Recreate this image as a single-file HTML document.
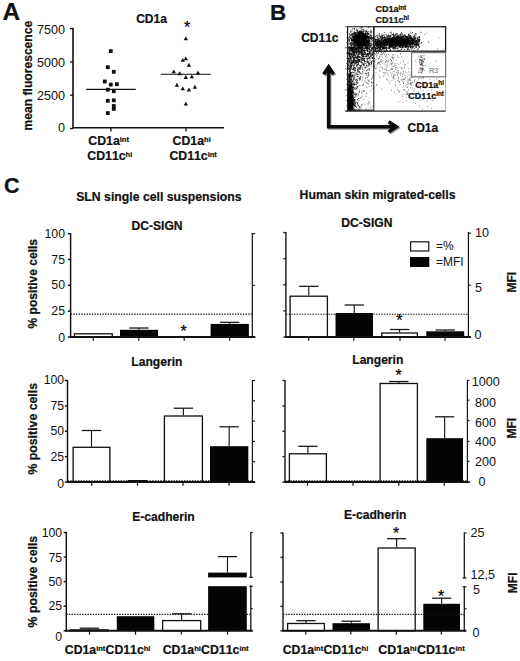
<!DOCTYPE html>
<html lang="en">
<head>
<meta charset="utf-8">
<title>Figure: CD1a / CD11c dendritic cell subsets</title>
<style>
html,body{margin:0;padding:0;background:#fff;}
body{width:520px;height:661px;overflow:hidden;font-family:"Liberation Sans",sans-serif;}
svg{display:block;}
svg text{font-family:"Liberation Sans",sans-serif;font-kerning:none;}
</style>
</head>
<body>
<svg width="520" height="661" viewBox="0 0 520 661" shape-rendering="auto">
<rect x="0" y="0" width="520" height="661" fill="#fff"/>
<text x="2.5" y="19.8" font-size="24.4" font-weight="bold" stroke="#111" stroke-width="0.22" text-anchor="start" fill="#111" >A</text>
<line x1="73.0" y1="27.8" x2="73.0" y2="128.5" stroke="#111" stroke-width="1.6" />
<line x1="72.2" y1="127.8" x2="224" y2="127.8" stroke="#111" stroke-width="1.6" />
<line x1="70.0" y1="128.5" x2="73.0" y2="128.5" stroke="#111" stroke-width="1.3" />
<text transform="translate(65.0 132.2) scale(1.05 1)" font-size="12" text-anchor="end" fill="#111" >0</text>
<line x1="70.0" y1="95.2" x2="73.0" y2="95.2" stroke="#111" stroke-width="1.3" />
<text transform="translate(65.0 100.2) scale(1.05 1)" font-size="12" text-anchor="end" fill="#111" >2500</text>
<line x1="70.0" y1="61.9" x2="73.0" y2="61.9" stroke="#111" stroke-width="1.3" />
<text transform="translate(65.0 66.7) scale(1.05 1)" font-size="12" text-anchor="end" fill="#111" >5000</text>
<line x1="70.0" y1="28.6" x2="73.0" y2="28.6" stroke="#111" stroke-width="1.3" />
<text transform="translate(65.0 33.7) scale(1.05 1)" font-size="12" text-anchor="end" fill="#111" >7500</text>
<line x1="110.9" y1="127.8" x2="110.9" y2="131.4" stroke="#111" stroke-width="1.3" />
<line x1="186.0" y1="127.8" x2="186.0" y2="131.4" stroke="#111" stroke-width="1.3" />
<text transform="translate(32.0 75.6) rotate(-90)" font-size="12.1" font-weight="bold" stroke="#111" stroke-width="0.22" text-anchor="middle" fill="#111">mean fluorescence</text>
<text x="136.2" y="22.5" font-size="12" font-weight="bold" stroke="#111" stroke-width="0.22" text-anchor="start" fill="#111" >CD1a</text>
<text x="187.0" y="32.96" font-size="16" text-anchor="middle" fill="#000" stroke="#000" stroke-width="0.25">*</text>
<rect x="108.9" y="49.2" width="3.8" height="3.8" fill="#111"/>
<rect x="105.9" y="65.3" width="3.8" height="3.8" fill="#111"/>
<rect x="111.9" y="69.9" width="3.8" height="3.8" fill="#111"/>
<rect x="102.9" y="79.6" width="3.8" height="3.8" fill="#111"/>
<rect x="108.9" y="82.7" width="3.8" height="3.8" fill="#111"/>
<rect x="115.0" y="82.3" width="3.8" height="3.8" fill="#111"/>
<rect x="105.9" y="87.8" width="3.8" height="3.8" fill="#111"/>
<rect x="111.9" y="89.3" width="3.8" height="3.8" fill="#111"/>
<rect x="105.9" y="98.9" width="3.8" height="3.8" fill="#111"/>
<rect x="111.9" y="98.4" width="3.8" height="3.8" fill="#111"/>
<rect x="111.9" y="104.1" width="3.8" height="3.8" fill="#111"/>
<rect x="111.9" y="107.0" width="3.8" height="3.8" fill="#111"/>
<rect x="105.9" y="111.2" width="3.8" height="3.8" fill="#111"/>
<line x1="86.2" y1="89.4" x2="135.8" y2="89.4" stroke="#111" stroke-width="1.1" />
<path d="M183.6 40.3L188.0 40.3L185.8 36.4Z" fill="#111"/>
<path d="M183.6 60.3L188.0 60.3L185.8 56.4Z" fill="#111"/>
<path d="M180.6 61.8L185.0 61.8L182.8 57.9Z" fill="#111"/>
<path d="M186.7 66.7L191.1 66.7L188.9 62.8Z" fill="#111"/>
<path d="M171.6 73.3L176.0 73.3L173.8 69.4Z" fill="#111"/>
<path d="M177.5 75.2L181.9 75.2L179.7 71.3Z" fill="#111"/>
<path d="M195.8 74.4L200.2 74.4L198.0 70.5Z" fill="#111"/>
<path d="M183.6 79.0L188.0 79.0L185.8 75.1Z" fill="#111"/>
<path d="M189.6 78.3L194.0 78.3L191.8 74.4Z" fill="#111"/>
<path d="M174.7 86.7L179.1 86.7L176.9 82.8Z" fill="#111"/>
<path d="M180.6 90.3L185.0 90.3L182.8 86.4Z" fill="#111"/>
<path d="M186.7 91.5L191.1 91.5L188.9 87.6Z" fill="#111"/>
<path d="M192.7 88.7L197.1 88.7L194.9 84.8Z" fill="#111"/>
<path d="M183.6 105.6L188.0 105.6L185.8 101.7Z" fill="#111"/>
<line x1="160.8" y1="74.3" x2="210.8" y2="74.3" stroke="#111" stroke-width="1.1" />
<text x="88.3" y="144.9" font-size="12.3" font-weight="bold" stroke="#111" stroke-width="0.22" text-anchor="start" fill="#111" >CD1a<tspan font-size="7.5" dy="-3.2">int</tspan><tspan dy="3.2" font-size="1"> </tspan></text>
<text x="87.3" y="160.1" font-size="12.3" font-weight="bold" stroke="#111" stroke-width="0.22" text-anchor="start" fill="#111" >CD11c<tspan font-size="7.5" dy="-3.2">hi</tspan><tspan dy="3.2" font-size="1"> </tspan></text>
<text x="172.6" y="144.9" font-size="12.3" font-weight="bold" stroke="#111" stroke-width="0.22" text-anchor="start" fill="#111" >CD1a<tspan font-size="7.5" dy="-3.2">hi</tspan><tspan dy="3.2" font-size="1"> </tspan></text>
<text x="169.4" y="160.1" font-size="12.3" font-weight="bold" stroke="#111" stroke-width="0.22" text-anchor="start" fill="#111" >CD11c<tspan font-size="7.5" dy="-3.2">int</tspan><tspan dy="3.2" font-size="1"> </tspan></text>
<text x="269.9" y="20.2" font-size="22.4" font-weight="bold" stroke="#111" stroke-width="0.22" text-anchor="start" fill="#111" >B</text>
<text x="301.2" y="42.3" font-size="12" font-weight="bold" stroke="#111" stroke-width="0.22" text-anchor="start" fill="#111" >CD11c</text>
<text x="407.5" y="131.7" font-size="12" font-weight="bold" stroke="#111" stroke-width="0.22" text-anchor="start" fill="#111" >CD1a</text>
<text x="375.4" y="12.3" font-size="9" font-weight="bold" stroke="#111" stroke-width="0.22" text-anchor="start" fill="#111" >CD1a<tspan font-size="6.3" dy="-2.4">int</tspan><tspan dy="2.4" font-size="1"> </tspan></text>
<text x="375.4" y="22.8" font-size="9" font-weight="bold" stroke="#111" stroke-width="0.22" text-anchor="start" fill="#111" >CD11c<tspan font-size="6.3" dy="-2.4">hi</tspan><tspan dy="2.4" font-size="1"> </tspan></text>
<path d="M328.6 127 L328.6 67.5 M323.7 74.2 L328.6 66.9 L333.5 74.2 M326.85 126.8 L395.5 126.8 M388.6 121.7 L396.4 126.8 L388.6 131.9" transform="translate(1.1 1.2)" fill="none" stroke="#999" stroke-width="3.5" stroke-linejoin="miter"/>
<path d="M328.6 127 L328.6 67.5 M323.7 74.2 L328.6 66.9 L333.5 74.2 M326.85 126.8 L395.5 126.8 M388.6 121.7 L396.4 126.8 L388.6 131.9" fill="none" stroke="#0a0a0a" stroke-width="3.5" stroke-linejoin="miter"/>
<path d="M368.6 40.8h0.95M358.0 39.4h0.95M360.5 38.9h0.95M362.3 40.6h0.95M356.4 45.2h0.95M360.3 32.0h0.95M360.3 34.4h0.95M351.7 33.8h0.95M365.3 37.1h0.95M363.2 33.0h0.95M357.2 42.0h0.95M359.5 40.2h0.95M362.8 38.8h0.95M359.0 37.1h0.95M359.1 40.4h0.95M353.2 40.5h0.95M363.0 41.1h0.95M360.9 37.0h0.95M361.6 42.3h0.95M352.8 34.1h0.95M368.4 44.7h0.95M361.1 27.8h0.95M358.4 37.5h0.95M370.2 35.1h0.95M360.1 42.9h0.95M353.2 34.0h0.95M358.3 46.9h0.95M349.1 33.8h0.95M365.4 47.7h0.95M358.3 41.5h0.95M356.7 39.9h0.95M365.6 41.5h0.95M352.2 48.4h0.95M362.9 43.3h0.95M350.2 31.1h0.95M357.1 44.5h0.95M354.4 40.7h0.95M367.5 33.5h0.95M369.0 42.8h0.95M358.7 35.1h0.95M364.4 40.5h0.95M359.4 40.7h0.95M363.1 37.3h0.95M356.6 42.3h0.95M351.9 35.8h0.95M351.5 40.5h0.95M362.2 37.7h0.95M371.3 39.1h0.95M361.6 47.3h0.95M357.7 40.2h0.95M369.7 35.6h0.95M361.5 39.3h0.95M360.8 36.8h0.95M361.5 39.9h0.95M359.7 40.4h0.95M358.8 40.1h0.95M353.3 40.1h0.95M362.8 37.7h0.95M359.8 41.6h0.95M366.1 43.9h0.95M358.5 37.4h0.95M351.0 39.6h0.95M359.8 40.0h0.95M368.6 44.7h0.95M358.4 44.0h0.95M355.9 37.0h0.95M354.5 40.1h0.95M355.2 34.0h0.95M358.8 36.0h0.95M354.5 39.9h0.95M367.6 42.3h0.95M358.9 43.5h0.95M360.8 38.6h0.95M367.3 34.5h0.95M367.7 41.3h0.95M359.3 39.1h0.95M361.9 41.5h0.95M363.9 40.4h0.95M359.4 42.6h0.95M351.6 42.4h0.95M363.5 43.1h0.95M364.7 38.0h0.95M362.3 43.7h0.95M355.8 37.8h0.95M359.3 40.1h0.95M357.4 47.1h0.95M358.8 41.2h0.95M366.7 35.3h0.95M367.8 45.6h0.95M363.6 43.7h0.95M363.0 44.2h0.95M363.6 40.6h0.95M360.2 41.1h0.95M359.9 38.9h0.95M357.0 37.1h0.95M360.0 45.8h0.95M371.4 38.4h0.95M364.6 37.9h0.95M358.6 38.1h0.95M358.0 47.1h0.95M356.1 43.2h0.95M362.1 38.4h0.95M362.2 39.6h0.95M353.2 41.8h0.95M362.7 43.2h0.95M357.5 33.5h0.95M367.3 43.3h0.95M361.1 38.9h0.95M368.7 37.1h0.95M358.1 38.3h0.95M358.9 42.9h0.95M361.8 46.7h0.95M365.5 40.4h0.95M363.1 42.0h0.95M354.3 36.6h0.95M361.2 41.7h0.95M360.4 43.0h0.95M358.2 34.0h0.95M357.1 37.8h0.95M368.9 42.9h0.95M358.4 32.9h0.95M356.2 38.3h0.95M363.4 42.1h0.95M360.9 33.2h0.95M359.9 38.3h0.95M364.1 40.0h0.95M362.7 43.3h0.95M362.1 34.8h0.95M365.0 44.1h0.95M361.7 41.0h0.95M357.3 44.5h0.95M358.5 44.3h0.95M357.7 41.1h0.95M361.3 41.7h0.95M355.0 33.0h0.95M351.3 34.5h0.95M360.7 35.9h0.95M353.8 38.4h0.95M350.7 43.4h0.95M362.1 32.8h0.95M356.8 38.6h0.95M362.7 34.6h0.95M357.7 33.7h0.95M354.8 45.6h0.95M354.2 40.2h0.95M357.8 46.2h0.95M359.0 44.4h0.95M356.3 36.2h0.95M358.9 32.6h0.95M352.8 47.9h0.95M360.4 38.2h0.95M351.5 35.3h0.95M359.4 42.5h0.95M363.7 40.3h0.95M365.7 37.2h0.95M368.7 38.5h0.95M352.7 40.4h0.95M364.0 40.1h0.95M366.2 42.7h0.95M365.1 38.4h0.95M355.7 38.5h0.95M362.3 42.1h0.95M369.4 41.0h0.95M353.0 44.1h0.95M362.6 38.8h0.95M365.8 39.4h0.95M356.9 35.3h0.95M363.2 45.6h0.95M355.1 34.4h0.95M356.3 40.6h0.95M356.3 36.3h0.95M361.2 41.1h0.95M359.9 42.7h0.95M365.0 33.4h0.95M355.7 39.0h0.95M359.7 32.9h0.95M365.0 45.3h0.95M363.0 38.1h0.95M353.8 33.7h0.95M363.6 37.1h0.95M358.0 44.9h0.95M362.2 45.6h0.95M361.8 44.8h0.95M366.3 36.7h0.95M360.9 39.2h0.95M351.2 46.2h0.95M353.6 36.9h0.95M363.9 38.5h0.95M359.0 36.1h0.95M365.9 35.3h0.95M361.6 44.5h0.95M356.6 42.3h0.95M365.6 41.6h0.95M356.3 42.1h0.95M350.2 43.8h0.95M370.4 45.7h0.95M350.9 39.8h0.95M363.4 38.5h0.95M364.9 35.8h0.95M361.0 44.0h0.95M352.1 37.8h0.95M365.3 34.0h0.95M353.2 38.8h0.95M353.7 39.9h0.95M358.5 43.0h0.95M364.2 43.7h0.95M361.8 36.9h0.95M364.3 36.7h0.95M358.1 38.5h0.95M359.5 35.1h0.95M354.7 39.4h0.95M358.7 41.6h0.95M363.2 40.0h0.95M358.8 33.5h0.95M362.6 35.2h0.95M357.5 44.8h0.95M357.4 35.8h0.95M360.5 42.7h0.95M359.3 42.3h0.95M363.2 38.5h0.95M361.2 35.9h0.95M368.8 40.6h0.95M359.2 36.3h0.95M359.2 39.1h0.95M355.2 40.2h0.95M360.4 37.0h0.95M363.6 38.9h0.95M356.7 38.6h0.95M360.1 35.0h0.95M363.8 39.1h0.95M359.7 37.3h0.95M357.8 32.7h0.95M365.1 38.5h0.95M360.8 38.7h0.95M362.2 37.4h0.95M366.0 31.8h0.95M365.9 42.8h0.95M358.6 42.5h0.95M357.7 42.3h0.95M361.7 41.1h0.95M359.6 34.9h0.95M351.0 40.3h0.95M366.5 36.2h0.95M360.4 48.3h0.95M363.9 37.8h0.95M354.6 42.4h0.95M366.6 33.7h0.95M357.4 35.2h0.95M359.8 37.7h0.95M353.4 42.5h0.95M359.5 41.9h0.95M359.2 40.9h0.95M359.4 32.6h0.95M362.4 44.2h0.95M360.6 36.2h0.95M365.1 46.1h0.95M358.0 47.1h0.95M355.4 43.0h0.95M360.2 43.7h0.95M363.4 34.9h0.95M366.4 49.9h0.95M364.3 40.6h0.95M351.6 43.7h0.95M362.1 36.5h0.95M367.5 39.5h0.95M360.6 35.2h0.95M357.8 38.9h0.95M361.8 39.9h0.95M357.8 40.8h0.95M363.4 45.2h0.95M360.2 41.7h0.95M367.1 40.8h0.95M362.7 40.0h0.95M356.8 47.6h0.95M363.3 37.5h0.95M364.9 44.4h0.95M357.5 32.2h0.95M358.2 36.4h0.95M349.0 41.4h0.95M364.7 39.2h0.95M357.4 51.5h0.95M349.9 49.9h0.95M351.6 33.9h0.95M359.2 35.6h0.95M364.0 39.2h0.95M359.9 46.6h0.95M362.6 44.2h0.95M354.9 41.1h0.95M353.7 34.3h0.95M364.6 36.5h0.95M362.7 29.3h0.95M360.2 33.8h0.95M366.6 41.5h0.95M355.6 42.9h0.95M358.2 34.7h0.95M365.3 40.2h0.95M369.3 46.2h0.95M360.3 40.5h0.95M368.5 38.6h0.95M357.3 42.2h0.95M361.9 41.9h0.95M359.4 40.1h0.95M352.5 37.7h0.95M361.6 38.2h0.95M364.9 40.2h0.95M359.6 37.7h0.95M360.0 45.0h0.95M367.1 43.3h0.95M354.2 44.1h0.95M353.0 47.7h0.95M357.1 46.0h0.95M354.4 45.4h0.95M366.9 41.3h0.95M361.8 39.1h0.95M356.1 48.8h0.95M357.3 37.2h0.95M374.3 37.4h0.95M357.3 36.4h0.95M356.6 40.7h0.95M361.8 41.4h0.95M363.4 43.8h0.95M361.4 38.9h0.95M355.8 33.1h0.95M354.6 41.1h0.95M363.2 43.6h0.95M360.0 39.9h0.95M352.3 39.3h0.95M366.0 42.0h0.95M364.1 45.4h0.95M359.1 39.6h0.95M359.0 34.3h0.95M361.4 37.6h0.95M356.9 39.2h0.95M353.7 32.8h0.95M361.9 42.8h0.95M353.2 36.8h0.95M362.2 41.8h0.95M353.2 40.6h0.95M359.8 38.6h0.95M359.6 46.2h0.95M369.0 37.6h0.95M355.1 37.2h0.95M353.4 40.9h0.95M357.1 43.1h0.95M354.8 39.8h0.95M357.4 36.0h0.95M362.4 42.5h0.95M364.1 42.2h0.95M368.4 47.9h0.95M356.7 38.9h0.95M373.2 40.6h0.95M370.0 37.6h0.95M359.3 34.0h0.95M349.1 40.1h0.95M359.9 43.1h0.95M360.7 35.9h0.95M349.0 37.2h0.95M360.7 35.2h0.95M359.3 45.0h0.95M356.5 37.3h0.95M363.4 42.1h0.95M365.2 36.4h0.95M357.9 40.1h0.95M361.4 37.4h0.95M357.1 30.6h0.95M356.4 40.1h0.95M360.7 41.9h0.95M362.9 31.7h0.95M357.5 39.1h0.95M349.5 38.1h0.95M363.2 35.6h0.95M352.5 38.8h0.95M360.9 32.2h0.95M369.0 40.8h0.95M360.2 44.4h0.95M354.5 34.9h0.95M353.1 39.5h0.95M366.0 45.4h0.95M360.2 40.3h0.95M362.9 37.8h0.95M364.8 36.2h0.95M360.1 40.5h0.95M358.8 39.3h0.95M355.7 42.3h0.95M352.9 44.0h0.95M360.0 38.2h0.95M359.4 42.3h0.95M362.3 37.0h0.95M359.7 34.7h0.95M361.1 37.6h0.95M364.2 36.1h0.95M356.0 38.3h0.95M358.9 42.3h0.95M352.4 44.0h0.95M365.1 40.6h0.95M360.5 37.7h0.95M362.7 38.0h0.95M367.9 42.1h0.95M365.6 44.2h0.95M360.0 38.5h0.95M364.2 39.3h0.95M353.3 36.9h0.95M362.4 40.6h0.95M361.0 43.5h0.95M352.4 28.5h0.95M366.9 40.8h0.95M356.9 37.7h0.95M363.6 30.7h0.95M358.2 41.0h0.95M365.2 39.5h0.95M366.7 41.2h0.95M356.2 34.5h0.95M352.8 48.1h0.95M359.7 40.2h0.95M364.5 38.5h0.95M358.5 45.7h0.95M357.3 42.3h0.95M362.7 43.0h0.95M357.0 31.7h0.95M353.5 46.3h0.95M361.7 38.4h0.95M356.7 40.9h0.95M354.8 43.4h0.95M358.6 37.0h0.95M353.1 41.0h0.95M360.2 42.8h0.95M357.0 39.6h0.95M358.5 41.7h0.95M356.8 33.5h0.95M364.8 35.2h0.95M359.8 35.3h0.95M362.9 41.2h0.95M362.7 54.4h0.95M356.3 40.8h0.95M363.1 39.2h0.95M362.0 39.5h0.95M361.8 43.6h0.95M358.3 42.6h0.95M358.2 35.3h0.95M364.1 43.8h0.95M371.0 39.7h0.95M356.2 43.0h0.95M362.9 32.0h0.95M358.5 33.7h0.95M364.1 42.1h0.95M362.4 32.8h0.95M365.5 41.3h0.95M357.4 40.4h0.95M355.5 41.2h0.95M359.8 40.8h0.95M356.8 41.5h0.95M357.2 38.2h0.95M363.6 39.7h0.95M369.6 51.2h0.95M358.8 42.2h0.95M361.8 41.3h0.95M360.3 37.0h0.95M358.6 40.7h0.95M353.7 38.8h0.95M355.7 43.5h0.95M363.9 36.2h0.95M365.6 30.6h0.95M360.8 37.6h0.95M356.2 42.5h0.95M360.8 49.4h0.95M359.1 43.8h0.95M363.0 36.0h0.95M360.9 38.9h0.95M357.3 36.1h0.95M361.2 39.1h0.95M354.5 36.3h0.95M364.3 33.4h0.95M366.1 41.5h0.95M354.5 40.6h0.95M362.4 39.1h0.95M355.4 41.2h0.95M365.6 47.7h0.95M364.7 40.3h0.95M359.2 38.3h0.95M365.2 43.2h0.95M358.2 33.4h0.95M357.1 42.7h0.95M357.5 36.8h0.95M359.6 36.6h0.95M358.7 40.2h0.95M361.1 46.3h0.95M357.3 36.9h0.95M364.0 43.5h0.95M365.3 41.3h0.95M357.9 34.4h0.95M353.3 43.4h0.95M363.8 36.6h0.95M365.9 34.1h0.95M359.5 36.7h0.95M354.0 37.0h0.95M361.6 42.1h0.95M367.8 36.9h0.95M351.1 45.6h0.95M362.6 40.7h0.95M358.8 37.0h0.95M356.1 36.5h0.95M362.7 40.7h0.95M353.9 31.9h0.95M361.8 31.3h0.95M366.7 36.3h0.95M361.2 42.3h0.95M356.0 40.5h0.95M351.6 39.9h0.95M354.0 39.0h0.95M351.3 31.3h0.95M368.1 38.5h0.95M359.1 32.9h0.95M355.2 43.1h0.95M353.9 39.8h0.95M355.1 39.4h0.95M358.7 41.4h0.95M354.0 41.1h0.95M368.5 40.7h0.95M356.6 41.2h0.95M356.5 37.5h0.95M361.8 34.6h0.95M367.4 41.1h0.95M366.8 45.4h0.95M357.9 43.7h0.95M361.6 39.0h0.95M361.0 42.2h0.95M362.9 38.1h0.95M361.6 41.3h0.95M355.7 37.4h0.95M354.1 40.3h0.95M361.2 47.6h0.95M354.5 42.8h0.95M367.0 45.6h0.95M360.5 36.8h0.95M355.3 37.1h0.95M358.7 39.6h0.95M357.8 42.0h0.95M359.7 39.0h0.95M364.9 43.8h0.95M353.2 37.7h0.95M351.1 45.1h0.95M362.0 43.6h0.95M359.4 35.4h0.95M361.1 42.1h0.95M362.5 38.9h0.95M359.4 43.8h0.95M364.2 37.7h0.95M355.9 41.0h0.95M360.6 41.9h0.95M356.2 29.1h0.95M354.8 32.5h0.95M363.3 40.3h0.95M363.1 39.3h0.95M350.8 43.8h0.95M354.8 40.7h0.95M361.7 34.8h0.95M365.5 41.1h0.95M357.0 36.9h0.95M359.4 38.9h0.95M353.4 37.8h0.95M372.6 41.2h0.95M362.6 34.3h0.95M364.7 35.4h0.95M363.5 31.1h0.95M364.9 48.2h0.95M363.3 35.9h0.95M358.7 36.4h0.95M363.9 35.3h0.95M360.7 37.3h0.95M366.7 38.1h0.95M356.7 42.2h0.95M357.6 40.5h0.95M363.5 41.1h0.95M366.6 37.5h0.95M361.0 39.5h0.95M356.8 44.5h0.95M359.7 39.7h0.95M357.9 41.0h0.95M369.6 31.9h0.95M364.7 41.8h0.95M366.5 40.8h0.95M361.8 44.8h0.95M357.6 29.1h0.95M366.0 39.9h0.95M368.4 39.3h0.95M363.2 40.1h0.95M360.2 37.3h0.95M365.6 40.6h0.95M358.5 42.5h0.95M364.0 39.9h0.95M356.8 38.6h0.95M355.5 38.9h0.95M363.1 38.2h0.95M362.0 39.9h0.95M369.6 36.9h0.95M358.9 32.0h0.95M360.4 45.0h0.95M354.7 32.9h0.95M351.1 39.3h0.95M351.6 34.6h0.95M362.6 38.6h0.95M354.5 35.9h0.95M365.8 39.5h0.95M367.3 36.4h0.95M358.9 34.6h0.95M368.4 40.9h0.95M361.4 44.9h0.95M365.8 41.0h0.95M359.2 40.1h0.95M365.0 35.6h0.95M355.7 39.3h0.95M363.4 41.4h0.95M358.0 37.1h0.95M359.7 43.2h0.95M363.4 39.5h0.95M361.1 41.0h0.95M359.9 37.7h0.95M363.9 37.7h0.95M364.2 40.5h0.95M353.5 41.1h0.95M363.0 41.0h0.95M363.6 35.7h0.95M356.6 36.8h0.95M362.2 39.5h0.95M353.8 32.4h0.95M367.4 43.7h0.95M359.1 40.9h0.95M359.9 39.8h0.95M366.2 36.8h0.95M359.6 42.8h0.95M363.2 38.5h0.95M355.2 47.0h0.95M357.5 41.1h0.95M353.5 33.8h0.95M359.3 42.4h0.95M365.4 37.5h0.95M361.4 37.6h0.95M364.6 38.7h0.95M355.3 39.1h0.95M356.0 40.6h0.95M358.0 42.6h0.95M363.1 41.4h0.95M362.0 36.8h0.95M360.2 34.3h0.95M363.4 36.4h0.95M359.6 41.0h0.95M360.2 43.0h0.95M366.7 46.6h0.95M357.4 34.3h0.95M361.2 39.9h0.95M368.2 38.7h0.95M360.8 38.0h0.95M363.8 40.1h0.95M357.3 38.6h0.95M369.9 38.5h0.95M349.3 37.0h0.95M354.7 41.1h0.95M355.1 43.7h0.95M368.2 45.9h0.95M362.0 37.5h0.95M359.0 35.5h0.95M354.0 38.5h0.95M362.1 36.3h0.95M360.9 43.6h0.95M356.9 36.4h0.95M353.0 39.9h0.95M354.9 34.3h0.95M361.3 38.2h0.95M361.8 40.3h0.95M360.7 45.5h0.95M359.6 36.9h0.95M351.6 41.0h0.95M360.5 31.5h0.95M355.2 34.9h0.95M360.5 36.4h0.95M362.6 37.6h0.95M357.0 41.2h0.95M355.3 42.0h0.95M365.2 33.3h0.95M362.0 41.6h0.95M357.2 35.2h0.95M360.1 40.8h0.95M363.4 40.2h0.95M365.8 38.9h0.95M357.0 39.4h0.95M357.1 39.6h0.95M358.1 36.9h0.95M364.4 42.5h0.95M354.5 40.6h0.95M359.7 42.5h0.95M355.8 39.3h0.95M361.6 42.2h0.95M352.7 36.6h0.95M362.1 53.5h0.95M357.9 36.8h0.95M359.2 37.8h0.95M362.9 43.3h0.95M365.9 44.4h0.95M352.0 36.4h0.95M365.2 33.1h0.95M363.0 34.1h0.95M358.9 35.7h0.95M367.2 36.5h0.95M361.2 38.9h0.95M366.6 43.6h0.95M357.4 43.8h0.95M356.1 37.2h0.95M366.3 41.7h0.95M370.9 43.0h0.95M363.4 45.0h0.95M364.7 38.9h0.95M358.0 36.6h0.95M353.8 42.5h0.95M359.2 45.4h0.95M367.7 37.5h0.95M351.2 47.1h0.95M357.9 46.2h0.95M350.9 38.5h0.95M360.8 33.4h0.95M364.6 37.2h0.95M354.2 38.2h0.95M358.3 41.6h0.95M366.8 33.0h0.95M359.9 49.0h0.95M354.2 48.7h0.95M353.9 36.7h0.95M350.4 32.3h0.95M364.1 38.9h0.95M356.6 41.2h0.95M365.4 44.8h0.95M364.5 42.3h0.95M357.1 38.7h0.95M357.7 31.9h0.95M364.1 41.5h0.95M361.0 42.8h0.95M361.6 38.3h0.95M352.2 40.6h0.95M364.7 40.3h0.95M356.0 38.6h0.95M349.2 35.0h0.95M357.3 40.9h0.95M362.4 34.0h0.95M370.6 45.0h0.95M358.5 36.0h0.95M353.8 41.4h0.95M370.7 36.7h0.95M361.1 41.0h0.95M359.0 38.7h0.95M355.0 41.6h0.95M355.4 36.4h0.95M367.5 33.2h0.95M359.0 38.4h0.95M357.7 38.1h0.95M357.8 33.6h0.95M368.0 36.8h0.95M357.4 33.0h0.95M363.4 40.0h0.95M361.6 38.1h0.95M361.5 39.6h0.95M356.0 49.7h0.95M363.5 40.1h0.95M368.2 41.0h0.95M360.0 42.0h0.95M355.8 39.0h0.95M354.0 37.2h0.95M361.2 42.9h0.95M359.0 43.5h0.95M359.8 28.1h0.95M360.4 38.9h0.95M353.1 38.2h0.95M364.1 37.3h0.95M361.4 44.3h0.95M359.9 37.4h0.95M361.4 42.9h0.95M364.8 37.4h0.95M360.6 37.9h0.95M356.1 42.3h0.95M366.0 36.6h0.95M358.2 38.9h0.95M356.7 35.2h0.95M352.6 36.0h0.95M360.3 42.3h0.95M355.2 41.8h0.95M357.8 35.0h0.95M362.5 34.9h0.95M360.5 49.4h0.95M365.3 37.0h0.95M361.8 36.1h0.95M358.3 41.5h0.95M358.7 36.5h0.95M357.8 38.1h0.95M363.5 43.0h0.95M360.4 43.4h0.95M358.3 38.7h0.95M364.4 44.7h0.95M360.8 38.9h0.95M358.0 38.6h0.95M352.9 39.5h0.95M362.4 38.3h0.95M361.5 41.5h0.95M360.6 40.6h0.95M358.2 36.5h0.95M356.2 40.2h0.95M359.2 37.4h0.95M361.4 37.2h0.95M359.7 38.9h0.95M359.6 43.5h0.95M358.0 40.6h0.95M362.0 44.4h0.95M361.4 45.6h0.95M356.6 39.4h0.95M364.0 37.1h0.95M364.2 36.4h0.95M364.3 40.6h0.95M359.7 42.9h0.95M359.3 45.7h0.95M354.6 34.4h0.95M364.0 43.1h0.95M349.8 43.7h0.95M358.4 49.0h0.95M358.6 40.2h0.95M364.5 39.4h0.95M360.3 33.6h0.95M355.6 36.5h0.95M353.3 35.2h0.95M356.7 35.6h0.95M360.8 36.0h0.95M360.6 33.5h0.95M359.3 39.2h0.95M356.9 41.0h0.95M359.3 42.5h0.95M365.2 39.1h0.95M354.9 43.6h0.95M360.5 43.7h0.95M368.2 33.6h0.95M363.0 38.5h0.95M358.1 34.7h0.95M363.5 35.7h0.95M356.6 40.3h0.95M360.3 39.0h0.95M367.9 45.2h0.95M369.6 47.5h0.95M351.9 41.2h0.95M363.7 38.8h0.95M369.8 39.0h0.95M357.6 39.5h0.95M361.6 41.8h0.95M367.7 36.7h0.95M357.9 41.8h0.95M362.5 38.6h0.95M360.0 43.7h0.95M350.9 44.9h0.95M362.0 46.3h0.95M359.4 39.0h0.95M364.8 34.3h0.95M370.6 33.0h0.95M363.7 38.4h0.95M358.5 34.1h0.95M362.5 33.2h0.95M361.3 38.2h0.95M365.3 35.7h0.95M353.2 42.3h0.95M354.6 47.1h0.95M350.3 38.7h0.95M363.3 40.8h0.95M360.2 33.4h0.95M357.2 40.3h0.95M356.7 36.9h0.95M357.5 35.3h0.95M355.8 32.3h0.95M358.7 45.8h0.95M357.9 33.3h0.95M367.1 34.9h0.95M361.9 39.6h0.95M356.3 40.7h0.95M357.4 40.8h0.95M366.2 40.0h0.95M362.5 36.1h0.95M361.7 42.6h0.95M363.8 40.4h0.95M368.1 34.0h0.95M354.3 45.9h0.95M356.6 38.3h0.95M351.8 43.3h0.95M362.7 34.0h0.95M358.4 35.0h0.95M357.0 37.4h0.95M356.6 36.9h0.95M363.7 43.6h0.95M359.6 33.3h0.95M357.7 40.3h0.95M366.5 35.7h0.95M355.2 41.7h0.95M354.1 40.5h0.95M373.0 37.5h0.95M358.5 48.3h0.95M357.6 39.5h0.95M356.7 43.9h0.95M359.6 34.5h0.95M364.1 39.2h0.95M364.0 40.0h0.95M363.0 40.2h0.95M358.9 38.3h0.95M353.0 36.4h0.95M361.7 27.6h0.95M367.7 37.5h0.95M365.5 36.1h0.95M359.5 38.7h0.95M364.2 43.0h0.95M358.4 48.3h0.95M360.0 41.8h0.95M354.3 43.7h0.95M358.8 42.1h0.95M361.0 42.5h0.95M359.5 42.0h0.95M364.1 38.7h0.95M369.5 38.4h0.95M366.8 41.0h0.95M358.8 46.7h0.95M356.7 42.8h0.95M357.1 46.0h0.95M355.5 34.7h0.95M360.5 40.8h0.95M362.4 41.3h0.95M361.2 41.8h0.95M361.2 34.4h0.95M361.1 32.6h0.95M359.7 31.5h0.95M356.7 38.2h0.95M368.8 48.9h0.95M365.4 40.6h0.95M355.8 35.0h0.95M355.9 41.1h0.95M357.4 38.6h0.95M360.5 40.4h0.95M366.5 38.0h0.95M365.3 34.7h0.95M365.5 37.7h0.95M365.6 42.6h0.95M365.7 41.0h0.95M363.9 44.6h0.95M362.5 35.6h0.95M359.7 43.9h0.95M351.8 40.0h0.95M359.7 40.6h0.95M369.1 44.7h0.95M357.7 39.3h0.95M357.2 40.8h0.95M365.3 42.3h0.95M360.7 42.4h0.95M357.9 43.0h0.95M367.9 44.9h0.95M363.4 41.9h0.95M364.0 38.2h0.95M357.5 49.4h0.95M362.7 39.8h0.95M362.1 41.4h0.95M364.1 37.0h0.95M365.9 31.4h0.95M365.8 36.9h0.95M361.1 40.2h0.95M363.7 42.0h0.95M354.7 40.0h0.95M363.5 43.0h0.95M363.7 43.8h0.95M358.4 43.8h0.95M356.5 40.0h0.95M360.0 40.3h0.95M354.4 39.1h0.95M362.0 36.5h0.95M361.7 45.5h0.95M355.7 35.1h0.95M360.5 39.7h0.95M365.5 40.8h0.95M365.5 31.6h0.95M365.3 42.9h0.95M359.6 38.6h0.95M358.6 40.8h0.95M358.4 38.7h0.95M363.2 34.0h0.95M371.8 40.7h0.95M367.2 40.4h0.95M368.1 43.9h0.95M366.9 41.8h0.95M352.4 33.4h0.95M359.3 44.3h0.95M358.2 43.1h0.95M366.4 43.0h0.95M368.6 41.9h0.95M357.0 37.2h0.95M360.5 42.0h0.95M363.0 38.5h0.95M357.9 51.2h0.95M357.2 39.0h0.95M357.0 35.6h0.95M364.6 38.6h0.95M355.8 45.6h0.95M365.9 37.7h0.95M360.7 30.4h0.95M364.0 45.7h0.95M367.9 41.2h0.95M357.0 38.0h0.95M356.3 42.8h0.95M362.4 36.4h0.95M355.2 35.4h0.95M356.7 43.7h0.95M359.7 38.0h0.95M361.1 42.0h0.95M354.2 40.0h0.95M358.4 43.2h0.95M363.2 40.4h0.95M366.9 32.0h0.95M350.7 42.6h0.95M366.7 38.1h0.95M364.6 43.4h0.95M355.0 40.4h0.95M353.1 45.5h0.95M362.3 38.7h0.95M358.2 31.9h0.95M361.0 38.7h0.95M364.5 42.0h0.95M358.5 38.6h0.95M361.1 38.1h0.95M362.6 45.7h0.95M364.6 39.4h0.95M368.9 44.1h0.95M368.6 40.5h0.95M361.5 34.3h0.95M359.1 36.3h0.95M371.9 38.7h0.95M363.4 41.2h0.95M362.4 36.8h0.95M354.9 34.4h0.95M364.1 36.0h0.95M356.5 37.9h0.95M358.1 36.5h0.95M353.8 37.7h0.95M357.8 47.2h0.95M360.6 41.0h0.95M353.0 36.8h0.95M355.9 39.9h0.95M359.9 46.1h0.95M354.1 42.5h0.95M354.2 39.6h0.95M356.2 34.7h0.95M353.4 33.3h0.95M363.3 38.6h0.95M355.5 39.5h0.95M364.1 33.6h0.95M364.8 34.7h0.95M354.5 39.8h0.95M360.5 31.3h0.95M358.0 33.2h0.95M354.8 39.7h0.95M358.7 42.1h0.95M359.1 41.2h0.95M363.8 43.8h0.95M365.3 46.1h0.95M354.9 43.4h0.95M358.3 38.9h0.95M362.9 48.3h0.95M366.1 46.5h0.95M348.4 43.6h0.95M366.5 36.8h0.95M359.5 41.5h0.95M367.8 31.8h0.95M358.2 38.7h0.95M356.2 30.3h0.95M360.5 38.3h0.95M366.0 44.0h0.95M360.4 40.0h0.95M348.8 46.3h0.95M363.6 40.0h0.95M352.4 40.4h0.95M355.5 38.8h0.95M354.6 42.1h0.95M351.3 39.9h0.95M354.2 44.7h0.95M355.5 46.3h0.95M357.3 41.5h0.95M360.0 35.6h0.95M358.7 42.2h0.95M353.0 45.3h0.95M359.4 42.6h0.95M365.1 41.2h0.95M364.9 43.7h0.95M361.0 45.2h0.95M363.3 29.8h0.95M364.7 46.0h0.95M367.0 43.0h0.95M368.6 41.9h0.95M358.7 37.9h0.95M359.0 40.9h0.95M367.5 42.4h0.95M367.9 34.2h0.95M367.8 42.9h0.95M348.8 40.3h0.95M359.2 45.8h0.95M363.9 39.3h0.95M360.6 40.2h0.95M360.6 42.5h0.95M359.6 40.6h0.95M366.7 42.2h0.95M358.9 37.3h0.95M365.4 35.2h0.95M363.0 37.8h0.95M362.0 34.5h0.95M362.6 37.0h0.95M360.8 41.4h0.95M354.9 33.7h0.95M363.8 35.2h0.95M363.8 42.9h0.95M359.6 38.0h0.95M363.9 40.0h0.95M364.7 35.2h0.95M354.0 36.0h0.95M359.6 38.9h0.95M358.1 46.4h0.95M355.9 41.8h0.95M361.9 33.5h0.95M356.2 41.8h0.95M358.2 43.6h0.95M361.5 42.7h0.95M362.0 35.3h0.95M361.9 39.8h0.95M371.2 48.3h0.95M357.8 36.4h0.95M361.5 41.3h0.95M354.4 37.1h0.95M362.7 35.1h0.95M366.0 38.4h0.95M366.2 44.1h0.95M357.2 44.6h0.95M358.9 36.6h0.95M366.5 38.2h0.95M359.8 36.6h0.95M365.0 31.9h0.95M355.5 42.4h0.95M367.1 46.1h0.95M365.3 45.9h0.95M362.6 38.2h0.95M356.4 45.2h0.95M359.5 44.3h0.95M361.0 38.7h0.95M359.4 30.4h0.95M356.9 42.8h0.95M361.1 43.6h0.95M372.2 44.1h0.95M353.0 55.2h0.95M351.1 39.2h0.95M365.6 42.9h0.95M359.9 32.9h0.95M352.4 39.6h0.95M353.7 42.2h0.95M355.2 41.8h0.95M361.8 46.8h0.95M366.5 47.4h0.95M358.4 49.0h0.95M360.6 42.0h0.95M354.3 45.9h0.95M366.7 38.7h0.95M368.9 45.2h0.95M357.7 45.9h0.95M354.3 40.0h0.95M366.0 39.1h0.95M353.3 58.4h0.95M357.5 39.2h0.95M367.9 43.6h0.95M355.7 49.7h0.95M357.8 45.0h0.95M356.1 41.8h0.95M364.1 35.3h0.95M369.3 41.2h0.95M350.8 35.8h0.95M357.5 45.1h0.95M358.2 52.0h0.95M355.2 49.3h0.95M351.2 39.4h0.95M365.3 37.1h0.95M360.7 34.6h0.95M364.6 45.6h0.95M370.2 46.4h0.95M357.0 47.7h0.95M363.4 45.0h0.95M356.8 35.7h0.95M359.0 31.5h0.95M361.9 49.6h0.95M358.5 37.9h0.95M349.0 54.3h0.95M370.2 30.3h0.95M360.7 36.3h0.95M351.6 37.3h0.95M359.4 46.9h0.95M364.2 39.6h0.95M366.7 46.5h0.95M367.4 35.1h0.95M356.9 39.9h0.95M364.1 35.6h0.95M348.8 39.6h0.95M360.7 39.0h0.95M366.0 44.7h0.95M355.3 63.5h0.95M358.5 34.7h0.95M360.4 41.7h0.95M360.6 47.0h0.95M370.1 43.3h0.95M352.1 51.4h0.95M369.0 36.7h0.95M350.9 47.5h0.95M354.9 38.2h0.95M354.2 47.8h0.95M359.0 43.9h0.95M356.2 44.4h0.95M363.0 39.4h0.95M359.7 31.8h0.95M375.1 36.3h0.95M362.3 47.1h0.95M357.9 41.3h0.95M362.2 47.3h0.95M363.8 34.9h0.95M358.3 46.7h0.95M351.8 48.9h0.95M354.0 29.6h0.95M360.9 44.8h0.95M365.5 54.5h0.95M363.0 38.4h0.95M359.0 48.9h0.95M363.6 43.1h0.95M356.2 48.0h0.95M361.4 40.6h0.95M369.6 38.3h0.95M367.5 40.3h0.95M369.1 40.7h0.95M357.0 39.4h0.95M361.1 37.6h0.95M352.6 49.5h0.95M366.1 39.4h0.95M356.6 35.7h0.95M350.4 37.3h0.95M356.1 45.8h0.95M361.4 29.6h0.95M349.7 47.2h0.95M366.5 50.6h0.95M360.3 40.3h0.95M359.3 38.0h0.95M348.3 44.0h0.95M370.7 43.8h0.95M366.8 50.8h0.95M364.5 43.3h0.95M351.8 40.4h0.95M363.6 35.0h0.95M367.6 41.7h0.95M357.3 43.4h0.95M357.8 50.0h0.95M356.3 43.6h0.95M363.8 51.0h0.95M357.9 50.4h0.95M357.4 38.4h0.95M349.4 36.1h0.95M347.9 39.2h0.95M366.1 41.6h0.95M370.6 38.1h0.95M365.6 47.2h0.95M369.5 47.0h0.95M355.8 50.2h0.95M359.2 44.7h0.95M362.2 40.4h0.95M358.4 45.4h0.95M371.3 37.5h0.95M350.3 43.9h0.95M355.5 38.4h0.95M357.1 49.9h0.95M365.5 48.1h0.95M367.5 42.7h0.95M365.9 45.0h0.95M361.8 44.2h0.95M369.3 50.8h0.95M376.0 52.9h0.95M360.9 43.1h0.95M364.7 52.8h0.95M362.3 39.1h0.95M363.2 45.5h0.95M356.1 45.6h0.95M354.6 35.4h0.95M363.9 45.0h0.95M356.0 39.0h0.95M366.2 47.8h0.95M365.2 37.7h0.95M356.5 32.4h0.95M362.2 35.2h0.95M360.2 43.1h0.95M358.7 44.9h0.95M367.6 45.0h0.95M360.0 38.4h0.95M361.3 47.7h0.95M363.9 41.7h0.95M349.6 48.9h0.95M357.0 42.0h0.95M371.0 31.7h0.95M372.2 47.3h0.95M357.0 43.0h0.95M350.9 40.7h0.95M362.5 50.7h0.95M356.9 39.2h0.95M362.1 46.9h0.95M350.3 43.8h0.95M367.5 58.6h0.95M370.6 32.2h0.95M349.6 44.2h0.95M354.3 45.1h0.95M354.9 49.6h0.95M364.9 40.5h0.95M361.2 51.3h0.95M358.1 40.4h0.95M354.2 44.7h0.95M364.7 42.7h0.95M350.2 34.9h0.95M354.3 39.7h0.95M364.7 42.7h0.95M357.3 43.6h0.95M353.9 49.6h0.95M363.1 46.0h0.95M356.4 46.4h0.95M355.3 42.6h0.95M357.6 50.5h0.95M362.1 39.3h0.95M378.6 42.4h0.95M352.2 34.1h0.95M361.7 36.7h0.95M358.7 48.1h0.95M358.0 42.7h0.95M370.4 31.9h0.95M365.2 42.7h0.95M364.5 41.6h0.95M356.7 36.2h0.95M353.9 45.0h0.95M361.9 41.3h0.95M357.9 43.0h0.95M355.9 48.6h0.95M364.6 39.3h0.95M351.5 49.4h0.95M354.8 41.3h0.95M365.4 41.4h0.95M359.3 50.7h0.95M364.6 45.2h0.95M353.9 40.5h0.95M364.8 42.2h0.95M355.0 44.2h0.95M369.4 34.2h0.95M365.5 46.9h0.95M363.2 42.9h0.95M370.7 35.2h0.95M362.4 37.3h0.95M355.6 48.1h0.95M370.8 35.4h0.95M362.4 55.8h0.95M368.5 36.5h0.95M361.1 44.2h0.95M368.1 27.6h0.95M354.0 42.5h0.95M351.2 39.8h0.95M350.2 45.8h0.95M365.3 44.1h0.95M350.1 47.5h0.95M361.7 38.5h0.95M363.1 45.0h0.95M365.6 39.3h0.95M362.3 50.3h0.95M368.5 39.5h0.95M366.7 43.7h0.95M355.3 35.9h0.95M361.5 47.5h0.95M358.9 43.5h0.95M363.3 42.8h0.95M361.5 48.4h0.95M360.3 52.6h0.95M365.1 47.5h0.95M360.6 32.4h0.95M365.3 45.1h0.95M360.4 44.3h0.95M359.0 35.9h0.95M366.6 33.0h0.95M366.8 40.3h0.95M368.8 40.9h0.95M364.5 42.3h0.95M358.7 38.3h0.95M361.5 43.6h0.95M361.2 44.4h0.95M347.9 40.9h0.95M352.3 45.0h0.95M370.8 39.1h0.95M359.7 33.2h0.95M359.3 47.9h0.95M361.3 58.8h0.95M351.6 29.9h0.95M376.0 39.6h0.95M368.0 37.4h0.95M365.8 44.2h0.95M358.8 37.4h0.95M363.5 43.4h0.95M366.0 48.6h0.95M363.5 38.1h0.95M355.5 42.2h0.95M361.4 52.3h0.95M361.0 48.0h0.95M362.2 32.9h0.95M352.8 55.1h0.95M361.9 38.6h0.95M360.1 44.5h0.95M361.7 40.2h0.95M361.5 40.0h0.95M350.0 38.5h0.95M366.0 46.4h0.95M365.3 38.0h0.95M350.7 35.1h0.95M359.4 39.3h0.95M354.1 42.7h0.95M356.8 30.7h0.95M367.0 47.5h0.95M363.7 38.4h0.95M373.8 47.0h0.95M360.6 51.0h0.95M352.1 44.6h0.95M360.7 45.9h0.95M372.3 38.7h0.95M361.7 31.4h0.95M363.0 41.6h0.95M360.9 39.4h0.95M353.9 28.5h0.95M359.0 44.4h0.95M354.3 51.8h0.95M356.2 45.1h0.95M362.0 49.7h0.95M351.3 41.1h0.95M371.1 36.6h0.95M352.2 43.1h0.95M365.4 40.7h0.95M355.1 35.9h0.95M350.9 48.9h0.95M362.2 43.8h0.95M360.7 38.8h0.95M357.9 43.9h0.95M359.0 41.9h0.95M355.1 46.5h0.95M362.4 52.3h0.95M356.0 39.0h0.95M359.5 35.6h0.95M367.1 51.0h0.95M350.1 57.1h0.95M355.3 39.1h0.95M354.5 37.3h0.95M353.7 35.6h0.95M349.8 42.7h0.95M357.3 43.4h0.95M360.2 41.2h0.95M358.4 47.8h0.95M348.0 37.9h0.95M363.9 39.2h0.95M364.0 35.3h0.95M359.6 51.1h0.95M352.1 49.2h0.95M353.1 50.6h0.95M372.6 37.8h0.95M371.1 50.8h0.95M362.4 44.6h0.95M352.7 47.1h0.95M367.8 46.3h0.95M360.3 40.9h0.95M370.7 41.8h0.95M355.1 33.6h0.95M362.3 39.6h0.95M357.6 41.5h0.95M364.3 35.9h0.95M354.6 43.4h0.95M365.4 50.5h0.95M356.3 39.9h0.95M352.8 37.1h0.95M363.0 37.8h0.95M360.7 44.0h0.95M412.6 39.7h0.95M399.2 37.8h0.95M398.3 37.9h0.95M387.3 42.5h0.95M400.6 40.1h0.95M403.1 36.8h0.95M394.4 47.3h0.95M397.6 36.4h0.95M392.2 42.0h0.95M404.1 38.5h0.95M409.2 43.4h0.95M401.0 41.6h0.95M402.1 44.3h0.95M398.3 41.2h0.95M392.4 39.2h0.95M391.3 45.6h0.95M394.4 41.2h0.95M398.8 40.8h0.95M397.8 40.9h0.95M406.4 39.3h0.95M404.1 42.4h0.95M410.4 46.3h0.95M404.4 45.7h0.95M395.8 42.3h0.95M398.7 43.3h0.95M384.1 43.6h0.95M412.0 39.5h0.95M392.9 45.7h0.95M394.4 42.1h0.95M413.3 36.1h0.95M388.8 43.2h0.95M392.6 38.7h0.95M397.3 42.3h0.95M393.0 43.3h0.95M398.6 40.5h0.95M400.0 42.2h0.95M403.3 45.3h0.95M397.0 37.4h0.95M403.8 35.9h0.95M395.1 41.0h0.95M403.1 40.7h0.95M407.9 47.4h0.95M383.3 44.3h0.95M396.0 42.9h0.95M399.4 41.1h0.95M381.9 35.8h0.95M372.1 37.5h0.95M400.6 40.4h0.95M392.4 41.9h0.95M404.5 40.1h0.95M397.8 41.7h0.95M397.8 43.4h0.95M395.0 39.3h0.95M398.8 40.1h0.95M390.2 38.5h0.95M393.6 44.8h0.95M404.6 35.5h0.95M395.8 43.1h0.95M402.2 43.6h0.95M397.8 35.4h0.95M395.1 39.9h0.95M389.7 44.5h0.95M405.0 38.7h0.95M390.9 39.6h0.95M401.1 41.2h0.95M384.8 45.1h0.95M400.2 43.1h0.95M401.2 39.3h0.95M392.5 37.3h0.95M384.2 36.9h0.95M396.6 42.3h0.95M398.8 35.0h0.95M393.5 39.6h0.95M392.2 43.0h0.95M405.6 37.8h0.95M397.0 40.3h0.95M394.4 40.9h0.95M405.0 43.5h0.95M397.7 37.4h0.95M392.0 41.5h0.95M405.3 41.1h0.95M394.9 41.6h0.95M405.7 36.7h0.95M392.2 42.7h0.95M400.6 38.8h0.95M408.3 40.9h0.95M401.8 38.8h0.95M402.1 46.9h0.95M401.7 41.4h0.95M405.1 47.5h0.95M398.6 39.5h0.95M401.7 40.5h0.95M396.0 45.6h0.95M414.2 40.2h0.95M390.5 42.6h0.95M404.9 44.6h0.95M389.7 40.2h0.95M402.5 39.3h0.95M409.0 40.6h0.95M388.7 44.2h0.95M412.7 42.5h0.95M389.8 45.0h0.95M391.0 40.5h0.95M400.6 39.9h0.95M388.7 38.0h0.95M406.2 40.4h0.95M402.0 39.6h0.95M375.1 40.9h0.95M385.9 38.6h0.95M391.8 39.2h0.95M401.4 40.4h0.95M388.9 44.1h0.95M391.8 40.3h0.95M403.1 39.6h0.95M389.5 44.3h0.95M400.4 45.2h0.95M386.4 40.4h0.95M406.3 40.6h0.95M409.8 36.0h0.95M388.2 36.8h0.95M378.0 41.2h0.95M383.7 45.3h0.95M405.9 46.6h0.95M393.0 43.7h0.95M406.6 39.9h0.95M386.6 42.8h0.95M389.9 37.1h0.95M396.8 41.1h0.95M406.8 37.9h0.95M396.0 41.3h0.95M389.1 45.5h0.95M400.3 47.6h0.95M398.5 41.9h0.95M402.0 42.5h0.95M396.3 36.5h0.95M392.5 39.4h0.95M397.9 45.7h0.95M377.0 44.7h0.95M400.0 43.7h0.95M408.1 42.6h0.95M402.4 46.1h0.95M389.8 40.6h0.95M384.9 40.8h0.95M408.8 49.5h0.95M393.5 38.8h0.95M396.0 42.6h0.95M399.6 40.2h0.95M392.8 45.7h0.95M398.1 40.6h0.95M410.3 40.3h0.95M393.6 40.4h0.95M413.9 43.7h0.95M401.0 38.4h0.95M400.4 37.0h0.95M405.7 41.0h0.95M405.5 40.3h0.95M406.6 42.9h0.95M402.5 40.3h0.95M392.9 39.6h0.95M411.5 42.2h0.95M396.5 42.6h0.95M390.8 44.3h0.95M405.3 41.5h0.95M403.2 36.1h0.95M397.5 41.2h0.95M398.4 41.3h0.95M402.7 41.0h0.95M414.0 42.9h0.95M397.2 40.5h0.95M387.2 44.6h0.95M393.0 40.5h0.95M402.1 45.4h0.95M396.1 38.1h0.95M392.2 34.5h0.95M403.9 38.5h0.95M404.0 49.6h0.95M396.1 40.6h0.95M400.2 41.0h0.95M392.4 42.1h0.95M392.7 40.1h0.95M394.9 42.1h0.95M386.4 41.7h0.95M400.6 47.3h0.95M397.1 44.8h0.95M393.5 42.2h0.95M398.6 43.4h0.95M398.8 43.1h0.95M391.4 38.2h0.95M392.7 44.6h0.95M391.0 39.5h0.95M409.0 43.7h0.95M383.5 41.8h0.95M396.9 44.0h0.95M404.6 45.5h0.95M388.5 43.1h0.95M389.5 40.0h0.95M389.3 40.5h0.95M382.3 43.0h0.95M407.3 40.2h0.95M395.2 40.3h0.95M387.9 41.1h0.95M391.7 40.4h0.95M398.5 42.9h0.95M394.2 40.1h0.95M389.4 41.7h0.95M401.1 39.3h0.95M389.4 36.4h0.95M393.5 43.7h0.95M398.2 44.2h0.95M390.7 40.0h0.95M397.4 43.7h0.95M391.3 42.3h0.95M419.1 38.0h0.95M393.3 44.9h0.95M402.4 35.6h0.95M389.5 41.3h0.95M387.2 43.5h0.95M395.6 38.2h0.95M393.7 46.1h0.95M393.7 39.7h0.95M396.3 45.1h0.95M404.0 40.9h0.95M412.6 43.4h0.95M413.5 41.3h0.95M397.0 48.3h0.95M411.9 42.7h0.95M410.8 44.5h0.95M391.2 43.6h0.95M392.3 42.0h0.95M395.5 40.8h0.95M412.8 42.7h0.95M395.1 44.4h0.95M394.3 44.2h0.95M407.9 43.1h0.95M394.7 41.1h0.95M394.9 43.6h0.95M401.2 38.7h0.95M397.7 41.5h0.95M375.9 35.6h0.95M385.7 39.6h0.95M402.1 41.1h0.95M384.1 37.5h0.95M406.4 38.2h0.95M395.5 44.3h0.95M398.2 43.1h0.95M398.4 44.8h0.95M381.0 45.0h0.95M390.1 43.5h0.95M387.2 43.9h0.95M398.1 42.5h0.95M408.9 45.4h0.95M394.2 37.2h0.95M396.7 41.1h0.95M379.7 44.7h0.95M392.9 44.1h0.95M394.0 41.8h0.95M394.5 40.7h0.95M401.1 44.1h0.95M407.9 41.2h0.95M396.0 38.4h0.95M399.4 45.0h0.95M383.0 40.6h0.95M401.2 42.2h0.95M396.4 37.0h0.95M381.4 34.2h0.95M399.0 43.0h0.95M390.6 46.5h0.95M404.6 35.0h0.95M400.0 40.2h0.95M396.8 43.3h0.95M410.6 42.2h0.95M394.8 41.8h0.95M393.6 41.6h0.95M396.5 38.9h0.95M397.2 44.8h0.95M389.1 44.4h0.95M401.0 42.7h0.95M399.8 35.0h0.95M391.8 46.5h0.95M383.2 41.5h0.95M406.5 43.2h0.95M407.5 47.2h0.95M404.0 45.5h0.95M404.8 41.4h0.95M411.7 44.8h0.95M399.5 43.4h0.95M410.5 40.0h0.95M395.6 42.0h0.95M389.6 36.5h0.95M397.1 37.1h0.95M394.4 42.2h0.95M401.2 45.8h0.95M412.4 38.8h0.95M400.7 45.2h0.95M406.0 42.1h0.95M415.2 46.9h0.95M412.4 40.6h0.95M398.1 50.3h0.95M391.7 43.0h0.95M415.3 41.0h0.95M388.3 42.4h0.95M382.0 36.4h0.95M380.5 42.7h0.95M407.3 40.8h0.95M385.0 43.1h0.95M395.2 40.7h0.95M396.3 33.8h0.95M408.4 34.1h0.95M385.8 39.8h0.95M397.9 38.0h0.95M400.0 44.2h0.95M409.4 38.5h0.95M395.4 42.9h0.95M399.7 41.2h0.95M395.1 46.1h0.95M406.7 41.9h0.95M405.4 42.2h0.95M394.2 38.7h0.95M402.1 42.7h0.95M385.0 43.6h0.95M398.1 41.3h0.95M390.0 43.7h0.95M394.0 38.6h0.95M406.1 41.0h0.95M415.8 42.8h0.95M399.3 40.7h0.95M396.4 45.2h0.95M394.8 43.5h0.95M404.0 39.8h0.95M396.1 38.9h0.95M405.9 41.6h0.95M410.7 39.5h0.95M402.9 40.5h0.95M394.4 38.3h0.95M404.1 43.9h0.95M391.8 42.1h0.95M382.7 42.5h0.95M407.3 44.0h0.95M413.9 34.9h0.95M408.9 41.7h0.95M394.6 40.9h0.95M369.0 43.6h0.95M391.4 43.1h0.95M402.9 43.1h0.95M394.3 45.4h0.95M409.4 36.2h0.95M390.7 38.5h0.95M401.8 45.2h0.95M399.5 45.8h0.95M399.8 39.3h0.95M385.6 44.9h0.95M396.7 44.2h0.95M399.8 37.6h0.95M394.1 39.9h0.95M386.4 42.6h0.95M393.4 41.4h0.95M389.4 46.9h0.95M400.4 43.4h0.95M405.7 44.2h0.95M400.3 39.7h0.95M400.6 38.1h0.95M395.9 39.8h0.95M399.1 45.7h0.95M380.9 47.0h0.95M398.1 39.3h0.95M405.0 41.2h0.95M392.9 34.4h0.95M403.3 45.4h0.95M384.6 38.0h0.95M397.8 44.2h0.95M395.8 45.4h0.95M401.4 37.7h0.95M398.6 39.1h0.95M416.3 43.7h0.95M370.3 45.6h0.95M385.0 40.1h0.95M391.6 38.6h0.95M398.2 42.6h0.95M391.9 45.3h0.95M391.6 38.4h0.95M383.9 39.3h0.95M385.8 45.0h0.95M389.9 42.2h0.95M410.3 39.2h0.95M390.4 41.6h0.95M420.9 43.0h0.95M406.4 44.6h0.95M394.9 42.5h0.95M404.3 41.6h0.95M406.1 36.7h0.95M387.1 43.2h0.95M383.5 43.1h0.95M409.9 42.2h0.95M389.2 41.7h0.95M404.8 42.0h0.95M403.2 44.4h0.95M383.1 40.5h0.95M402.9 38.1h0.95M402.2 44.2h0.95M408.3 40.5h0.95M397.1 40.8h0.95M401.3 42.8h0.95M400.6 40.9h0.95M395.4 41.4h0.95M411.4 38.3h0.95M405.7 45.4h0.95M410.5 37.7h0.95M400.4 45.4h0.95M407.3 37.9h0.95M389.3 39.5h0.95M392.1 40.4h0.95M405.9 44.1h0.95M395.4 42.2h0.95M394.0 40.2h0.95M398.7 38.0h0.95M383.9 44.5h0.95M398.8 41.7h0.95M401.6 42.8h0.95M394.6 41.0h0.95M387.8 40.1h0.95M412.3 43.5h0.95M401.0 42.4h0.95M388.6 44.9h0.95M392.3 42.1h0.95M383.6 37.5h0.95M382.5 43.8h0.95M381.0 41.7h0.95M390.2 40.9h0.95M401.0 32.6h0.95M403.7 39.1h0.95M396.4 42.1h0.95M406.1 39.8h0.95M402.2 42.3h0.95M387.6 43.3h0.95M390.2 41.5h0.95M399.8 38.9h0.95M403.2 42.8h0.95M406.6 42.6h0.95M385.6 40.9h0.95M380.8 36.1h0.95M414.6 38.0h0.95M395.0 43.9h0.95M406.0 40.8h0.95M397.7 36.4h0.95M385.6 41.0h0.95M409.4 41.7h0.95M401.5 43.4h0.95M410.1 42.8h0.95M402.7 42.7h0.95M389.1 39.3h0.95M397.2 36.7h0.95M406.1 39.8h0.95M391.7 45.5h0.95M399.2 37.1h0.95M407.5 44.1h0.95M387.0 37.2h0.95M394.4 37.8h0.95M399.1 41.8h0.95M405.8 39.2h0.95M396.8 40.8h0.95M391.5 38.2h0.95M402.4 41.9h0.95M392.4 44.0h0.95M401.2 37.3h0.95M400.7 43.1h0.95M396.0 42.6h0.95M405.0 43.8h0.95M407.8 34.9h0.95M386.5 44.1h0.95M402.1 38.1h0.95M396.3 40.8h0.95M395.1 40.2h0.95M398.4 38.5h0.95M407.8 39.0h0.95M396.5 39.4h0.95M395.0 42.0h0.95M387.1 43.6h0.95M396.4 40.6h0.95M397.8 43.8h0.95M389.7 41.9h0.95M395.2 44.8h0.95M401.9 37.6h0.95M409.7 41.9h0.95M395.4 41.3h0.95M414.9 41.9h0.95M406.4 42.5h0.95M405.3 43.8h0.95M403.0 41.9h0.95M398.8 43.0h0.95M392.7 40.6h0.95M397.5 41.0h0.95M398.6 39.6h0.95M399.5 44.6h0.95M411.2 43.7h0.95M415.2 45.2h0.95M402.8 40.1h0.95M406.7 41.0h0.95M392.4 48.6h0.95M381.4 44.6h0.95M397.4 37.3h0.95M400.4 43.6h0.95M410.2 42.5h0.95M418.9 40.5h0.95M400.6 40.7h0.95M409.4 39.0h0.95M407.8 39.9h0.95M400.2 39.2h0.95M405.4 38.1h0.95M401.7 40.4h0.95M411.6 38.9h0.95M389.5 43.5h0.95M378.7 44.5h0.95M399.6 41.0h0.95M406.3 40.5h0.95M407.4 43.3h0.95M393.7 41.1h0.95M403.1 47.3h0.95M392.9 33.8h0.95M404.3 34.7h0.95M392.2 38.3h0.95M389.4 42.8h0.95M406.5 43.7h0.95M387.9 40.1h0.95M386.0 41.5h0.95M405.3 40.6h0.95M399.4 42.9h0.95M378.9 47.3h0.95M408.6 34.9h0.95M388.1 47.9h0.95M394.7 44.5h0.95M397.6 40.6h0.95M415.7 42.9h0.95M398.3 41.4h0.95M406.2 42.9h0.95M397.4 42.9h0.95M402.9 43.8h0.95M386.6 38.6h0.95M398.6 43.3h0.95M393.3 39.6h0.95M389.9 40.6h0.95M401.1 43.8h0.95M407.4 40.2h0.95M402.6 42.4h0.95M395.9 42.5h0.95M404.8 41.8h0.95M389.1 38.0h0.95M401.3 42.9h0.95M403.0 42.1h0.95M397.8 48.0h0.95M396.4 38.5h0.95M399.6 44.6h0.95M393.7 40.3h0.95M396.7 40.7h0.95M404.8 46.5h0.95M382.2 41.2h0.95M409.1 43.9h0.95M402.4 41.9h0.95M400.4 38.9h0.95M390.0 40.9h0.95M395.0 40.3h0.95M393.5 40.9h0.95M404.3 47.0h0.95M403.9 42.9h0.95M408.3 36.5h0.95M399.0 47.0h0.95M381.3 42.7h0.95M390.3 44.2h0.95M395.3 46.1h0.95M401.2 39.2h0.95M385.7 42.6h0.95M396.7 41.2h0.95M398.9 40.6h0.95M393.3 40.7h0.95M396.7 41.9h0.95M417.6 45.0h0.95M398.1 43.9h0.95M415.0 42.4h0.95M400.3 45.1h0.95M392.3 34.9h0.95M402.9 41.7h0.95M394.8 42.6h0.95M397.7 42.5h0.95M379.2 45.7h0.95M401.2 42.1h0.95M393.3 45.6h0.95M407.8 41.1h0.95M399.1 43.6h0.95M394.9 41.9h0.95M389.3 40.9h0.95M398.3 43.1h0.95M395.0 43.3h0.95M391.5 39.0h0.95M413.9 44.4h0.95M396.9 40.9h0.95M405.6 41.9h0.95M410.5 33.8h0.95M401.5 41.6h0.95M403.4 36.1h0.95M402.3 44.1h0.95M406.2 39.4h0.95M402.9 40.4h0.95M402.3 41.1h0.95M399.2 37.8h0.95M394.0 41.7h0.95M394.4 38.1h0.95M392.7 41.0h0.95M399.7 44.1h0.95M409.1 45.4h0.95M390.1 45.8h0.95M392.9 41.0h0.95M389.7 38.9h0.95M397.5 43.0h0.95M406.6 46.2h0.95M395.2 39.1h0.95M400.6 45.6h0.95M378.5 41.2h0.95M396.8 34.0h0.95M402.1 41.8h0.95M392.8 47.1h0.95M384.3 43.7h0.95M401.9 44.7h0.95M397.1 42.8h0.95M413.2 36.7h0.95M393.1 34.8h0.95M396.7 38.5h0.95M394.8 40.5h0.95M398.8 38.7h0.95M382.7 39.3h0.95M409.4 43.9h0.95M403.3 45.9h0.95M396.1 36.7h0.95M395.0 38.5h0.95M402.4 41.3h0.95M401.0 41.0h0.95M394.5 34.8h0.95M396.6 50.2h0.95M400.9 43.7h0.95M394.4 42.7h0.95M395.2 36.0h0.95M394.4 42.5h0.95M395.0 38.2h0.95M387.1 43.1h0.95M390.1 42.5h0.95M401.1 41.7h0.95M404.6 42.9h0.95M397.6 39.9h0.95M368.0 42.1h0.95M385.6 34.6h0.95M401.4 43.7h0.95M412.2 41.1h0.95M408.1 49.0h0.95M396.3 41.9h0.95M395.1 34.8h0.95M394.4 46.1h0.95M412.6 39.5h0.95M400.0 38.3h0.95M390.3 41.5h0.95M406.0 45.4h0.95M405.0 47.3h0.95M381.1 40.5h0.95M392.8 42.2h0.95M406.5 42.3h0.95M405.7 39.7h0.95M387.6 40.1h0.95M398.1 41.2h0.95M405.4 41.4h0.95M401.0 44.7h0.95M389.3 36.0h0.95M396.5 43.0h0.95M403.7 42.7h0.95M402.2 45.6h0.95M390.0 40.5h0.95M417.8 40.5h0.95M400.0 41.9h0.95M385.6 39.9h0.95M395.4 39.9h0.95M375.2 39.6h0.95M392.4 39.7h0.95M397.8 38.6h0.95M418.3 39.8h0.95M399.8 39.3h0.95M401.3 39.4h0.95M404.6 37.7h0.95M400.0 44.3h0.95M393.2 42.5h0.95M409.6 41.4h0.95M402.6 38.4h0.95M411.2 43.4h0.95M406.9 40.9h0.95M390.4 41.3h0.95M394.4 41.8h0.95M394.9 41.2h0.95M395.1 44.4h0.95M402.0 39.3h0.95M396.8 39.6h0.95M391.7 42.0h0.95M410.6 41.0h0.95M409.7 43.2h0.95M398.6 44.2h0.95M389.5 45.6h0.95M393.2 44.3h0.95M392.1 40.8h0.95M390.9 41.1h0.95M390.2 40.5h0.95M400.4 44.9h0.95M400.8 40.9h0.95M402.0 39.1h0.95M390.6 38.6h0.95M400.9 43.8h0.95M415.0 39.0h0.95M400.3 33.9h0.95M395.1 43.6h0.95M421.1 42.6h0.95M401.0 43.8h0.95M393.2 44.5h0.95M405.7 43.1h0.95M392.5 42.7h0.95M395.4 41.8h0.95M406.8 39.3h0.95M393.3 35.5h0.95M386.1 35.9h0.95M404.3 42.7h0.95M405.4 43.9h0.95M386.9 41.7h0.95M395.5 39.4h0.95M407.5 43.5h0.95M400.5 41.5h0.95M405.4 41.6h0.95M397.5 40.6h0.95M393.2 38.2h0.95M393.8 38.7h0.95M395.9 42.7h0.95M400.0 46.3h0.95M376.1 46.7h0.95M382.6 41.1h0.95M398.6 42.9h0.95M404.1 41.4h0.95M393.1 42.1h0.95M398.6 42.8h0.95M389.6 44.3h0.95M387.1 38.3h0.95M399.9 46.8h0.95M398.0 41.3h0.95M394.4 38.8h0.95M387.8 48.3h0.95M399.2 39.1h0.95M398.1 41.5h0.95M396.5 39.5h0.95M397.6 45.1h0.95M395.5 33.9h0.95M402.9 42.6h0.95M401.8 37.0h0.95M413.3 46.2h0.95M410.2 47.7h0.95M398.1 44.1h0.95M388.3 39.4h0.95M403.7 45.0h0.95M393.5 48.0h0.95M411.0 42.4h0.95M386.1 40.6h0.95M394.8 45.9h0.95M411.1 37.8h0.95M398.4 40.8h0.95M404.4 41.5h0.95M403.8 42.0h0.95M394.3 44.8h0.95M405.3 41.2h0.95M391.1 38.4h0.95M395.7 37.6h0.95M415.9 41.2h0.95M396.8 43.0h0.95M401.4 44.4h0.95M389.5 43.4h0.95M409.4 37.6h0.95M390.7 43.3h0.95M392.2 39.7h0.95M393.3 45.4h0.95M390.5 40.8h0.95M386.5 40.8h0.95M395.8 40.0h0.95M394.2 44.5h0.95M397.4 41.3h0.95M390.1 49.6h0.95M390.7 45.0h0.95M395.5 38.2h0.95M398.2 41.5h0.95M390.5 44.7h0.95M397.9 44.0h0.95M396.2 43.4h0.95M406.9 42.4h0.95M403.4 37.2h0.95M402.3 37.3h0.95M406.5 44.0h0.95M392.9 39.8h0.95M409.3 41.7h0.95M399.6 43.5h0.95M394.1 36.2h0.95M401.5 36.2h0.95M389.3 43.2h0.95M412.8 40.0h0.95M400.2 40.6h0.95M385.8 45.0h0.95M388.8 40.9h0.95M393.9 41.5h0.95M393.5 42.5h0.95M401.8 36.6h0.95M405.4 46.7h0.95M406.5 42.8h0.95M402.6 40.1h0.95M390.4 44.9h0.95M407.3 38.9h0.95M408.2 39.6h0.95M382.1 38.1h0.95M393.4 41.0h0.95M395.2 39.5h0.95M391.7 42.4h0.95M406.6 39.7h0.95M401.9 42.4h0.95M398.6 42.9h0.95M388.0 42.8h0.95M381.1 42.7h0.95M390.4 41.9h0.95M391.2 39.2h0.95M390.6 35.8h0.95M380.5 42.6h0.95M385.4 37.5h0.95M394.4 42.6h0.95M400.7 41.5h0.95M393.6 41.5h0.95M396.0 41.6h0.95M397.3 43.3h0.95M397.4 38.8h0.95M407.8 42.5h0.95M391.3 44.7h0.95M399.6 43.9h0.95M387.0 44.8h0.95M407.6 40.8h0.95M403.9 41.4h0.95M406.1 47.0h0.95M398.8 43.1h0.95M396.9 42.4h0.95M387.4 44.5h0.95M400.5 39.1h0.95M409.2 41.2h0.95M375.1 42.9h0.95M412.4 41.4h0.95M391.2 46.0h0.95M401.9 42.9h0.95M391.2 44.2h0.95M396.7 39.2h0.95M404.7 41.6h0.95M396.4 41.5h0.95M412.9 43.1h0.95M398.3 43.0h0.95M403.3 41.6h0.95M392.9 43.3h0.95M393.8 47.7h0.95M394.7 41.7h0.95M402.1 39.7h0.95M411.8 45.1h0.95M398.3 45.9h0.95M387.3 42.2h0.95M392.9 44.4h0.95M386.6 35.7h0.95M402.0 43.0h0.95M398.2 41.1h0.95M389.1 48.0h0.95M395.0 42.3h0.95M405.8 46.9h0.95M401.8 41.1h0.95M393.3 40.8h0.95M404.2 40.1h0.95M401.2 38.3h0.95M393.4 40.0h0.95M399.5 44.8h0.95M413.5 37.2h0.95M388.9 41.9h0.95M406.4 44.9h0.95M396.8 42.4h0.95M403.2 43.2h0.95M401.3 42.6h0.95M400.3 43.2h0.95M396.7 36.1h0.95M398.0 46.0h0.95M403.6 42.7h0.95M401.8 40.1h0.95M385.9 40.8h0.95M401.8 41.3h0.95M408.9 43.6h0.95M405.4 38.3h0.95M399.7 38.0h0.95M382.9 37.9h0.95M402.9 44.3h0.95M403.5 39.0h0.95M410.1 42.0h0.95M390.1 38.4h0.95M396.1 41.5h0.95M393.6 40.3h0.95M395.8 39.6h0.95M383.7 44.9h0.95M394.1 42.0h0.95M394.4 38.9h0.95M394.8 48.6h0.95M411.2 39.0h0.95M392.7 38.3h0.95M394.2 36.9h0.95M407.2 46.4h0.95M393.3 42.3h0.95M407.9 42.7h0.95M401.7 44.9h0.95M392.7 42.1h0.95M392.0 43.8h0.95M399.1 46.6h0.95M396.3 42.5h0.95M398.7 44.1h0.95M393.1 42.3h0.95M402.8 42.2h0.95M392.3 45.9h0.95M394.0 43.4h0.95M396.4 42.5h0.95M387.4 36.3h0.95M395.2 39.2h0.95M396.1 39.8h0.95M385.9 41.7h0.95M383.0 42.8h0.95M408.2 42.2h0.95M395.6 41.3h0.95M396.7 42.7h0.95M392.6 42.8h0.95M411.0 44.3h0.95M396.1 36.6h0.95M383.0 44.7h0.95M401.9 47.4h0.95M389.7 45.0h0.95M401.4 40.5h0.95M396.7 39.2h0.95M408.4 41.6h0.95M401.8 45.6h0.95M394.7 42.5h0.95M409.7 35.9h0.95M420.6 32.2h0.95M393.5 42.3h0.95M407.0 48.6h0.95M401.1 37.1h0.95M401.7 39.9h0.95M387.6 41.8h0.95M389.8 42.6h0.95M409.8 44.2h0.95M399.2 37.1h0.95M393.5 42.0h0.95M413.0 39.7h0.95M408.2 44.0h0.95M404.1 42.7h0.95M389.8 44.8h0.95M397.9 38.1h0.95M410.3 38.4h0.95M381.0 39.5h0.95M384.7 40.2h0.95M391.3 39.5h0.95M406.2 38.0h0.95M399.9 39.9h0.95M402.0 36.9h0.95M399.7 44.4h0.95M398.9 40.2h0.95M408.1 37.9h0.95M428.2 42.1h0.95M402.0 36.9h0.95M409.0 42.6h0.95M394.4 40.5h0.95M411.5 46.5h0.95M398.9 43.1h0.95M399.6 39.3h0.95M394.2 44.1h0.95M391.7 41.9h0.95M393.5 43.5h0.95M389.9 32.6h0.95M387.2 40.2h0.95M413.6 40.2h0.95M401.9 45.3h0.95M406.4 38.4h0.95M402.4 42.5h0.95M386.1 41.0h0.95M398.4 37.5h0.95M390.6 39.9h0.95M391.3 43.1h0.95M397.2 40.9h0.95M399.5 41.0h0.95M398.9 41.3h0.95M399.2 41.8h0.95M395.7 42.4h0.95M398.4 41.3h0.95M408.7 37.2h0.95M416.6 40.9h0.95M407.6 41.8h0.95M396.2 46.2h0.95M401.4 38.6h0.95M406.2 46.0h0.95M406.6 39.9h0.95M408.4 46.1h0.95M408.6 35.5h0.95M401.5 40.7h0.95M395.7 34.7h0.95M385.1 37.3h0.95M407.2 40.2h0.95M403.3 42.8h0.95M390.9 39.2h0.95M398.2 42.2h0.95M394.7 39.1h0.95M394.4 46.1h0.95M412.8 39.8h0.95M395.0 47.1h0.95M418.6 46.7h0.95M396.9 38.8h0.95M392.0 43.0h0.95M399.2 40.1h0.95M418.5 45.7h0.95M396.7 42.4h0.95M402.4 46.7h0.95M378.9 40.9h0.95M403.0 40.6h0.95M386.4 39.2h0.95M397.0 41.8h0.95M409.5 42.7h0.95M395.9 41.6h0.95M404.1 42.3h0.95M396.1 43.6h0.95M395.2 41.2h0.95M400.4 39.6h0.95M407.2 38.5h0.95M398.8 39.8h0.95M397.8 40.5h0.95M389.9 44.4h0.95M383.7 44.1h0.95M399.1 39.4h0.95M396.4 43.2h0.95M400.3 38.9h0.95M406.8 43.9h0.95M404.9 36.8h0.95M390.5 44.3h0.95M400.1 41.0h0.95M400.3 42.2h0.95M395.9 41.2h0.95M378.9 38.4h0.95M391.1 41.9h0.95M397.1 41.5h0.95M404.3 43.7h0.95M395.3 43.3h0.95M386.1 45.1h0.95M409.5 43.1h0.95M397.6 38.2h0.95M394.0 43.8h0.95M402.4 38.0h0.95M403.7 39.4h0.95M397.2 41.7h0.95M392.9 39.1h0.95M393.0 40.4h0.95M404.6 44.4h0.95M396.7 39.8h0.95M402.0 38.9h0.95M381.6 37.8h0.95M393.6 49.7h0.95M394.6 40.2h0.95M393.8 41.6h0.95M381.3 41.7h0.95M394.0 44.8h0.95M411.1 39.9h0.95M400.4 38.9h0.95M393.3 40.4h0.95M391.7 39.3h0.95M386.3 37.4h0.95M399.7 36.1h0.95M391.1 41.7h0.95M394.4 40.3h0.95M405.3 45.6h0.95M405.7 40.0h0.95M403.0 40.5h0.95M383.6 45.1h0.95M392.9 36.7h0.95M407.7 43.8h0.95M387.6 39.2h0.95M408.4 38.3h0.95M397.5 42.6h0.95M405.7 41.9h0.95M394.2 38.3h0.95M387.8 42.3h0.95M389.1 46.0h0.95M410.0 43.9h0.95M394.9 41.9h0.95M387.3 39.9h0.95M404.6 41.3h0.95M384.5 42.9h0.95M396.3 40.9h0.95M400.5 42.9h0.95M400.1 44.4h0.95M401.2 37.3h0.95M396.9 42.0h0.95M376.7 43.0h0.95M399.7 40.8h0.95M397.3 39.7h0.95M395.9 45.9h0.95M401.8 41.3h0.95M404.2 41.3h0.95M399.4 40.0h0.95M410.4 40.7h0.95M416.3 40.7h0.95M400.1 41.3h0.95M394.7 37.2h0.95M386.6 36.9h0.95M402.5 39.7h0.95M382.5 40.6h0.95M412.0 39.9h0.95M405.9 43.6h0.95M393.2 41.4h0.95M403.4 43.6h0.95M390.2 42.2h0.95M388.3 35.1h0.95M404.1 42.9h0.95M389.0 45.7h0.95M399.7 42.0h0.95M396.5 41.4h0.95M410.9 38.2h0.95M400.3 42.2h0.95M411.0 38.5h0.95M405.0 36.5h0.95M391.1 42.2h0.95M387.7 43.9h0.95M379.7 40.7h0.95M397.9 41.0h0.95M373.9 39.6h0.95M390.6 46.1h0.95M377.1 42.6h0.95M392.3 40.5h0.95M403.6 40.7h0.95M390.1 41.9h0.95M392.9 44.7h0.95M393.7 40.0h0.95M399.8 39.0h0.95M385.0 42.4h0.95M398.5 41.2h0.95M396.7 37.3h0.95M388.7 41.1h0.95M389.2 40.6h0.95M407.8 40.3h0.95M403.7 41.9h0.95M401.1 42.2h0.95M390.4 46.3h0.95M394.6 43.3h0.95M386.4 43.9h0.95M382.5 40.2h0.95M393.5 41.5h0.95M384.0 40.5h0.95M384.5 43.1h0.95M402.6 41.4h0.95M399.0 50.8h0.95M383.4 41.7h0.95M376.6 45.9h0.95M406.4 45.5h0.95M413.9 43.6h0.95M412.2 42.1h0.95M406.9 36.6h0.95M382.2 44.2h0.95M379.4 50.0h0.95M407.4 44.1h0.95M400.8 49.5h0.95M385.5 44.8h0.95M397.1 45.5h0.95M416.6 40.5h0.95M379.2 41.7h0.95M401.1 43.9h0.95M415.9 46.3h0.95M389.4 38.5h0.95M419.1 37.0h0.95M385.1 41.8h0.95M385.7 41.8h0.95M376.0 43.9h0.95M385.7 48.4h0.95M396.4 40.2h0.95M395.2 48.9h0.95M415.5 44.2h0.95M386.9 42.3h0.95M379.2 36.1h0.95M395.3 47.6h0.95M397.4 48.6h0.95M375.1 43.9h0.95M405.5 44.0h0.95M415.6 40.6h0.95M389.8 35.2h0.95M399.7 39.3h0.95M415.2 36.9h0.95M409.1 37.2h0.95M399.9 39.1h0.95M379.1 40.0h0.95M383.5 44.0h0.95M390.9 46.8h0.95M401.8 41.3h0.95M383.8 45.0h0.95M377.6 40.8h0.95M418.2 41.0h0.95M410.9 43.3h0.95M404.1 39.8h0.95M406.9 42.9h0.95M412.7 40.3h0.95M414.2 38.9h0.95M380.7 39.6h0.95M385.1 47.5h0.95M418.3 42.9h0.95M393.5 40.4h0.95M380.3 42.6h0.95M405.0 39.3h0.95M395.5 40.3h0.95M386.5 40.7h0.95M389.8 36.0h0.95M406.4 41.4h0.95M386.9 43.5h0.95M414.9 42.9h0.95M381.5 41.4h0.95M410.2 45.8h0.95M384.7 39.0h0.95M417.8 45.9h0.95M374.9 45.4h0.95M382.6 42.7h0.95M375.4 47.4h0.95M411.4 39.1h0.95M389.3 42.9h0.95M393.4 41.4h0.95M385.3 39.2h0.95M388.9 40.8h0.95M415.8 43.4h0.95M406.3 43.4h0.95M390.7 44.2h0.95M375.3 39.6h0.95M378.6 41.6h0.95M390.7 41.6h0.95M386.8 39.6h0.95M403.6 41.9h0.95M401.3 34.4h0.95M381.4 37.8h0.95M396.6 40.2h0.95M409.6 40.6h0.95M376.3 44.2h0.95M389.7 40.0h0.95M386.4 47.9h0.95M411.4 36.8h0.95M395.6 48.4h0.95M407.6 38.6h0.95M407.0 37.9h0.95M412.2 39.3h0.95M386.2 39.7h0.95M408.7 40.9h0.95M408.0 40.3h0.95M375.0 43.5h0.95M395.6 44.7h0.95M404.3 38.2h0.95M402.1 46.3h0.95M415.1 42.8h0.95M385.1 41.9h0.95M404.5 44.9h0.95M402.3 41.6h0.95M397.0 47.0h0.95M407.4 37.7h0.95M389.4 46.2h0.95M404.6 40.3h0.95M395.5 44.5h0.95M390.2 40.4h0.95M384.4 47.8h0.95M399.7 43.3h0.95M414.4 44.6h0.95M382.8 38.2h0.95M414.0 36.7h0.95M377.8 42.8h0.95M419.0 47.3h0.95M395.3 42.5h0.95M393.1 36.8h0.95M412.8 47.9h0.95M379.3 40.2h0.95M377.0 44.6h0.95M412.1 39.1h0.95M383.9 39.5h0.95M390.6 43.0h0.95M412.0 32.7h0.95M402.8 38.4h0.95M407.8 40.4h0.95M419.0 40.5h0.95M383.9 36.2h0.95M395.0 45.8h0.95M374.8 41.1h0.95M414.5 41.3h0.95M414.7 35.2h0.95M408.2 41.5h0.95M383.6 44.1h0.95M405.4 44.8h0.95M397.2 43.9h0.95M395.4 41.5h0.95M393.9 40.9h0.95M374.7 42.4h0.95M381.4 44.1h0.95M376.2 40.9h0.95M407.2 41.0h0.95M415.4 43.1h0.95M380.6 40.8h0.95M411.1 42.6h0.95M382.9 42.2h0.95M379.4 38.5h0.95M388.0 46.9h0.95M410.5 44.0h0.95M377.7 38.5h0.95M382.0 38.4h0.95M411.5 40.0h0.95M377.7 39.6h0.95M412.9 38.3h0.95M414.5 42.4h0.95M401.6 40.5h0.95M388.3 38.4h0.95M402.1 47.0h0.95M406.6 40.4h0.95M380.5 42.7h0.95M377.7 37.0h0.95M392.4 37.8h0.95M399.8 38.1h0.95M417.3 44.8h0.95M412.6 44.1h0.95M404.8 40.8h0.95M412.8 40.6h0.95M391.0 42.7h0.95M415.0 38.6h0.95M409.3 40.7h0.95M388.8 44.9h0.95M401.9 38.5h0.95M391.8 43.8h0.95M389.6 41.2h0.95M417.1 42.2h0.95M408.2 41.1h0.95M399.6 44.5h0.95M415.4 44.6h0.95M415.9 43.5h0.95M378.8 35.9h0.95M378.6 42.0h0.95M417.8 45.7h0.95M382.3 38.1h0.95M389.1 36.3h0.95M398.7 40.8h0.95M385.7 44.4h0.95M418.7 37.2h0.95M395.8 42.7h0.95M402.3 40.6h0.95M414.1 41.4h0.95M392.8 43.0h0.95M410.2 41.0h0.95M418.8 39.6h0.95M409.1 42.1h0.95M400.2 46.9h0.95M408.8 43.7h0.95M375.6 44.0h0.95M416.9 38.4h0.95M403.7 39.8h0.95M376.8 37.0h0.95M394.2 44.8h0.95M401.1 45.1h0.95M385.3 43.1h0.95M380.3 44.3h0.95M404.8 40.2h0.95M417.8 40.4h0.95M395.7 45.8h0.95M406.5 40.3h0.95M385.1 45.2h0.95M412.1 47.4h0.95M419.1 37.7h0.95M403.9 38.6h0.95M394.5 47.5h0.95M380.1 45.1h0.95M415.6 47.1h0.95M389.8 47.5h0.95M413.1 40.7h0.95M375.4 48.7h0.95M392.1 46.5h0.95M410.3 45.3h0.95M380.7 42.9h0.95M376.9 40.5h0.95M387.6 39.1h0.95M406.5 36.8h0.95M392.5 38.8h0.95M401.8 39.1h0.95M405.7 42.4h0.95M377.7 39.3h0.95M381.4 35.6h0.95M391.6 42.3h0.95M383.6 34.7h0.95M405.7 40.6h0.95M387.5 44.1h0.95M402.7 36.4h0.95M406.2 37.5h0.95M408.6 41.5h0.95M411.7 46.4h0.95M404.1 41.3h0.95M389.8 40.2h0.95M375.4 42.6h0.95M388.0 35.7h0.95M406.2 36.5h0.95M418.3 44.1h0.95M375.6 44.5h0.95M382.7 43.8h0.95M379.8 42.2h0.95M379.9 43.3h0.95M382.7 35.6h0.95M396.7 37.9h0.95M391.4 40.3h0.95M418.1 45.1h0.95M374.9 42.4h0.95M412.3 41.8h0.95M399.9 37.8h0.95M385.2 42.2h0.95M410.7 43.1h0.95M417.2 43.8h0.95M374.3 41.3h0.95M418.0 48.9h0.95M376.7 37.7h0.95M379.8 44.9h0.95M391.4 37.3h0.95M379.9 37.4h0.95M386.3 44.3h0.95M402.0 40.4h0.95M412.9 39.2h0.95M384.7 42.0h0.95M413.1 50.7h0.95M416.5 39.7h0.95M388.6 40.7h0.95M405.9 46.2h0.95M380.9 39.9h0.95M386.3 50.3h0.95M410.9 37.4h0.95M376.5 41.1h0.95M408.9 45.3h0.95M418.6 41.1h0.95M408.0 40.2h0.95M410.6 37.0h0.95M375.8 41.4h0.95M377.9 44.9h0.95M395.9 41.0h0.95M399.7 38.4h0.95M408.1 46.5h0.95M386.3 44.9h0.95M375.2 43.9h0.95M392.9 41.1h0.95M413.5 38.9h0.95M394.4 45.9h0.95M378.2 42.1h0.95M402.8 40.6h0.95M401.9 41.2h0.95M396.0 43.2h0.95M416.5 44.8h0.95M416.4 41.8h0.95M375.1 40.5h0.95M412.4 37.9h0.95M402.5 40.9h0.95M406.3 41.1h0.95M385.6 43.0h0.95M411.4 41.8h0.95M418.8 40.0h0.95M402.6 41.4h0.95M378.6 44.0h0.95M403.9 41.5h0.95M415.0 41.2h0.95M411.9 41.0h0.95M398.0 40.7h0.95M382.8 43.0h0.95M380.6 44.0h0.95M400.7 40.8h0.95M378.7 41.2h0.95M394.3 43.2h0.95M416.4 44.5h0.95M398.9 46.6h0.95M387.7 37.2h0.95M382.9 44.8h0.95M407.4 40.2h0.95M377.5 44.0h0.95M380.0 45.0h0.95M401.3 48.2h0.95M374.7 40.1h0.95M379.8 45.4h0.95M415.3 33.5h0.95M403.5 42.1h0.95M378.5 34.2h0.95M410.7 39.4h0.95M415.3 38.0h0.95M380.1 36.8h0.95M398.2 41.8h0.95M395.7 38.0h0.95M393.7 37.8h0.95M403.3 39.1h0.95M404.4 40.0h0.95M380.4 43.6h0.95M392.0 40.3h0.95M402.1 38.6h0.95M407.8 35.9h0.95M402.5 43.8h0.95M400.6 42.8h0.95M401.1 43.9h0.95M418.0 39.5h0.95M400.6 46.0h0.95M377.3 43.7h0.95M406.9 49.7h0.95M387.4 40.6h0.95M414.5 44.7h0.95M377.0 47.4h0.95M409.1 41.0h0.95M395.1 41.7h0.95M413.6 40.1h0.95M384.0 40.9h0.95M409.1 44.6h0.95M385.9 42.5h0.95M407.7 38.2h0.95M389.9 50.4h0.95M387.6 39.4h0.95M399.5 45.9h0.95M399.3 42.0h0.95M382.7 44.2h0.95M405.6 43.9h0.95M396.5 44.7h0.95M392.5 44.7h0.95M378.5 47.9h0.95M419.3 39.6h0.95M409.8 37.4h0.95M380.7 36.2h0.95M415.6 34.8h0.95M419.2 43.6h0.95M397.0 35.8h0.95M396.2 36.3h0.95M407.9 42.7h0.95M401.6 40.9h0.95M391.9 42.2h0.95M384.3 32.6h0.95M400.4 37.4h0.95M419.0 36.5h0.95M415.3 41.7h0.95M388.4 41.7h0.95M378.5 43.2h0.95M415.8 46.0h0.95M399.9 53.8h0.95M377.5 40.0h0.95M388.1 44.2h0.95M411.9 45.0h0.95M377.4 41.4h0.95M393.8 38.4h0.95M378.9 44.8h0.95M414.9 44.9h0.95M378.1 43.8h0.95M418.0 39.3h0.95M400.4 34.1h0.95M394.4 38.2h0.95M390.9 46.0h0.95M407.2 46.0h0.95M399.7 38.3h0.95M391.7 42.7h0.95M398.8 46.4h0.95M399.2 46.5h0.95M388.5 38.6h0.95M415.3 41.2h0.95M409.9 41.6h0.95M393.5 38.0h0.95M402.8 47.9h0.95M398.3 35.7h0.95M412.6 43.3h0.95M389.6 45.4h0.95M394.7 43.5h0.95M404.2 44.5h0.95M391.0 34.1h0.95M416.0 42.1h0.95M399.0 42.9h0.95M391.5 42.9h0.95M416.9 37.3h0.95M403.4 41.1h0.95M414.2 39.0h0.95M377.6 46.8h0.95M385.8 39.6h0.95M404.1 41.5h0.95M378.5 41.3h0.95M413.3 41.2h0.95M394.0 47.8h0.95M418.9 47.0h0.95M405.1 43.3h0.95M379.4 40.8h0.95M390.9 40.4h0.95M400.0 35.5h0.95M388.8 42.2h0.95M381.4 43.0h0.95M414.5 41.4h0.95M396.7 38.7h0.95M401.8 46.1h0.95M399.0 44.7h0.95M391.5 42.5h0.95M410.0 47.5h0.95M384.2 42.9h0.95M414.1 48.3h0.95M405.6 41.4h0.95M376.6 42.5h0.95M406.3 39.9h0.95M392.4 45.2h0.95M413.1 40.3h0.95M390.0 43.4h0.95M410.1 42.5h0.95M377.3 39.4h0.95M400.8 49.7h0.95M379.4 45.8h0.95M414.3 41.2h0.95M387.1 45.0h0.95M410.2 43.2h0.95M408.6 40.5h0.95M386.6 48.4h0.95M391.5 44.9h0.95M418.2 44.2h0.95M395.9 43.9h0.95M378.8 44.4h0.95M413.7 44.7h0.95M406.9 42.9h0.95M407.7 42.8h0.95M381.2 42.5h0.95M397.0 36.9h0.95M387.2 41.5h0.95M406.9 46.4h0.95M383.7 47.5h0.95M417.2 42.8h0.95M384.4 39.3h0.95M402.8 45.6h0.95M395.6 39.3h0.95M416.7 38.5h0.95M406.2 37.2h0.95M394.6 35.0h0.95M393.2 48.6h0.95M387.7 42.2h0.95M409.9 32.2h0.95M388.5 39.2h0.95M409.3 36.1h0.95M382.3 45.0h0.95M407.2 39.8h0.95M413.4 39.4h0.95M407.3 44.2h0.95M386.0 47.6h0.95M409.3 39.3h0.95M402.1 41.8h0.95M383.8 38.6h0.95M416.1 45.2h0.95M402.9 42.8h0.95M403.9 42.4h0.95M384.7 39.1h0.95M380.0 47.1h0.95M393.9 40.9h0.95M412.5 46.0h0.95M388.6 46.2h0.95M409.8 37.9h0.95M375.4 41.2h0.95M411.6 42.8h0.95M413.7 38.2h0.95M375.2 41.6h0.95M400.7 43.0h0.95M397.0 36.2h0.95M412.7 40.9h0.95M390.9 43.0h0.95M390.9 40.3h0.95M385.2 39.9h0.95M380.0 37.0h0.95M393.0 42.0h0.95M397.8 42.6h0.95M408.7 41.6h0.95M404.5 46.7h0.95M410.5 42.0h0.95M391.4 40.5h0.95M412.1 48.0h0.95M378.5 44.4h0.95M414.0 45.8h0.95M381.2 46.4h0.95M391.3 40.2h0.95M374.3 38.6h0.95M391.9 47.7h0.95M377.2 35.3h0.95M407.8 40.1h0.95M393.3 47.5h0.95M405.3 39.7h0.95M405.7 44.6h0.95M398.2 39.2h0.95M380.2 50.3h0.95M386.3 41.7h0.95M417.4 44.8h0.95M399.0 37.4h0.95M380.4 44.6h0.95M409.1 44.4h0.95M401.8 40.4h0.95M415.9 44.4h0.95M385.2 41.3h0.95M379.7 43.4h0.95M394.6 40.3h0.95M384.8 40.4h0.95M417.9 37.7h0.95M402.5 43.6h0.95M418.8 41.3h0.95M399.3 39.6h0.95M407.6 47.8h0.95M416.7 42.1h0.95M415.0 41.5h0.95M418.4 39.5h0.95M380.2 45.3h0.95M375.9 42.6h0.95M379.9 39.1h0.95M402.5 41.2h0.95M406.6 44.1h0.95M390.6 42.4h0.95M384.2 46.1h0.95M409.9 45.6h0.95M407.3 49.7h0.95M397.0 39.8h0.95M417.0 41.9h0.95M385.6 41.2h0.95M406.7 41.2h0.95M380.9 42.3h0.95M393.4 40.8h0.95M376.9 45.2h0.95M381.5 37.8h0.95M402.9 42.2h0.95M412.8 44.2h0.95M390.0 45.5h0.95M415.3 42.0h0.95M395.6 43.1h0.95M393.0 42.3h0.95M404.4 43.8h0.95M418.0 41.5h0.95M407.2 44.6h0.95M405.3 46.8h0.95M411.5 49.3h0.95M386.3 40.9h0.95M400.2 45.0h0.95M387.7 43.0h0.95M398.4 43.6h0.95M389.9 40.6h0.95M398.0 42.5h0.95M391.0 44.1h0.95M395.5 42.2h0.95M408.7 40.7h0.95M409.2 46.4h0.95M404.6 42.6h0.95M395.9 41.3h0.95M395.6 42.2h0.95M379.9 41.4h0.95M397.0 39.5h0.95M400.1 43.9h0.95M396.3 41.3h0.95M399.6 37.8h0.95M404.8 45.6h0.95M408.8 40.9h0.95M382.3 37.1h0.95M388.7 41.8h0.95M417.1 39.6h0.95M374.5 42.7h0.95M408.6 37.9h0.95M393.4 40.6h0.95M399.7 36.3h0.95M394.0 37.2h0.95M407.8 42.3h0.95M395.6 40.0h0.95M411.1 47.2h0.95M382.3 39.4h0.95M384.5 42.5h0.95M414.0 37.6h0.95M409.6 47.1h0.95M397.3 42.1h0.95M397.7 36.7h0.95M380.9 42.8h0.95M396.6 40.3h0.95M416.9 49.4h0.95M400.9 45.7h0.95M397.0 39.3h0.95M385.6 44.4h0.95M392.5 43.6h0.95M409.9 40.8h0.95M401.4 40.8h0.95M387.6 41.1h0.95M395.6 38.6h0.95M407.9 43.0h0.95M376.9 40.3h0.95M376.4 41.7h0.95M412.0 40.8h0.95M399.3 39.5h0.95M382.8 48.7h0.95M409.2 43.0h0.95M394.0 44.3h0.95M374.7 51.3h0.95M412.2 41.9h0.95M397.4 39.6h0.95M403.7 36.1h0.95M381.4 37.1h0.95M389.0 44.2h0.95M396.3 37.2h0.95M401.3 34.9h0.95M415.4 42.1h0.95M391.1 41.7h0.95M392.7 47.8h0.95M403.8 37.0h0.95M400.8 45.5h0.95M379.0 34.0h0.95M410.5 46.4h0.95M413.2 43.0h0.95M380.8 38.7h0.95M385.8 46.3h0.95M410.6 42.6h0.95M411.7 44.1h0.95M389.6 42.1h0.95M405.2 46.0h0.95M389.0 44.3h0.95M410.0 38.7h0.95M400.1 39.0h0.95M400.3 39.1h0.95M391.9 44.7h0.95M416.8 44.1h0.95M395.3 43.0h0.95M378.5 41.2h0.95M377.4 40.0h0.95M384.8 43.2h0.95M387.4 44.9h0.95M402.6 44.7h0.95M410.1 47.7h0.95M410.7 48.0h0.95M408.2 40.8h0.95M375.4 50.8h0.95M374.8 47.3h0.95M386.7 43.1h0.95M401.1 43.3h0.95M380.4 44.0h0.95M382.3 40.3h0.95M399.3 39.7h0.95M400.5 42.2h0.95M387.2 40.8h0.95M391.2 32.2h0.95M407.8 44.2h0.95M410.3 35.5h0.95M390.9 43.2h0.95M404.4 40.8h0.95M398.2 39.9h0.95M406.9 44.7h0.95M400.1 39.2h0.95M410.0 38.7h0.95M379.6 43.1h0.95M388.4 42.8h0.95M414.3 39.6h0.95M375.5 39.4h0.95M395.9 39.5h0.95M397.1 43.2h0.95M404.3 43.5h0.95M408.3 44.9h0.95M419.0 41.7h0.95M389.1 38.9h0.95M410.3 44.5h0.95M386.4 51.1h0.95M381.6 47.6h0.95M395.9 38.5h0.95M374.9 44.7h0.95M405.8 41.6h0.95M415.7 41.7h0.95M389.9 41.1h0.95M377.1 39.2h0.95M399.4 36.8h0.95M409.0 43.6h0.95M408.2 38.5h0.95M399.7 40.2h0.95M411.1 40.7h0.95M392.4 42.4h0.95M406.6 40.5h0.95M384.2 41.5h0.95M393.1 40.6h0.95M417.5 42.9h0.95M387.6 43.3h0.95M381.8 47.1h0.95M396.7 44.0h0.95M389.8 40.1h0.95M401.0 44.0h0.95M395.0 45.2h0.95M396.2 40.1h0.95M405.4 40.2h0.95M408.1 34.3h0.95M415.9 47.2h0.95M386.1 42.6h0.95M389.4 46.8h0.95M388.4 36.8h0.95M402.1 33.9h0.95M380.4 43.1h0.95M405.7 39.2h0.95M377.0 42.7h0.95M388.6 39.4h0.95M390.3 44.9h0.95M408.7 41.0h0.95M414.3 41.5h0.95M380.8 43.8h0.95M407.9 40.6h0.95M415.4 40.8h0.95M413.1 46.4h0.95M385.2 41.8h0.95M398.8 42.9h0.95M401.4 43.8h0.95M381.3 42.5h0.95M387.2 43.9h0.95M389.4 48.7h0.95M404.2 45.9h0.95M392.5 37.3h0.95M369.3 47.0h0.95M375.9 46.5h0.95M368.5 43.8h0.95M366.8 49.6h0.95M375.0 49.4h0.95M375.4 43.4h0.95M381.0 46.0h0.95M382.4 49.5h0.95M390.9 47.4h0.95M376.6 47.8h0.95M377.1 45.2h0.95M381.2 50.5h0.95M385.5 43.3h0.95M378.9 49.1h0.95M375.7 51.5h0.95M366.8 44.3h0.95M384.3 50.3h0.95M379.0 48.8h0.95M387.8 44.6h0.95M389.1 46.9h0.95M389.5 50.5h0.95M382.4 45.2h0.95M384.5 45.2h0.95M373.5 38.3h0.95M382.2 41.7h0.95M378.3 45.4h0.95M385.2 46.1h0.95M377.4 48.2h0.95M379.0 49.0h0.95M376.0 52.1h0.95M389.1 48.5h0.95M380.7 54.8h0.95M375.1 48.7h0.95M378.1 50.4h0.95M373.7 44.2h0.95M386.0 47.8h0.95M386.2 49.3h0.95M380.8 49.3h0.95M381.5 45.2h0.95M372.9 46.4h0.95M387.8 42.9h0.95M379.8 47.5h0.95M390.2 43.5h0.95M377.2 49.3h0.95M382.4 47.3h0.95M384.4 48.6h0.95M384.0 48.2h0.95M379.5 47.8h0.95M385.4 48.9h0.95M382.0 46.7h0.95M380.2 41.9h0.95M374.9 50.2h0.95M386.4 44.4h0.95M380.2 49.2h0.95M382.4 48.1h0.95M379.7 47.6h0.95M381.8 47.0h0.95M378.2 47.3h0.95M392.8 47.1h0.95M389.1 46.6h0.95M383.4 46.2h0.95M381.5 47.4h0.95M383.4 48.3h0.95M375.8 45.3h0.95M383.0 47.2h0.95M379.6 42.7h0.95M378.0 44.2h0.95M376.7 41.6h0.95M376.7 45.8h0.95M382.4 47.6h0.95M380.2 48.5h0.95M376.1 42.7h0.95M382.1 48.8h0.95M380.7 43.6h0.95M379.6 45.3h0.95M387.2 45.1h0.95M378.8 51.0h0.95M373.5 47.0h0.95M380.8 52.5h0.95M375.1 49.3h0.95M384.1 45.8h0.95M382.9 47.7h0.95M378.5 50.4h0.95M382.5 44.1h0.95M378.1 45.1h0.95M377.8 46.4h0.95M371.3 45.6h0.95M369.8 45.8h0.95M378.0 51.4h0.95M388.7 47.0h0.95M374.1 45.6h0.95M379.6 45.4h0.95M376.8 42.7h0.95M382.5 48.8h0.95M376.0 44.7h0.95M379.5 56.7h0.95M382.0 47.8h0.95M377.5 44.9h0.95M379.3 43.1h0.95M379.0 45.2h0.95M382.6 47.7h0.95M383.1 44.9h0.95M383.7 48.3h0.95M382.1 48.5h0.95M375.1 48.1h0.95M378.0 48.0h0.95M382.5 46.6h0.95M380.2 44.7h0.95M384.2 43.0h0.95M373.8 41.9h0.95M375.7 45.2h0.95M375.9 48.4h0.95M381.4 46.5h0.95M376.9 43.6h0.95M375.6 49.1h0.95M381.6 43.7h0.95M378.0 43.2h0.95M374.7 43.7h0.95M382.0 44.6h0.95M379.4 46.3h0.95M382.3 43.0h0.95M382.7 41.9h0.95M377.1 47.7h0.95M378.5 47.2h0.95M379.3 47.8h0.95M383.2 48.6h0.95M379.8 46.6h0.95M385.0 51.5h0.95M377.3 45.9h0.95M379.9 46.3h0.95M386.2 50.2h0.95M373.2 47.6h0.95M373.9 46.0h0.95M383.3 46.4h0.95M383.6 43.2h0.95M384.6 48.4h0.95M384.0 45.9h0.95M384.9 47.7h0.95M377.5 50.2h0.95M380.0 48.7h0.95M382.6 47.2h0.95M374.1 47.6h0.95M373.8 46.9h0.95M377.1 51.3h0.95M384.7 41.1h0.95M383.6 45.2h0.95M373.7 44.2h0.95M377.2 47.7h0.95M377.3 46.0h0.95M380.3 46.8h0.95M351.9 93.8h0.95M348.5 108.9h0.95M348.7 93.6h0.95M349.3 96.4h0.95M350.0 85.6h0.95M350.9 94.7h0.95M350.2 105.5h0.95M348.9 101.7h0.95M352.7 92.4h0.95M348.7 94.0h0.95M348.0 102.1h0.95M348.4 106.9h0.95M350.3 101.7h0.95M348.7 97.1h0.95M350.0 72.3h0.95M349.7 106.7h0.95M348.9 83.0h0.95M351.4 86.3h0.95M348.6 93.8h0.95M349.5 105.0h0.95M352.7 103.4h0.95M349.7 102.9h0.95M348.0 103.9h0.95M349.8 108.7h0.95M352.5 95.8h0.95M350.6 103.5h0.95M349.2 101.1h0.95M348.5 110.4h0.95M348.9 88.8h0.95M349.1 98.3h0.95M350.9 95.8h0.95M349.2 93.4h0.95M349.5 99.5h0.95M350.0 102.1h0.95M350.1 107.4h0.95M349.7 97.0h0.95M350.2 106.4h0.95M348.3 78.5h0.95M348.9 96.3h0.95M351.4 101.2h0.95M348.5 90.5h0.95M350.8 95.5h0.95M349.8 79.2h0.95M349.9 101.1h0.95M349.3 109.4h0.95M348.9 104.8h0.95M351.8 97.1h0.95M351.0 99.1h0.95M351.0 107.3h0.95M348.3 101.2h0.95M348.0 76.1h0.95M349.7 103.5h0.95M351.3 92.1h0.95M349.1 99.3h0.95M348.4 101.8h0.95M351.5 100.4h0.95M348.4 108.4h0.95M348.9 102.8h0.95M351.6 102.8h0.95M349.2 110.4h0.95M349.4 84.8h0.95M350.7 90.1h0.95M350.1 95.4h0.95M348.1 101.7h0.95M351.2 101.8h0.95M350.7 106.7h0.95M350.3 105.3h0.95M351.5 92.9h0.95M351.6 107.6h0.95M348.9 87.4h0.95M351.7 105.6h0.95M349.5 100.6h0.95M349.6 99.0h0.95M349.2 108.7h0.95M348.8 100.9h0.95M350.7 95.9h0.95M348.3 91.0h0.95M352.1 98.7h0.95M351.1 108.3h0.95M349.1 105.9h0.95M349.7 98.2h0.95M348.4 94.9h0.95M351.8 99.8h0.95M350.0 96.9h0.95M348.7 73.3h0.95M351.2 109.9h0.95M349.3 90.4h0.95M351.0 101.5h0.95M350.4 87.2h0.95M349.8 91.9h0.95M349.1 103.3h0.95M348.5 93.3h0.95M352.1 89.0h0.95M349.2 107.6h0.95M352.5 104.2h0.95M350.0 107.4h0.95M349.6 74.0h0.95M349.6 94.3h0.95M349.2 89.6h0.95M348.5 77.8h0.95M348.1 97.2h0.95M348.8 110.0h0.95M348.7 110.0h0.95M348.0 95.0h0.95M350.3 93.2h0.95M350.2 103.0h0.95M349.2 100.6h0.95M348.9 101.6h0.95M351.6 106.6h0.95M350.5 107.2h0.95M350.5 102.6h0.95M350.3 101.8h0.95M351.3 82.2h0.95M350.3 107.7h0.95M351.5 99.2h0.95M349.2 101.8h0.95M348.6 106.1h0.95M348.6 74.5h0.95M348.5 85.5h0.95M348.8 105.7h0.95M348.2 104.2h0.95M348.7 105.9h0.95M348.0 101.5h0.95M349.6 102.0h0.95M352.6 92.6h0.95M349.0 103.6h0.95M352.2 95.2h0.95M349.7 105.0h0.95M349.7 93.2h0.95M348.4 91.0h0.95M347.9 110.0h0.95M349.8 94.6h0.95M348.0 97.4h0.95M348.5 79.9h0.95M348.2 96.2h0.95M352.8 93.4h0.95M348.0 107.8h0.95M349.8 94.4h0.95M350.7 80.3h0.95M347.9 98.6h0.95M348.9 105.5h0.95M348.3 105.6h0.95M348.8 94.4h0.95M350.4 98.5h0.95M348.1 106.6h0.95M349.4 91.6h0.95M349.4 95.5h0.95M349.9 94.7h0.95M348.4 97.6h0.95M349.4 104.0h0.95M349.4 102.7h0.95M348.7 96.8h0.95M350.7 103.0h0.95M350.7 99.9h0.95M349.2 109.0h0.95M348.7 108.3h0.95M348.5 104.8h0.95M349.9 108.4h0.95M348.1 105.6h0.95M351.1 97.1h0.95M348.0 93.9h0.95M348.1 86.0h0.95M348.7 109.4h0.95M349.5 97.9h0.95M349.6 104.0h0.95M348.2 82.1h0.95M349.1 104.4h0.95M349.0 109.8h0.95M348.0 109.2h0.95M351.4 107.0h0.95M349.6 101.8h0.95M349.3 90.1h0.95M349.4 91.8h0.95M348.1 81.9h0.95M349.0 101.6h0.95M352.2 103.0h0.95M348.7 90.5h0.95M349.5 93.7h0.95M349.7 97.8h0.95M350.2 96.6h0.95M349.1 103.2h0.95M348.3 92.1h0.95M353.2 102.6h0.95M348.0 94.4h0.95M348.7 100.8h0.95M354.5 109.8h0.95M347.9 99.2h0.95M350.4 101.2h0.95M349.9 108.0h0.95M348.2 102.4h0.95M349.6 97.8h0.95M349.8 107.0h0.95M349.1 103.6h0.95M348.4 110.4h0.95M349.0 106.3h0.95M349.8 105.7h0.95M350.3 106.0h0.95M348.3 108.1h0.95M350.7 89.7h0.95M350.0 104.8h0.95M348.9 105.6h0.95M351.0 93.4h0.95M349.0 77.4h0.95M350.3 100.3h0.95M349.7 103.1h0.95M350.0 89.0h0.95M350.0 90.5h0.95M348.2 100.5h0.95M348.7 103.4h0.95M351.6 81.4h0.95M349.5 96.6h0.95M349.2 109.2h0.95M348.4 105.7h0.95M350.2 95.2h0.95M348.9 105.2h0.95M351.3 95.9h0.95M348.9 108.9h0.95M348.5 100.2h0.95M349.3 106.2h0.95M350.4 101.3h0.95M349.7 107.4h0.95M348.6 98.7h0.95M348.3 104.1h0.95M348.3 91.6h0.95M349.1 107.4h0.95M348.7 103.9h0.95M348.7 108.4h0.95M348.2 106.3h0.95M349.2 106.2h0.95M350.1 97.3h0.95M349.9 102.2h0.95M348.3 96.7h0.95M352.8 109.6h0.95M350.6 105.6h0.95M350.4 106.3h0.95M349.5 89.8h0.95M348.8 94.6h0.95M348.0 98.5h0.95M350.1 104.0h0.95M348.3 101.3h0.95M349.2 95.1h0.95M348.0 104.4h0.95M349.1 93.5h0.95M348.9 93.1h0.95M349.0 108.0h0.95M348.3 85.3h0.95M350.7 103.5h0.95M348.3 96.1h0.95M348.1 103.1h0.95M350.3 103.4h0.95M349.5 103.8h0.95M348.7 101.5h0.95M348.6 104.7h0.95M351.4 101.7h0.95M349.2 91.7h0.95M349.3 101.1h0.95M348.0 106.1h0.95M352.3 81.9h0.95M350.3 105.7h0.95M348.5 101.6h0.95M348.6 107.3h0.95M349.3 95.0h0.95M350.3 108.1h0.95M348.3 73.9h0.95M348.6 80.6h0.95M349.6 110.1h0.95M348.8 97.4h0.95M349.3 93.6h0.95M350.0 96.5h0.95M350.6 107.1h0.95M350.3 97.9h0.95M350.7 98.1h0.95M349.5 104.6h0.95M349.4 109.7h0.95M348.6 93.0h0.95M349.8 105.8h0.95M349.8 109.8h0.95M348.2 88.6h0.95M348.9 99.5h0.95M350.4 107.8h0.95M351.2 100.1h0.95M349.0 106.9h0.95M350.4 110.1h0.95M350.6 100.9h0.95M351.9 97.0h0.95M351.3 92.4h0.95M348.8 94.8h0.95M349.0 107.1h0.95M349.2 92.3h0.95M348.0 108.6h0.95M354.5 84.0h0.95M352.7 105.1h0.95M349.1 103.3h0.95M353.4 105.2h0.95M350.9 100.4h0.95M349.6 105.0h0.95M348.5 99.1h0.95M348.7 101.5h0.95M349.4 105.9h0.95M349.2 105.3h0.95M351.8 100.2h0.95M348.5 99.3h0.95M349.9 107.4h0.95M351.8 107.4h0.95M348.2 106.8h0.95M348.6 108.7h0.95M350.4 99.7h0.95M352.6 100.6h0.95M348.0 106.5h0.95M348.1 104.0h0.95M350.9 109.1h0.95M347.9 98.3h0.95M351.5 92.8h0.95M349.6 102.5h0.95M349.9 94.5h0.95M351.6 106.0h0.95M350.7 95.5h0.95M350.8 86.4h0.95M347.9 94.8h0.95M348.5 85.4h0.95M352.3 100.9h0.95M348.8 91.5h0.95M350.7 93.7h0.95M349.7 103.9h0.95M349.6 106.1h0.95M349.6 75.8h0.95M349.0 104.6h0.95M350.3 108.6h0.95M351.0 91.1h0.95M348.6 102.8h0.95M349.2 100.5h0.95M351.8 109.3h0.95M352.3 106.6h0.95M350.4 105.8h0.95M350.0 102.2h0.95M352.7 98.6h0.95M348.7 100.0h0.95M351.0 85.7h0.95M349.9 104.5h0.95M350.1 94.9h0.95M351.6 104.1h0.95M348.5 98.8h0.95M350.8 96.7h0.95M351.2 79.5h0.95M348.8 102.3h0.95M348.6 79.7h0.95M352.1 108.9h0.95M350.7 105.9h0.95M348.8 95.0h0.95M351.0 83.3h0.95M348.7 107.4h0.95M348.1 106.0h0.95M348.0 84.2h0.95M348.9 98.4h0.95M350.0 69.8h0.95M350.6 108.3h0.95M348.8 99.0h0.95M349.5 102.1h0.95M348.3 109.6h0.95M348.2 103.7h0.95M348.0 104.7h0.95M350.5 81.1h0.95M350.1 86.9h0.95M348.4 109.0h0.95M350.1 102.7h0.95M348.9 89.5h0.95M348.2 94.0h0.95M349.3 94.0h0.95M349.0 99.0h0.95M347.9 94.8h0.95M350.6 104.1h0.95M349.9 93.1h0.95M347.9 92.2h0.95M348.6 104.9h0.95M348.6 99.4h0.95M349.1 90.8h0.95M351.7 95.6h0.95M349.2 107.9h0.95M350.2 96.2h0.95M351.3 93.4h0.95M353.9 94.5h0.95M349.6 107.3h0.95M348.9 72.0h0.95M349.3 86.0h0.95M350.0 88.3h0.95M348.8 93.3h0.95M350.1 107.2h0.95M348.0 100.4h0.95M351.4 104.0h0.95M349.6 94.0h0.95M349.0 80.2h0.95M349.7 101.3h0.95M347.9 94.3h0.95M349.6 99.9h0.95M348.9 103.7h0.95M349.5 106.8h0.95M349.1 98.0h0.95M350.8 110.3h0.95M349.6 103.0h0.95M351.0 110.4h0.95M350.8 105.2h0.95M349.2 93.5h0.95M351.1 98.5h0.95M348.5 104.4h0.95M349.6 101.1h0.95M349.9 103.3h0.95M350.1 104.5h0.95M347.9 104.5h0.95M352.5 100.1h0.95M348.5 91.6h0.95M351.4 110.2h0.95M353.2 108.3h0.95M348.1 101.6h0.95M349.2 107.6h0.95M348.7 99.8h0.95M348.2 107.8h0.95M349.6 88.5h0.95M350.6 103.0h0.95M348.9 103.9h0.95M351.0 108.4h0.95M349.3 97.1h0.95M350.5 105.7h0.95M348.0 109.3h0.95M353.1 98.6h0.95M348.8 109.3h0.95M349.1 99.3h0.95M353.9 84.2h0.95M348.8 95.9h0.95M350.8 98.4h0.95M349.2 100.2h0.95M350.0 100.8h0.95M348.5 98.6h0.95M349.1 98.4h0.95M348.2 93.5h0.95M348.9 88.6h0.95M351.5 99.3h0.95M348.8 92.5h0.95M351.8 90.5h0.95M348.4 106.2h0.95M347.9 99.8h0.95M348.4 104.7h0.95M349.9 105.5h0.95M351.1 87.7h0.95M352.7 97.3h0.95M348.0 104.1h0.95M350.3 109.5h0.95M349.6 100.7h0.95M349.0 100.0h0.95M350.1 105.4h0.95M349.2 106.4h0.95M351.1 107.8h0.95M350.3 75.7h0.95M349.6 102.3h0.95M347.9 88.4h0.95M348.7 102.4h0.95M350.5 96.4h0.95M349.2 106.0h0.95M349.0 81.9h0.95M351.3 108.5h0.95M349.3 100.0h0.95M350.5 104.6h0.95M350.1 107.0h0.95M352.4 94.6h0.95M348.6 105.2h0.95M351.1 97.1h0.95M349.1 109.5h0.95M350.8 104.8h0.95M349.5 107.9h0.95M348.7 105.0h0.95M349.3 92.2h0.95M349.3 87.5h0.95M350.0 109.4h0.95M350.8 107.6h0.95M349.4 106.1h0.95M351.9 109.3h0.95M348.4 104.8h0.95M349.3 95.1h0.95M349.7 84.2h0.95M351.7 92.1h0.95M348.0 88.1h0.95M352.5 105.7h0.95M350.6 96.9h0.95M350.2 107.5h0.95M350.6 92.3h0.95M348.6 96.0h0.95M351.8 72.3h0.95M348.7 104.5h0.95M350.8 91.3h0.95M348.7 108.7h0.95M348.3 103.3h0.95M348.5 97.4h0.95M351.4 105.3h0.95M348.5 101.6h0.95M349.6 67.1h0.95M355.0 70.2h0.95M349.4 107.4h0.95M348.3 103.0h0.95M349.5 97.6h0.95M349.0 93.4h0.95M349.1 100.7h0.95M348.4 88.5h0.95M349.4 81.8h0.95M348.5 103.2h0.95M348.4 95.9h0.95M350.7 88.9h0.95M348.6 95.2h0.95M348.7 103.1h0.95M351.1 99.0h0.95M350.5 98.8h0.95M348.3 110.2h0.95M348.7 101.1h0.95M348.0 107.6h0.95M350.1 94.9h0.95M348.2 103.5h0.95M350.1 96.8h0.95M348.0 99.1h0.95M349.9 87.2h0.95M348.4 89.7h0.95M349.3 100.7h0.95M351.0 106.9h0.95M349.8 100.3h0.95M349.1 103.9h0.95M350.7 103.0h0.95M348.5 109.4h0.95M351.2 96.6h0.95M348.4 98.9h0.95M351.3 91.4h0.95M349.2 101.3h0.95M350.0 95.4h0.95M350.2 110.0h0.95M349.2 108.2h0.95M349.7 104.5h0.95M352.2 102.9h0.95M349.9 105.0h0.95M351.8 102.8h0.95M349.8 103.1h0.95M349.0 89.3h0.95M348.1 103.8h0.95M348.3 101.9h0.95M348.4 106.3h0.95M353.7 110.4h0.95M349.0 105.2h0.95M350.6 102.8h0.95M349.9 91.3h0.95M350.5 108.9h0.95M350.4 108.6h0.95M348.1 100.3h0.95M351.4 100.9h0.95M351.6 105.9h0.95M349.9 92.4h0.95M349.1 103.2h0.95M348.7 100.9h0.95M350.0 106.6h0.95M351.1 83.0h0.95M350.9 97.7h0.95M353.5 61.2h0.95M349.2 105.6h0.95M348.9 87.7h0.95M350.7 86.8h0.95M348.8 79.5h0.95M349.9 110.3h0.95M351.9 97.4h0.95M348.8 103.5h0.95M349.0 94.3h0.95M349.1 101.2h0.95M348.6 102.6h0.95M350.1 89.0h0.95M354.6 103.9h0.95M348.8 110.4h0.95M348.0 90.7h0.95M349.9 91.2h0.95M348.5 96.7h0.95M350.5 102.7h0.95M348.4 93.1h0.95M348.5 103.6h0.95M349.9 105.2h0.95M348.3 96.7h0.95M349.2 102.9h0.95M348.6 109.6h0.95M348.4 105.0h0.95M350.8 103.1h0.95M348.2 95.1h0.95M348.0 104.2h0.95M351.3 97.2h0.95M348.8 95.8h0.95M351.9 107.3h0.95M352.1 110.4h0.95M348.4 98.9h0.95M350.2 86.6h0.95M348.4 107.1h0.95M350.1 102.9h0.95M348.1 101.4h0.95M350.3 93.8h0.95M348.7 104.6h0.95M348.1 95.5h0.95M349.9 98.6h0.95M349.3 109.3h0.95M348.6 98.2h0.95M348.4 109.9h0.95M349.2 101.7h0.95M348.1 105.8h0.95M350.1 85.5h0.95M349.2 96.8h0.95M354.5 105.7h0.95M348.4 100.6h0.95M349.7 97.0h0.95M351.4 106.9h0.95M348.8 108.2h0.95M349.0 102.8h0.95M350.4 79.6h0.95M348.7 95.1h0.95M350.2 109.0h0.95M348.6 104.3h0.95M349.1 74.7h0.95M348.3 104.5h0.95M350.4 91.1h0.95M348.2 100.6h0.95M352.1 102.4h0.95M348.2 93.8h0.95M348.2 103.4h0.95M348.3 108.1h0.95M349.7 81.6h0.95M348.0 95.4h0.95M348.3 85.1h0.95M351.7 101.1h0.95M350.0 99.1h0.95M348.3 102.7h0.95M348.9 108.0h0.95M351.2 95.7h0.95M350.6 99.2h0.95M350.1 103.3h0.95M350.0 92.9h0.95M348.0 108.5h0.95M350.1 93.3h0.95M349.8 106.1h0.95M351.7 86.7h0.95M348.5 92.9h0.95M348.8 107.7h0.95M350.1 91.7h0.95M351.1 95.2h0.95M351.0 96.2h0.95M348.8 103.4h0.95M349.6 96.6h0.95M350.4 106.1h0.95M349.4 94.9h0.95M348.8 89.4h0.95M348.3 91.0h0.95M348.0 100.2h0.95M348.6 83.4h0.95M349.2 93.8h0.95M348.1 99.5h0.95M348.5 104.4h0.95M348.5 101.2h0.95M349.3 87.5h0.95M350.1 87.8h0.95M348.9 106.7h0.95M348.4 103.7h0.95M350.3 101.8h0.95M348.8 93.0h0.95M352.5 91.1h0.95M352.8 99.7h0.95M350.6 100.0h0.95M349.2 91.0h0.95M349.0 76.4h0.95M348.0 97.9h0.95M351.8 109.5h0.95M350.6 102.6h0.95M349.6 108.8h0.95M349.6 104.3h0.95M353.2 103.4h0.95M348.0 91.2h0.95M351.3 109.3h0.95M348.9 109.9h0.95M350.0 79.2h0.95M350.3 91.7h0.95M350.6 107.5h0.95M350.5 96.3h0.95M348.5 108.6h0.95M351.7 99.9h0.95M349.2 93.6h0.95M352.3 95.4h0.95M351.4 103.6h0.95M349.7 108.3h0.95M349.4 104.5h0.95M352.0 92.0h0.95M349.1 102.5h0.95M348.1 100.6h0.95M350.2 87.1h0.95M352.6 97.6h0.95M348.8 109.0h0.95M348.8 108.1h0.95M351.6 109.5h0.95M350.0 106.6h0.95M348.5 106.7h0.95M349.2 90.9h0.95M348.7 106.8h0.95M349.2 104.5h0.95M349.1 100.4h0.95M349.8 61.0h0.95M350.0 74.8h0.95M348.2 89.4h0.95M350.0 103.4h0.95M348.1 103.4h0.95M348.1 98.2h0.95M350.6 106.5h0.95M349.5 93.3h0.95M352.8 101.9h0.95M350.5 106.8h0.95M349.7 86.5h0.95M348.6 89.4h0.95M349.9 109.1h0.95M348.9 108.9h0.95M351.6 107.0h0.95M353.1 109.9h0.95M350.7 108.6h0.95M350.4 102.2h0.95M349.1 94.1h0.95M348.4 95.6h0.95M348.8 107.0h0.95M348.2 104.2h0.95M348.9 102.7h0.95M350.6 99.4h0.95M349.2 75.3h0.95M348.0 97.8h0.95M349.0 93.9h0.95M351.2 105.1h0.95M352.3 96.0h0.95M348.6 104.1h0.95M349.0 109.0h0.95M350.3 102.8h0.95M348.3 103.8h0.95M348.8 106.4h0.95M349.8 90.3h0.95M349.5 100.2h0.95M349.4 96.4h0.95M351.2 107.3h0.95M348.4 107.8h0.95M349.6 99.6h0.95M349.0 82.4h0.95M349.5 94.2h0.95M349.9 87.8h0.95M349.0 89.4h0.95M352.0 103.3h0.95M349.8 97.0h0.95M350.6 108.2h0.95M351.0 90.3h0.95M350.4 97.4h0.95M348.4 87.7h0.95M348.7 109.4h0.95M351.0 84.4h0.95M349.5 96.1h0.95M350.0 81.7h0.95M348.3 105.2h0.95M349.2 89.5h0.95M348.6 108.7h0.95M349.0 109.1h0.95M349.1 109.4h0.95M349.2 102.1h0.95M348.0 104.3h0.95M348.3 85.1h0.95M348.9 108.4h0.95M350.3 108.8h0.95M351.0 100.2h0.95M348.9 110.4h0.95M349.3 104.6h0.95M348.2 77.3h0.95M348.1 95.9h0.95M351.5 109.1h0.95M351.4 107.0h0.95M348.3 91.5h0.95M351.2 103.6h0.95M349.2 94.9h0.95M352.2 104.6h0.95M349.3 71.7h0.95M350.5 103.9h0.95M348.9 102.7h0.95M354.2 97.5h0.95M349.9 106.2h0.95M349.6 74.2h0.95M348.4 109.8h0.95M350.8 98.2h0.95M350.8 109.4h0.95M351.2 103.9h0.95M351.3 97.2h0.95M350.4 107.6h0.95M348.2 87.0h0.95M351.4 92.6h0.95M349.9 104.7h0.95M353.4 99.9h0.95M348.6 97.6h0.95M348.7 98.4h0.95M349.6 109.7h0.95M349.0 96.0h0.95M348.0 102.8h0.95M351.2 97.4h0.95M349.4 85.2h0.95M350.1 104.0h0.95M350.3 90.2h0.95M348.5 109.0h0.95M350.2 84.5h0.95M349.6 96.4h0.95M351.8 108.3h0.95M349.2 75.2h0.95M350.3 91.5h0.95M352.3 101.7h0.95M348.6 105.7h0.95M351.5 80.6h0.95M348.4 68.0h0.95M350.6 88.2h0.95M349.1 87.0h0.95M348.2 110.0h0.95M350.0 99.0h0.95M348.0 88.6h0.95M349.7 95.1h0.95M350.4 83.0h0.95M350.1 108.2h0.95M351.5 85.2h0.95M348.2 105.5h0.95M348.0 92.3h0.95M348.3 98.3h0.95M348.5 91.7h0.95M348.9 95.3h0.95M349.1 104.3h0.95M349.3 90.1h0.95M348.9 110.2h0.95M349.5 101.8h0.95M349.2 95.5h0.95M348.6 96.3h0.95M349.0 104.6h0.95M348.0 75.5h0.95M349.3 91.3h0.95M348.1 92.8h0.95M348.7 106.9h0.95M348.4 108.6h0.95M348.6 104.1h0.95M350.4 94.9h0.95M351.6 86.3h0.95M349.0 97.5h0.95M348.8 76.9h0.95M349.7 93.4h0.95M349.0 102.1h0.95M350.4 110.4h0.95M350.1 98.2h0.95M349.3 97.4h0.95M351.1 97.6h0.95M348.8 95.2h0.95M348.9 110.5h0.95M350.5 104.8h0.95M348.3 106.2h0.95M348.8 95.6h0.95M349.3 107.9h0.95M349.0 96.6h0.95M349.0 104.9h0.95M348.3 107.4h0.95M349.7 102.1h0.95M348.4 101.8h0.95M349.2 95.5h0.95M347.9 108.4h0.95M348.5 92.4h0.95M348.4 109.8h0.95M349.8 104.5h0.95M348.7 85.8h0.95M348.7 101.8h0.95M353.2 104.5h0.95M349.3 95.3h0.95M350.8 109.6h0.95M350.0 90.3h0.95M348.6 110.4h0.95M347.9 100.2h0.95M352.8 91.8h0.95M352.3 92.3h0.95M349.6 98.0h0.95M351.0 107.8h0.95M349.4 104.9h0.95M350.5 100.5h0.95M354.6 103.0h0.95M348.0 108.5h0.95M348.7 95.0h0.95M348.7 102.8h0.95M348.1 82.7h0.95M349.1 103.0h0.95M351.9 106.7h0.95M348.5 88.4h0.95M350.6 88.4h0.95M350.9 87.0h0.95M350.3 103.9h0.95M351.0 104.3h0.95M348.7 103.4h0.95M349.8 92.1h0.95M352.2 90.5h0.95M348.1 92.4h0.95M349.3 81.0h0.95M348.6 90.2h0.95M350.4 109.0h0.95M349.0 90.6h0.95M348.9 107.9h0.95M348.6 101.1h0.95M348.6 93.1h0.95M349.5 97.3h0.95M351.5 110.1h0.95M348.8 89.8h0.95M349.5 94.2h0.95M349.8 95.0h0.95M349.2 105.3h0.95M349.1 107.2h0.95M348.3 109.0h0.95M348.3 107.8h0.95M348.4 102.6h0.95M348.0 89.2h0.95M349.9 89.3h0.95M349.9 109.1h0.95M348.8 109.5h0.95M348.3 96.7h0.95M348.9 85.4h0.95M349.5 96.4h0.95M349.1 102.2h0.95M348.6 107.6h0.95M348.6 87.6h0.95M348.1 101.1h0.95M349.0 106.2h0.95M350.1 110.4h0.95M350.0 107.3h0.95M348.7 109.1h0.95M348.1 81.6h0.95M349.3 95.4h0.95M348.8 104.8h0.95M349.6 108.5h0.95M349.1 90.4h0.95M352.2 75.4h0.95M347.9 101.6h0.95M349.3 82.3h0.95M348.0 102.3h0.95M348.3 106.5h0.95M354.4 96.8h0.95M350.4 91.0h0.95M349.5 91.5h0.95M351.3 98.4h0.95M349.6 108.3h0.95M349.9 107.2h0.95M349.1 91.5h0.95M351.4 108.7h0.95M350.7 77.3h0.95M348.1 109.0h0.95M349.9 94.4h0.95M349.8 93.4h0.95M348.5 108.2h0.95M351.5 105.9h0.95M348.3 95.7h0.95M348.2 108.0h0.95M348.2 95.8h0.95M349.5 89.1h0.95M352.3 101.1h0.95M347.9 110.1h0.95M348.8 100.5h0.95M348.8 100.7h0.95M350.3 98.2h0.95M348.1 91.3h0.95M350.1 89.5h0.95M348.5 92.0h0.95M348.4 98.6h0.95M348.6 94.3h0.95M351.3 87.9h0.95M348.6 91.0h0.95M348.2 92.5h0.95M349.1 84.0h0.95M349.3 106.2h0.95M349.6 105.5h0.95M348.8 105.4h0.95M353.9 104.3h0.95M350.6 98.8h0.95M351.2 96.0h0.95M348.8 104.4h0.95M348.8 88.8h0.95M350.0 96.1h0.95M348.4 101.3h0.95M348.0 90.4h0.95M349.4 93.9h0.95M349.0 104.1h0.95M349.7 105.6h0.95M350.5 110.2h0.95M348.2 100.4h0.95M350.0 101.1h0.95M348.2 96.4h0.95M349.2 94.0h0.95M347.9 93.7h0.95M353.2 100.9h0.95M350.1 90.4h0.95M349.1 104.7h0.95M350.5 84.5h0.95M348.4 86.9h0.95M352.2 103.9h0.95M350.6 93.7h0.95M351.7 94.8h0.95M351.7 106.6h0.95M348.5 83.8h0.95M350.9 103.1h0.95M348.2 105.7h0.95M348.3 69.2h0.95M348.6 97.7h0.95M351.2 90.3h0.95M349.2 92.5h0.95M349.3 74.2h0.95M348.4 102.4h0.95M354.4 104.0h0.95M350.8 105.2h0.95M349.4 100.4h0.95M349.1 105.7h0.95M349.5 68.8h0.95M348.3 95.6h0.95M348.1 100.1h0.95M350.9 109.3h0.95M351.9 106.2h0.95M350.5 83.8h0.95M349.1 104.7h0.95M353.9 110.0h0.95M349.2 98.4h0.95M352.5 105.0h0.95M349.6 109.6h0.95M349.1 107.8h0.95M349.5 110.2h0.95M347.9 110.2h0.95M350.3 106.1h0.95M348.4 90.5h0.95M350.3 93.5h0.95M348.5 103.8h0.95M348.1 98.5h0.95M351.3 110.1h0.95M349.7 92.5h0.95M348.9 106.1h0.95M348.7 100.6h0.95M350.7 101.4h0.95M351.7 106.6h0.95M350.0 106.4h0.95M350.4 97.1h0.95M348.5 87.6h0.95M352.0 96.4h0.95M349.5 93.9h0.95M348.2 102.2h0.95M348.5 99.1h0.95M350.6 106.8h0.95M348.4 106.8h0.95M349.5 86.3h0.95M349.1 85.1h0.95M348.6 105.6h0.95M348.9 99.3h0.95M351.0 103.7h0.95M348.7 100.5h0.95M348.4 108.3h0.95M349.5 105.0h0.95M349.7 108.4h0.95M350.8 107.2h0.95M349.0 92.8h0.95M349.9 107.3h0.95M349.1 104.3h0.95M349.1 103.9h0.95M351.3 102.9h0.95M349.2 107.0h0.95M348.1 91.2h0.95M348.3 88.2h0.95M348.8 106.7h0.95M350.2 107.6h0.95M349.9 104.9h0.95M349.3 107.7h0.95M348.0 101.9h0.95M348.0 99.1h0.95M348.1 102.3h0.95M348.9 95.7h0.95M348.3 110.3h0.95M347.9 110.4h0.95M349.4 101.2h0.95M351.1 91.4h0.95M350.1 96.9h0.95M352.1 99.1h0.95M350.3 95.8h0.95M349.8 77.6h0.95M348.7 98.4h0.95M352.3 84.6h0.95M354.4 99.3h0.95M351.7 104.4h0.95M356.9 103.9h0.95M352.3 104.5h0.95M349.9 88.4h0.95M358.7 92.4h0.95M348.1 100.1h0.95M350.6 101.4h0.95M353.8 107.2h0.95M350.5 98.5h0.95M353.8 101.3h0.95M350.4 85.2h0.95M357.5 109.0h0.95M349.6 87.2h0.95M349.4 77.2h0.95M351.1 102.5h0.95M350.2 74.7h0.95M349.7 101.5h0.95M349.6 92.5h0.95M352.5 87.4h0.95M353.8 94.3h0.95M351.8 108.9h0.95M356.6 103.9h0.95M348.7 103.3h0.95M351.7 87.8h0.95M349.5 86.8h0.95M351.3 95.8h0.95M354.2 102.2h0.95M351.7 91.7h0.95M353.9 84.5h0.95M359.5 78.6h0.95M359.2 78.0h0.95M356.5 93.8h0.95M350.7 94.8h0.95M348.1 105.8h0.95M349.0 76.7h0.95M350.3 97.3h0.95M349.8 108.6h0.95M350.4 78.6h0.95M351.6 88.2h0.95M361.4 105.2h0.95M348.2 89.2h0.95M351.3 76.9h0.95M353.6 87.8h0.95M348.0 81.9h0.95M349.0 110.5h0.95M348.7 95.6h0.95M349.8 90.8h0.95M350.2 96.5h0.95M350.4 92.6h0.95M351.9 77.1h0.95M350.2 110.5h0.95M358.0 98.6h0.95M348.2 107.3h0.95M352.0 76.1h0.95M353.2 105.7h0.95M354.6 102.7h0.95M351.1 83.0h0.95M349.0 93.6h0.95M357.1 86.9h0.95M359.0 91.1h0.95M349.5 109.5h0.95M356.8 82.8h0.95M349.3 100.1h0.95M352.7 105.6h0.95M352.4 84.5h0.95M350.6 96.4h0.95M350.3 110.1h0.95M351.7 101.8h0.95M350.1 101.7h0.95M350.3 75.2h0.95M349.2 92.5h0.95M348.3 85.4h0.95M350.8 84.4h0.95M350.5 85.6h0.95M348.3 84.5h0.95M352.1 88.1h0.95M350.7 93.7h0.95M352.3 84.5h0.95M348.8 77.4h0.95M349.9 106.4h0.95M359.4 106.8h0.95M359.8 97.9h0.95M351.4 96.8h0.95M349.3 109.5h0.95M356.0 82.0h0.95M357.8 105.9h0.95M351.5 80.0h0.95M350.3 76.3h0.95M351.1 76.3h0.95M354.0 100.7h0.95M348.6 99.9h0.95M351.9 75.5h0.95M350.7 93.0h0.95M357.1 87.2h0.95M349.7 95.8h0.95M349.2 96.2h0.95M349.1 106.5h0.95M349.7 82.1h0.95M351.8 101.1h0.95M349.2 93.3h0.95M355.8 88.8h0.95M351.0 99.7h0.95M354.7 84.6h0.95M353.3 79.4h0.95M350.2 101.1h0.95M351.8 88.8h0.95M349.3 89.4h0.95M352.2 87.4h0.95M355.4 87.9h0.95M352.5 83.2h0.95M349.3 81.3h0.95M349.4 98.4h0.95M353.0 99.6h0.95M352.4 95.8h0.95M350.1 76.3h0.95M353.8 109.4h0.95M349.7 105.0h0.95M348.4 94.0h0.95M348.3 106.9h0.95M351.2 82.7h0.95M349.4 105.2h0.95M350.4 89.0h0.95M349.8 101.6h0.95M352.0 110.2h0.95M350.0 106.5h0.95M354.1 99.5h0.95M351.8 101.1h0.95M351.3 99.9h0.95M349.1 96.2h0.95M348.9 78.4h0.95M353.7 84.8h0.95M351.0 78.6h0.95M348.1 108.8h0.95M355.7 102.0h0.95M352.8 109.0h0.95M348.9 92.1h0.95M352.2 74.3h0.95M352.1 90.7h0.95M348.2 96.1h0.95M350.9 103.1h0.95M355.6 93.4h0.95M350.8 86.3h0.95M358.0 105.2h0.95M353.2 83.5h0.95M351.2 99.5h0.95M355.5 95.6h0.95M355.2 106.0h0.95M356.3 86.8h0.95M348.9 76.4h0.95M355.7 88.4h0.95M350.0 103.5h0.95M359.1 110.2h0.95M351.0 94.1h0.95M354.3 82.3h0.95M352.2 90.7h0.95M351.2 103.0h0.95M349.6 93.4h0.95M353.8 106.0h0.95M352.8 89.5h0.95M352.7 107.4h0.95M356.9 80.6h0.95M351.1 98.8h0.95M351.7 98.6h0.95M348.3 94.7h0.95M356.9 74.5h0.95M352.5 84.3h0.95M353.2 86.8h0.95M354.5 103.8h0.95M354.3 93.1h0.95M356.0 84.4h0.95M359.0 80.0h0.95M348.3 77.2h0.95M350.0 91.0h0.95M358.6 78.8h0.95M353.8 88.3h0.95M350.5 94.0h0.95M357.2 83.1h0.95M349.3 76.9h0.95M357.0 99.8h0.95M349.6 105.5h0.95M355.3 94.5h0.95M353.4 100.6h0.95M351.5 86.4h0.95M350.8 94.4h0.95M350.4 74.4h0.95M349.3 93.1h0.95M348.7 106.2h0.95M348.2 91.9h0.95M352.1 89.8h0.95M348.5 91.1h0.95M349.8 91.6h0.95M350.1 100.2h0.95M351.6 102.6h0.95M354.7 89.6h0.95M352.5 96.2h0.95M358.8 107.0h0.95M349.4 106.0h0.95M348.5 74.9h0.95M348.2 106.3h0.95M350.8 98.5h0.95M355.2 106.5h0.95M356.0 107.2h0.95M358.2 74.8h0.95M352.8 103.7h0.95M357.9 94.8h0.95M353.7 77.4h0.95M350.5 93.9h0.95M352.1 97.8h0.95M350.5 98.6h0.95M350.5 93.3h0.95M354.6 101.0h0.95M350.9 93.8h0.95M350.1 86.2h0.95M350.3 108.7h0.95M356.9 102.6h0.95M351.0 105.4h0.95M360.9 50.4h0.95M368.9 52.8h0.95M353.8 53.2h0.95M370.2 53.9h0.95M354.5 55.3h0.95M351.0 57.7h0.95M359.6 60.7h0.95M349.0 53.7h0.95M355.0 62.4h0.95M369.2 64.7h0.95M351.8 64.0h0.95M350.5 53.6h0.95M358.4 51.6h0.95M353.7 69.2h0.95M353.8 54.4h0.95M351.8 62.1h0.95M353.9 57.9h0.95M360.6 66.5h0.95M353.0 53.0h0.95M350.7 51.3h0.95M360.2 51.5h0.95M353.1 55.1h0.95M358.9 60.7h0.95M361.4 59.8h0.95M353.7 65.6h0.95M362.2 69.3h0.95M354.5 49.4h0.95M356.4 52.2h0.95M359.0 59.5h0.95M363.6 65.3h0.95M351.9 54.1h0.95M350.0 67.1h0.95M351.5 62.9h0.95M348.3 58.4h0.95M375.9 56.0h0.95M360.8 65.6h0.95M362.6 55.7h0.95M351.0 65.6h0.95M359.7 61.9h0.95M350.6 63.3h0.95M350.4 75.2h0.95M350.8 48.0h0.95M351.0 66.1h0.95M368.3 54.0h0.95M354.4 71.9h0.95M365.8 56.6h0.95M356.8 49.0h0.95M355.0 55.9h0.95M350.0 72.3h0.95M359.7 67.9h0.95M349.3 53.8h0.95M349.1 74.7h0.95M367.5 53.6h0.95M354.2 76.2h0.95M350.9 62.5h0.95M354.9 63.2h0.95M349.4 58.7h0.95M350.3 50.8h0.95M358.0 53.2h0.95M354.1 75.0h0.95M376.1 85.0h0.95M350.4 64.2h0.95M351.4 48.8h0.95M353.5 59.7h0.95M353.4 48.9h0.95M360.1 47.6h0.95M349.1 56.1h0.95M353.4 50.3h0.95M358.8 51.9h0.95M360.6 53.3h0.95M357.9 71.6h0.95M353.7 47.2h0.95M355.7 60.4h0.95M363.2 51.3h0.95M360.8 50.4h0.95M356.9 68.0h0.95M357.7 56.2h0.95M353.0 52.0h0.95M352.9 60.5h0.95M352.0 56.2h0.95M351.4 83.4h0.95M357.4 61.8h0.95M354.0 61.2h0.95M366.8 50.2h0.95M351.7 58.2h0.95M366.0 70.7h0.95M357.6 55.4h0.95M357.4 62.2h0.95M350.9 56.8h0.95M361.7 56.7h0.95M359.7 73.5h0.95M357.0 64.6h0.95M353.0 62.0h0.95M358.8 54.1h0.95M369.3 57.5h0.95M369.2 58.3h0.95M356.7 57.4h0.95M367.3 47.0h0.95M363.2 56.7h0.95M350.1 65.4h0.95M365.9 49.0h0.95M354.3 70.8h0.95M364.3 50.6h0.95M364.4 47.1h0.95M354.1 58.8h0.95M358.0 64.2h0.95M353.4 51.7h0.95M356.4 58.7h0.95M352.6 61.8h0.95M350.9 51.3h0.95M362.8 50.5h0.95M360.9 49.0h0.95M364.6 52.9h0.95M359.1 71.6h0.95M353.0 61.1h0.95M348.8 68.8h0.95M356.2 56.9h0.95M360.4 49.6h0.95M363.8 70.0h0.95M357.3 59.9h0.95M355.1 60.7h0.95M349.3 60.4h0.95M356.1 65.8h0.95M359.1 61.4h0.95M363.5 59.9h0.95M355.4 61.1h0.95M348.4 51.2h0.95M357.6 62.5h0.95M350.2 76.0h0.95M363.6 60.7h0.95M367.0 59.8h0.95M354.4 67.7h0.95M348.6 56.8h0.95M348.8 48.9h0.95M358.1 54.7h0.95M349.6 64.9h0.95M350.6 54.0h0.95M362.3 60.2h0.95M361.3 51.8h0.95M354.2 47.3h0.95M367.1 69.9h0.95M357.8 63.6h0.95M364.0 54.6h0.95M349.4 62.4h0.95M358.8 56.3h0.95M363.9 58.5h0.95M360.6 57.2h0.95M355.2 80.8h0.95M352.7 50.9h0.95M354.5 57.5h0.95M348.5 53.0h0.95M349.1 52.6h0.95M361.0 52.7h0.95M349.9 59.3h0.95M358.4 77.1h0.95M349.4 71.4h0.95M360.2 48.3h0.95M372.1 47.4h0.95M349.8 69.5h0.95M362.7 64.2h0.95M350.4 75.8h0.95M359.2 69.2h0.95M356.7 62.5h0.95M359.9 52.9h0.95M349.0 61.5h0.95M372.0 60.7h0.95M354.7 48.7h0.95M359.1 54.1h0.95M351.3 60.4h0.95M353.0 54.3h0.95M357.2 49.9h0.95M353.5 51.8h0.95M354.0 64.2h0.95M354.7 73.7h0.95M348.3 60.3h0.95M359.0 59.4h0.95M355.9 48.9h0.95M363.0 59.2h0.95M351.3 48.1h0.95M348.1 65.4h0.95M364.1 49.2h0.95M350.9 67.2h0.95M348.6 47.4h0.95M360.1 77.1h0.95M350.2 47.7h0.95M357.9 51.8h0.95M361.8 57.9h0.95M357.6 49.5h0.95M359.6 68.1h0.95M366.4 54.7h0.95M351.1 65.1h0.95M352.9 68.2h0.95M356.1 57.8h0.95M362.7 56.7h0.95M349.1 67.0h0.95M350.2 50.5h0.95M368.4 48.2h0.95M349.9 63.3h0.95M358.2 60.5h0.95M371.1 86.0h0.95M350.1 58.4h0.95M349.0 76.9h0.95M360.5 48.7h0.95M377.3 63.9h0.95M359.8 65.7h0.95M357.0 64.7h0.95M351.1 50.9h0.95M351.5 47.5h0.95M351.1 68.6h0.95M350.5 55.0h0.95M364.1 90.9h0.95M356.2 61.9h0.95M366.9 62.1h0.95M358.6 68.8h0.95M349.4 55.0h0.95M349.0 77.8h0.95M368.8 51.2h0.95M348.7 77.2h0.95M352.6 60.6h0.95M353.4 67.8h0.95M356.4 54.5h0.95M355.6 64.5h0.95M360.2 76.3h0.95M362.4 49.2h0.95M357.6 54.5h0.95M354.7 48.7h0.95M348.7 53.9h0.95M364.8 67.7h0.95M349.5 53.9h0.95M348.0 52.3h0.95M362.0 47.2h0.95M355.7 62.8h0.95M372.9 53.2h0.95M352.0 62.7h0.95M358.2 60.0h0.95M358.0 61.9h0.95M356.6 60.9h0.95M368.9 51.7h0.95M352.4 53.0h0.95M348.2 53.8h0.95M357.5 69.2h0.95M367.0 55.1h0.95M351.9 91.5h0.95M349.6 63.0h0.95M350.8 68.3h0.95M349.0 51.7h0.95M350.1 58.5h0.95M359.6 48.2h0.95M353.3 76.3h0.95M356.2 82.8h0.95M358.2 47.1h0.95M353.6 51.9h0.95M348.6 60.8h0.95M354.9 56.4h0.95M352.1 51.1h0.95M357.3 70.5h0.95M355.6 52.9h0.95M358.0 59.0h0.95M366.7 54.8h0.95M374.2 53.7h0.95M350.0 75.7h0.95M366.2 65.9h0.95M348.5 68.2h0.95M366.3 54.9h0.95M352.5 65.8h0.95M348.7 47.9h0.95M353.8 59.5h0.95M349.7 57.0h0.95M357.3 48.0h0.95M351.1 47.2h0.95M348.4 69.4h0.95M353.5 78.5h0.95M353.7 54.5h0.95M359.2 56.4h0.95M351.2 58.9h0.95M348.4 81.1h0.95M359.0 61.1h0.95M365.0 67.3h0.95M352.1 51.5h0.95M369.7 56.9h0.95M348.5 52.3h0.95M348.6 62.2h0.95M358.2 52.2h0.95M352.2 56.7h0.95M350.5 49.5h0.95M354.7 55.4h0.95M361.0 61.4h0.95M350.7 47.8h0.95M350.2 66.3h0.95M350.3 69.0h0.95M357.9 61.6h0.95M354.3 49.4h0.95M352.2 47.3h0.95M355.7 79.5h0.95M363.8 62.1h0.95M354.9 68.7h0.95M355.5 57.1h0.95M371.8 48.4h0.95M362.3 50.8h0.95M364.6 63.5h0.95M348.7 66.7h0.95M358.7 72.4h0.95M366.5 56.4h0.95M350.9 53.2h0.95M363.3 64.4h0.95M363.9 52.4h0.95M348.9 61.3h0.95M363.7 48.4h0.95M355.8 62.2h0.95M350.3 66.4h0.95M368.7 68.9h0.95M361.7 59.9h0.95M352.9 69.9h0.95M358.3 68.9h0.95M362.5 60.0h0.95M353.6 69.4h0.95M352.8 62.3h0.95M376.1 48.8h0.95M349.1 71.6h0.95M349.6 47.7h0.95M354.2 52.0h0.95M374.1 58.2h0.95M368.3 75.9h0.95M357.4 65.7h0.95M356.1 63.0h0.95M353.8 65.3h0.95M349.8 56.2h0.95M351.6 53.6h0.95M355.8 52.1h0.95M367.0 51.2h0.95M349.3 76.6h0.95M358.1 63.8h0.95M374.7 68.3h0.95M349.8 47.9h0.95M350.7 73.3h0.95M352.3 56.3h0.95M354.5 60.6h0.95M350.1 53.7h0.95M359.4 53.0h0.95M348.1 86.0h0.95M352.9 57.1h0.95M348.4 80.3h0.95M376.8 54.0h0.95M353.9 57.9h0.95M356.0 51.2h0.95M358.0 59.5h0.95M348.9 55.4h0.95M348.2 58.7h0.95M353.0 54.0h0.95M354.7 61.1h0.95M348.6 48.0h0.95M351.7 48.2h0.95M353.8 67.2h0.95M357.4 58.1h0.95M356.4 58.3h0.95M352.4 68.2h0.95M356.2 66.4h0.95M366.7 48.4h0.95M355.9 49.6h0.95M348.7 61.4h0.95M350.3 60.3h0.95M357.4 53.0h0.95M353.8 63.3h0.95M350.8 67.1h0.95M358.9 53.1h0.95M357.3 56.6h0.95M351.6 62.8h0.95M370.9 50.1h0.95M357.3 58.8h0.95M348.0 48.0h0.95M357.5 56.8h0.95M360.2 68.9h0.95M353.2 72.6h0.95M352.0 52.2h0.95M353.5 57.6h0.95M353.7 48.8h0.95M355.6 109.4h0.95M354.0 52.6h0.95M353.1 80.7h0.95M358.4 56.8h0.95M353.2 62.9h0.95M366.3 75.4h0.95M349.0 70.8h0.95M356.3 73.9h0.95M350.1 70.2h0.95M370.9 79.0h0.95M353.4 51.8h0.95M359.2 61.0h0.95M362.3 57.9h0.95M359.4 65.3h0.95M349.6 58.6h0.95M350.6 53.3h0.95M356.5 76.5h0.95M352.4 81.6h0.95M350.2 80.9h0.95M349.7 48.3h0.95M353.3 55.4h0.95M359.7 47.1h0.95M353.8 53.1h0.95M348.7 47.1h0.95M351.1 53.9h0.95M365.3 68.0h0.95M363.1 91.1h0.95M361.6 58.3h0.95M350.1 73.3h0.95M363.1 58.0h0.95M352.9 78.1h0.95M359.6 72.9h0.95M357.5 64.7h0.95M350.1 56.9h0.95M361.1 59.9h0.95M357.0 56.2h0.95M354.7 68.1h0.95M360.4 67.7h0.95M349.1 58.1h0.95M348.3 54.9h0.95M351.2 66.0h0.95M353.7 79.5h0.95M377.4 48.7h0.95M350.0 73.6h0.95M357.0 76.3h0.95M364.1 51.3h0.95M373.2 47.5h0.95M367.4 56.9h0.95M353.5 52.9h0.95M368.2 48.0h0.95M351.3 63.6h0.95M365.8 54.1h0.95M362.9 50.6h0.95M362.1 52.1h0.95M365.7 54.2h0.95M365.5 61.6h0.95M355.5 52.7h0.95M372.1 54.4h0.95M348.2 67.5h0.95M353.2 59.4h0.95M363.6 59.2h0.95M365.5 55.3h0.95M351.3 50.3h0.95M367.2 53.2h0.95M366.0 58.2h0.95M355.0 51.5h0.95M361.8 54.2h0.95M370.9 63.0h0.95M352.8 51.9h0.95M361.8 47.7h0.95M353.0 72.5h0.95M355.3 48.0h0.95M348.6 53.3h0.95M369.7 50.0h0.95M358.8 50.8h0.95M372.1 58.5h0.95M371.5 54.9h0.95M352.8 68.8h0.95M349.4 69.9h0.95M362.1 68.0h0.95M354.0 51.8h0.95M361.4 74.0h0.95M361.1 53.5h0.95M366.2 65.7h0.95M348.3 49.7h0.95M348.7 50.3h0.95M368.1 72.6h0.95M368.9 57.5h0.95M370.7 55.8h0.95M369.5 59.0h0.95M352.9 59.4h0.95M372.6 49.6h0.95M366.5 49.9h0.95M357.7 67.6h0.95M358.0 60.1h0.95M373.0 63.6h0.95M356.1 61.7h0.95M367.2 48.1h0.95M365.1 56.6h0.95M362.5 53.2h0.95M370.1 62.1h0.95M354.2 70.2h0.95M363.1 53.7h0.95M352.5 62.7h0.95M354.1 47.8h0.95M362.4 50.6h0.95M350.3 63.9h0.95M371.4 50.2h0.95M351.5 49.6h0.95M349.5 52.0h0.95M353.5 48.8h0.95M373.2 64.6h0.95M362.3 47.0h0.95M362.0 48.0h0.95M362.3 56.5h0.95M355.6 50.3h0.95M355.3 50.2h0.95M349.6 55.8h0.95M364.2 56.8h0.95M372.1 57.8h0.95M372.6 49.4h0.95M357.4 82.2h0.95M369.5 54.2h0.95M352.3 49.4h0.95M348.0 61.8h0.95M354.7 68.3h0.95M368.7 70.2h0.95M356.0 57.4h0.95M361.0 49.2h0.95M365.0 73.4h0.95M368.2 58.1h0.95M359.7 48.4h0.95M360.5 51.4h0.95M355.5 75.0h0.95M357.0 57.1h0.95M352.4 61.0h0.95M358.7 47.2h0.95M351.1 72.6h0.95M357.0 48.8h0.95M366.9 59.2h0.95M369.5 60.3h0.95M359.7 59.4h0.95M368.8 53.9h0.95M366.6 60.8h0.95M348.8 68.4h0.95M359.2 67.2h0.95M353.1 66.2h0.95M351.6 61.1h0.95M358.7 57.2h0.95M359.6 47.8h0.95M368.5 65.8h0.95M349.0 54.0h0.95M366.5 62.3h0.95M350.4 89.2h0.95M368.6 56.4h0.95M357.1 48.1h0.95M361.6 55.6h0.95M369.6 49.8h0.95M370.8 54.2h0.95M354.6 57.6h0.95M356.5 60.4h0.95M349.6 50.3h0.95M354.7 59.0h0.95M353.0 61.6h0.95M354.9 53.3h0.95M370.3 55.6h0.95M361.6 62.9h0.95M372.6 52.4h0.95M372.5 75.4h0.95M364.3 47.2h0.95M360.1 66.3h0.95M357.0 51.5h0.95M367.7 62.0h0.95M362.3 77.2h0.95M362.9 53.8h0.95M361.2 54.3h0.95M361.9 54.9h0.95M368.7 50.2h0.95M348.7 74.8h0.95M350.8 59.6h0.95M355.4 50.5h0.95M348.3 47.3h0.95M359.1 51.9h0.95M352.3 54.1h0.95M368.7 49.0h0.95M351.0 62.3h0.95M353.0 47.3h0.95M363.4 64.1h0.95M356.1 51.6h0.95M371.5 52.3h0.95M353.7 62.5h0.95M357.2 58.9h0.95M350.3 83.6h0.95M366.3 65.3h0.95M360.9 50.7h0.95M357.0 60.7h0.95M354.2 59.8h0.95M360.1 52.0h0.95M356.7 49.6h0.95M371.3 47.7h0.95M352.7 75.7h0.95M363.5 54.9h0.95M365.0 78.3h0.95M373.4 61.1h0.95M349.8 56.7h0.95M353.4 49.9h0.95M367.7 61.5h0.95M351.6 50.0h0.95M353.6 56.0h0.95M368.0 49.3h0.95M361.0 58.9h0.95M358.5 48.2h0.95M368.4 64.1h0.95M359.6 47.9h0.95M364.8 52.0h0.95M352.3 54.9h0.95M362.2 54.1h0.95M353.6 50.6h0.95M367.4 47.8h0.95M350.5 53.7h0.95M348.8 58.8h0.95M356.5 49.4h0.95M363.7 49.2h0.95M364.7 61.6h0.95M350.4 73.4h0.95M360.9 51.3h0.95M367.2 51.3h0.95M355.8 53.4h0.95M349.6 65.1h0.95M361.5 80.0h0.95M352.6 57.3h0.95M348.6 47.8h0.95M367.2 54.3h0.95M357.6 70.3h0.95M350.3 48.6h0.95M362.3 50.3h0.95M362.4 47.3h0.95M367.4 66.9h0.95M357.1 52.0h0.95M356.7 71.8h0.95M350.8 61.5h0.95M365.1 53.1h0.95M365.9 56.2h0.95M359.5 85.8h0.95M372.1 55.1h0.95M351.2 55.0h0.95M362.2 71.3h0.95M362.3 49.0h0.95M351.1 47.0h0.95M373.1 75.0h0.95M366.7 53.7h0.95M370.9 48.2h0.95M355.9 52.4h0.95M356.1 80.1h0.95M368.4 65.0h0.95M348.1 65.6h0.95M370.6 64.6h0.95M352.0 50.4h0.95M371.0 63.6h0.95M368.1 55.9h0.95M366.2 73.7h0.95M367.1 54.4h0.95M369.2 53.9h0.95M367.3 62.0h0.95M368.5 62.6h0.95M362.4 73.1h0.95M363.8 60.3h0.95M359.1 57.4h0.95M354.0 51.2h0.95M364.0 60.5h0.95M350.2 56.9h0.95M371.7 83.0h0.95M366.4 73.2h0.95M361.8 62.9h0.95M368.5 81.3h0.95M353.1 52.4h0.95M352.2 49.4h0.95M372.0 77.3h0.95M368.0 55.4h0.95M360.6 54.5h0.95M350.4 98.4h0.95M365.7 82.6h0.95M372.3 48.0h0.95M348.5 59.4h0.95M368.8 53.4h0.95M368.5 63.8h0.95M371.4 50.1h0.95M372.7 48.1h0.95M349.4 73.8h0.95M364.2 54.7h0.95M360.8 62.4h0.95M352.7 47.0h0.95M358.1 57.1h0.95M355.6 55.0h0.95M370.0 52.1h0.95M361.7 55.8h0.95M356.4 73.0h0.95M363.1 64.1h0.95M357.6 51.6h0.95M362.3 54.2h0.95M366.8 48.5h0.95M371.7 53.7h0.95M353.2 53.8h0.95M349.5 47.6h0.95M363.1 56.4h0.95M370.7 50.7h0.95M356.7 79.0h0.95M368.5 58.5h0.95M371.0 57.0h0.95M359.9 57.9h0.95M352.7 62.2h0.95M352.9 57.6h0.95M353.5 55.7h0.95M361.3 55.2h0.95M350.1 49.7h0.95M371.2 62.2h0.95M351.0 55.0h0.95M358.8 52.4h0.95M371.2 55.5h0.95M350.2 50.5h0.95M363.8 50.8h0.95M364.3 58.5h0.95M363.8 66.8h0.95M361.8 58.5h0.95M351.1 54.3h0.95M368.3 54.6h0.95M348.0 64.7h0.95M372.3 51.5h0.95M368.8 68.9h0.95M369.5 52.5h0.95M371.2 48.5h0.95M354.7 60.7h0.95M356.2 53.2h0.95M355.0 48.0h0.95M352.3 48.1h0.95M363.0 65.1h0.95M365.0 48.0h0.95M348.6 58.6h0.95M364.0 61.2h0.95M368.7 51.6h0.95M372.3 54.0h0.95M372.1 57.9h0.95M368.4 48.5h0.95M357.1 55.1h0.95M366.8 77.4h0.95M361.8 64.3h0.95M349.4 79.1h0.95M357.1 69.8h0.95M368.2 63.4h0.95M348.1 63.2h0.95M352.3 64.8h0.95M364.9 48.8h0.95M364.1 52.2h0.95M369.3 63.5h0.95M348.9 53.8h0.95M368.6 52.9h0.95M349.5 50.3h0.95M373.1 66.0h0.95M360.8 54.0h0.95M359.8 57.6h0.95M354.3 51.9h0.95M349.1 49.3h0.95M371.2 61.9h0.95M368.2 74.8h0.95M352.1 48.8h0.95M362.4 54.1h0.95M351.7 61.9h0.95M352.5 69.5h0.95M350.7 63.5h0.95M370.4 53.5h0.95M363.6 53.6h0.95M348.3 58.4h0.95M349.6 64.2h0.95M351.1 48.9h0.95" stroke="#000" stroke-width="0.95" stroke-opacity="0.85" fill="none"/>
<path d="M358.3 85.8h0.9M365.5 108.8h0.9M360.8 109.1h0.9M362.2 96.0h0.9M355.3 78.2h0.9M361.3 97.2h0.9M370.4 90.5h0.9M370.7 107.9h0.9M361.7 104.0h0.9M352.8 98.1h0.9M368.1 104.0h0.9M356.7 96.2h0.9M366.5 87.9h0.9M366.3 93.3h0.9M353.0 87.6h0.9M360.0 79.4h0.9M368.4 81.1h0.9M366.7 109.8h0.9M353.8 85.4h0.9M352.2 93.7h0.9M361.3 90.9h0.9M352.8 85.0h0.9M371.0 82.1h0.9M359.5 107.4h0.9M360.0 78.3h0.9M361.9 93.0h0.9M369.2 98.1h0.9M366.7 103.9h0.9M371.1 82.3h0.9M364.5 104.2h0.9M355.5 95.8h0.9M362.1 85.6h0.9M354.6 104.9h0.9M368.0 83.5h0.9M365.9 93.9h0.9M358.4 100.9h0.9M361.1 92.5h0.9M362.5 99.2h0.9M363.0 84.3h0.9M372.3 88.3h0.9M356.4 88.6h0.9M355.5 94.3h0.9M369.7 107.3h0.9M368.0 101.2h0.9M368.4 109.7h0.9M366.0 87.2h0.9M367.1 83.6h0.9M360.6 106.8h0.9M362.6 84.4h0.9M364.3 80.8h0.9M354.7 99.5h0.9M372.4 106.5h0.9M369.4 102.3h0.9M368.7 103.2h0.9M359.2 109.5h0.9M365.8 96.4h0.9M359.4 108.6h0.9M369.0 87.0h0.9M352.5 88.4h0.9M367.7 80.3h0.9M387.3 65.0h0.9M397.1 74.1h0.9M391.4 80.4h0.9M391.2 75.9h0.9M388.4 70.5h0.9M385.6 65.3h0.9M407.8 79.4h0.9M378.7 62.6h0.9M411.3 76.1h0.9M380.4 59.4h0.9M385.5 61.9h0.9M368.3 73.5h0.9M399.0 82.5h0.9M406.5 73.0h0.9M377.8 62.9h0.9M372.6 41.3h0.9M395.0 82.1h0.9M387.6 45.0h0.9M395.4 60.1h0.9M406.4 87.2h0.9M374.2 62.1h0.9M392.6 55.2h0.9M374.2 65.9h0.9M395.0 69.4h0.9M383.6 52.8h0.9M374.3 67.0h0.9M405.0 90.8h0.9M398.8 81.5h0.9M371.3 61.6h0.9M397.8 73.0h0.9M422.0 76.5h0.9M411.2 85.3h0.9M400.9 79.4h0.9M393.0 77.2h0.9M397.1 56.1h0.9M397.3 80.5h0.9M391.2 60.5h0.9M409.0 79.1h0.9M410.3 78.3h0.9M406.7 84.1h0.9M373.6 52.8h0.9M408.3 93.3h0.9M407.2 82.4h0.9M405.9 100.5h0.9M390.0 59.5h0.9M419.1 96.6h0.9M408.9 80.0h0.9M379.9 61.0h0.9M378.4 47.1h0.9M377.9 58.9h0.9M402.7 87.0h0.9M420.9 83.8h0.9M404.2 67.6h0.9M367.6 43.3h0.9M391.9 69.1h0.9M386.6 67.0h0.9M403.1 83.1h0.9M382.3 63.2h0.9M370.2 56.9h0.9M400.6 67.5h0.9M393.9 79.0h0.9M385.2 57.3h0.9M383.6 72.7h0.9M423.0 77.4h0.9M391.1 60.8h0.9M386.8 73.0h0.9M408.3 89.9h0.9M367.5 79.3h0.9M388.5 81.3h0.9M410.3 87.3h0.9M399.8 74.9h0.9M408.4 95.8h0.9M379.4 51.8h0.9M389.9 64.1h0.9M393.2 76.7h0.9M407.1 87.2h0.9M389.8 72.3h0.9M406.9 76.6h0.9M383.7 44.9h0.9M418.5 78.0h0.9M385.8 62.0h0.9M377.4 63.2h0.9M369.3 57.5h0.9M402.9 71.6h0.9M373.2 52.0h0.9M392.8 60.1h0.9M408.4 72.0h0.9M381.8 54.1h0.9M392.5 54.5h0.9M382.0 37.8h0.9M398.3 90.5h0.9M398.4 81.8h0.9M397.4 51.7h0.9M414.0 80.2h0.9M390.7 61.7h0.9M413.3 90.7h0.9M379.7 50.1h0.9M384.8 59.6h0.9M387.3 79.9h0.9M386.0 41.5h0.9M368.0 53.7h0.9M398.2 77.9h0.9M406.7 94.0h0.9M379.8 54.5h0.9M386.1 60.6h0.9M379.3 76.5h0.9M372.8 53.2h0.9M387.9 60.6h0.9M405.2 85.9h0.9M385.6 69.3h0.9M412.2 82.2h0.9M387.9 74.5h0.9M420.4 86.6h0.9M395.6 68.0h0.9M386.7 56.9h0.9M410.7 53.8h0.9M409.4 83.8h0.9M395.1 85.3h0.9M385.7 67.0h0.9M394.3 93.2h0.9M367.3 58.7h0.9M381.3 61.5h0.9M376.1 67.0h0.9M374.5 46.6h0.9M407.1 91.1h0.9M406.3 93.9h0.9M413.9 93.5h0.9M370.8 66.7h0.9M406.1 97.2h0.9M382.4 60.7h0.9M398.0 77.7h0.9M380.7 61.6h0.9M408.0 83.4h0.9M374.0 61.3h0.9M395.0 74.5h0.9M421.4 78.0h0.9M403.4 82.6h0.9M385.2 72.8h0.9M406.7 84.8h0.9M415.0 103.2h0.9M392.6 73.8h0.9M411.8 94.1h0.9M407.2 93.6h0.9M426.5 101.1h0.9M397.6 72.3h0.9M391.7 57.0h0.9M386.0 54.8h0.9M395.4 63.6h0.9M378.6 48.0h0.9M379.3 40.6h0.9M398.2 64.2h0.9M404.9 64.9h0.9M401.8 79.9h0.9M364.0 48.6h0.9M410.1 83.2h0.9M399.9 72.9h0.9M378.0 52.5h0.9M410.8 93.9h0.9M375.5 50.5h0.9M406.4 92.5h0.9M385.1 56.2h0.9M396.1 72.6h0.9M377.5 58.3h0.9M408.9 75.1h0.9M379.4 67.6h0.9M389.2 83.1h0.9M393.6 57.4h0.9M391.2 73.9h0.9M392.7 71.6h0.9M409.8 74.5h0.9M403.3 89.5h0.9M382.2 46.4h0.9M409.7 80.1h0.9M382.9 76.1h0.9M424.7 88.3h0.9M382.3 57.2h0.9M405.2 71.9h0.9M403.0 61.0h0.9M382.1 68.1h0.9M386.8 47.0h0.9M373.1 46.5h0.9M374.6 48.0h0.9M390.2 59.0h0.9M422.7 90.7h0.9M401.2 68.6h0.9M403.1 73.3h0.9M387.9 58.2h0.9M374.0 66.5h0.9M391.1 68.4h0.9M410.4 80.2h0.9M371.6 58.2h0.9M397.4 70.9h0.9M384.6 51.8h0.9M375.5 72.9h0.9M402.7 79.1h0.9M391.0 90.3h0.9M391.5 69.4h0.9M392.4 58.3h0.9M411.0 83.5h0.9M422.4 95.1h0.9M392.8 58.5h0.9M404.5 75.6h0.9M399.2 91.8h0.9M411.4 82.7h0.9M379.3 63.8h0.9M420.0 88.5h0.9M401.8 76.8h0.9M413.9 82.0h0.9M383.3 53.2h0.9M384.2 50.7h0.9M397.7 57.7h0.9M392.5 68.4h0.9M392.6 62.8h0.9M380.9 67.3h0.9M430.9 90.1h0.9M397.2 89.6h0.9M401.8 96.4h0.9M367.7 37.3h0.9M389.7 70.0h0.9M410.2 83.0h0.9M408.2 97.2h0.9M423.7 84.1h0.9M402.9 61.4h0.9M372.0 44.6h0.9M385.2 62.2h0.9M379.7 77.9h0.9M394.4 70.9h0.9M390.9 63.6h0.9M415.1 86.1h0.9M374.9 54.6h0.9M401.4 57.0h0.9M391.7 66.2h0.9M385.1 52.1h0.9M398.3 92.1h0.9M399.9 62.8h0.9M418.1 92.4h0.9M391.8 78.3h0.9M401.8 69.1h0.9M373.6 45.8h0.9M390.9 64.2h0.9M413.8 88.9h0.9M392.0 57.4h0.9M409.9 77.1h0.9M386.2 70.3h0.9M403.0 83.4h0.9M366.1 63.9h0.9M363.6 42.6h0.9M372.4 47.2h0.9M387.4 63.2h0.9M403.4 79.4h0.9M375.2 59.8h0.9M416.9 82.1h0.9M375.8 68.9h0.9M407.4 94.4h0.9M378.0 62.1h0.9M418.5 84.7h0.9M403.8 67.9h0.9M368.1 45.8h0.9M383.4 73.0h0.9M380.3 61.8h0.9M419.1 105.9h0.9M394.1 66.1h0.9M362.5 48.0h0.9M379.8 71.3h0.9M391.2 69.8h0.9M418.4 78.7h0.9M393.2 79.0h0.9M419.3 77.7h0.9M407.5 63.1h0.9M405.9 94.8h0.9M391.4 57.2h0.9M378.0 46.6h0.9M385.8 50.8h0.9M391.9 62.8h0.9M397.3 68.3h0.9M371.7 49.1h0.9M370.4 44.5h0.9M404.2 64.9h0.9M403.6 90.0h0.9M411.4 62.0h0.9M387.4 61.5h0.9M399.9 73.6h0.9M372.6 40.4h0.9M392.9 77.1h0.9M402.0 74.3h0.9M401.8 81.7h0.9M409.9 84.5h0.9M394.9 85.9h0.9M384.3 64.0h0.9M393.4 75.1h0.9M411.5 77.4h0.9M406.8 80.3h0.9M378.8 62.2h0.9M388.2 54.5h0.9M394.1 75.7h0.9M422.9 99.4h0.9M379.0 57.5h0.9M402.6 102.6h0.9M375.6 64.9h0.9M364.5 64.0h0.9M377.8 53.6h0.9M408.5 95.5h0.9M401.4 80.2h0.9M381.9 69.3h0.9M393.6 63.9h0.9M414.6 75.7h0.9M373.6 58.5h0.9M379.9 64.9h0.9M383.9 54.8h0.9M405.3 78.3h0.9M410.6 72.7h0.9M408.2 68.8h0.9M397.1 75.8h0.9M384.6 74.8h0.9M386.1 79.7h0.9M378.3 58.7h0.9M408.2 80.9h0.9M379.1 70.2h0.9M368.7 47.9h0.9M403.9 79.5h0.9M358.9 49.5h0.9M395.3 67.6h0.9M383.6 47.6h0.9M399.8 84.5h0.9M382.8 52.1h0.9M411.8 87.9h0.9M398.1 79.9h0.9M392.8 66.6h0.9M404.9 77.6h0.9M377.1 42.2h0.9M423.9 86.8h0.9M427.1 106.9h0.9M431.7 84.4h0.9M397.9 70.5h0.9M395.3 65.4h0.9M422.0 109.2h0.9M393.9 91.2h0.9M397.9 101.8h0.9M403.2 94.6h0.9M415.0 60.7h0.9M435.9 61.3h0.9M381.6 53.9h0.9M418.3 86.1h0.9M384.3 69.1h0.9M422.8 77.8h0.9M423.1 95.5h0.9M436.3 78.9h0.9M425.0 65.7h0.9M419.1 63.0h0.9M432.7 101.1h0.9M434.6 93.7h0.9M385.7 69.5h0.9M431.1 108.2h0.9M429.5 79.4h0.9M381.0 88.8h0.9M442.6 49.2h0.9M424.1 34.5h0.9M426.0 33.4h0.9M437.1 49.2h0.9M439.4 37.9h0.9" stroke="#000" stroke-width="0.9" stroke-opacity="0.55" fill="none"/>
<path d="M421.6 55.7h.9M420.0 64.5h.9M421.2 59.8h.9M419.6 64.8h.9M420.4 57.4h.9M419.6 68.4h.9M420.8 72.6h.9M421.7 64.7h.9M424.2 58.8h.9M420.2 57.1h.9M422.0 59.9h.9M421.6 70.2h.9M420.8 60.7h.9M420.3 55.7h.9M421.4 73.0h.9M420.3 72.4h.9M421.1 60.6h.9M422.4 68.6h.9M419.0 59.2h.9M423.2 61.6h.9M420.2 67.6h.9M422.0 58.0h.9M421.7 64.1h.9M421.0 57.0h.9M421.8 69.1h.9M423.0 62.0h.9M421.3 65.0h.9M422.7 65.4h.9M423.9 59.5h.9M421.4 60.8h.9M420.1 59.7h.9M421.7 65.1h.9M422.5 69.0h.9M418.6 70.2h.9M421.0 63.8h.9M420.4 68.7h.9M423.6 59.2h.9M419.9 62.8h.9M421.3 60.7h.9M422.4 66.7h.9M423.6 55.8h.9M420.8 63.7h.9M423.1 69.0h.9M420.2 64.9h.9M421.4 71.4h.9M422.2 68.5h.9M419.1 61.5h.9M421.5 69.9h.9M420.3 69.8h.9M423.7 70.4h.9M419.4 59.8h.9M422.3 63.6h.9M420.4 68.8h.9M421.3 62.7h.9M420.2 64.7h.9M421.9 61.8h.9M422.7 61.7h.9M421.9 71.0h.9M421.1 62.1h.9M418.1 72.3h.9M421.5 68.0h.9M418.4 56.2h.9M422.6 60.0h.9M419.7 60.6h.9M418.6 72.1h.9" stroke="#222" stroke-width="0.9" stroke-opacity="0.75" fill="none"/>
<line x1="347.5" y1="26.7" x2="347.5" y2="111.5" stroke="#222" stroke-width="1.0" />
<line x1="345.5" y1="111.0" x2="445.6" y2="111.0" stroke="#2a2a2a" stroke-width="1.25" />
<line x1="445.6" y1="77" x2="445.6" y2="111.0" stroke="#aaa" stroke-width="1" />
<line x1="344.9" y1="26.7" x2="347.5" y2="26.7" stroke="#444" stroke-width="0.8" />
<line x1="346.1" y1="31.97" x2="347.5" y2="31.97" stroke="#444" stroke-width="0.8" />
<line x1="346.1" y1="37.24" x2="347.5" y2="37.24" stroke="#444" stroke-width="0.8" />
<line x1="346.1" y1="42.51" x2="347.5" y2="42.51" stroke="#444" stroke-width="0.8" />
<line x1="344.9" y1="47.77" x2="347.5" y2="47.77" stroke="#444" stroke-width="0.8" />
<line x1="346.1" y1="53.04" x2="347.5" y2="53.04" stroke="#444" stroke-width="0.8" />
<line x1="346.1" y1="58.31" x2="347.5" y2="58.31" stroke="#444" stroke-width="0.8" />
<line x1="346.1" y1="63.58" x2="347.5" y2="63.58" stroke="#444" stroke-width="0.8" />
<line x1="344.9" y1="68.85" x2="347.5" y2="68.85" stroke="#444" stroke-width="0.8" />
<line x1="346.1" y1="74.12" x2="347.5" y2="74.12" stroke="#444" stroke-width="0.8" />
<line x1="346.1" y1="79.39" x2="347.5" y2="79.39" stroke="#444" stroke-width="0.8" />
<line x1="346.1" y1="84.66" x2="347.5" y2="84.66" stroke="#444" stroke-width="0.8" />
<line x1="344.9" y1="89.92" x2="347.5" y2="89.92" stroke="#444" stroke-width="0.8" />
<line x1="346.1" y1="95.19" x2="347.5" y2="95.19" stroke="#444" stroke-width="0.8" />
<line x1="346.1" y1="100.46" x2="347.5" y2="100.46" stroke="#444" stroke-width="0.8" />
<line x1="346.1" y1="105.73" x2="347.5" y2="105.73" stroke="#444" stroke-width="0.8" />
<line x1="344.9" y1="111.0" x2="347.5" y2="111.0" stroke="#444" stroke-width="0.8" />
<rect x="347.7" y="26.7" width="26.100000000000023" height="83.5" fill="none" stroke="#222" stroke-width="1.1"/>
<rect x="373.8" y="26.7" width="71.80000000000001" height="24.500000000000004" fill="none" stroke="#1a1a1a" stroke-width="1.3"/>
<rect x="411.6" y="52.6" width="34.0" height="24.2" fill="none" stroke="#777" stroke-width="1.2"/>
<text transform="translate(428.9 73.0) scale(1.05 1)" font-size="7" text-anchor="start" fill="#666" >R3</text>
<text x="443.9" y="87.5" font-size="9" font-weight="bold" stroke="#111" stroke-width="0.22" text-anchor="end" fill="#111" >CD1a<tspan font-size="6.3" dy="-2.4">hi</tspan><tspan dy="2.4" font-size="1"> </tspan></text>
<text x="443.9" y="98.7" font-size="9" font-weight="bold" stroke="#111" stroke-width="0.22" text-anchor="end" fill="#111" >CD11c<tspan font-size="6.3" dy="-2.4">int</tspan><tspan dy="2.4" font-size="1"> </tspan></text>
<text x="4.0" y="193.0" font-size="21.5" font-weight="bold" stroke="#111" stroke-width="0.22" text-anchor="start" fill="#111" >C</text>
<text x="158.9" y="201.2" font-size="12.25" font-weight="bold" stroke="#111" stroke-width="0.22" text-anchor="middle" fill="#111" >SLN single cell suspensions</text>
<text x="377.5" y="199.0" font-size="12.25" font-weight="bold" stroke="#111" stroke-width="0.22" text-anchor="middle" fill="#111" >Human skin migrated-cells</text>
<text x="157.0" y="230.0" font-size="12.1" font-weight="bold" stroke="#111" stroke-width="0.22" text-anchor="middle" fill="#111" >DC-SIGN</text>
<line x1="70.6" y1="233.1" x2="70.6" y2="337.8" stroke="#111" stroke-width="1.45" />
<line x1="67.89999999999999" y1="337.0" x2="70.6" y2="337.0" stroke="#111" stroke-width="1.4" />
<text transform="translate(65.0 341.6) scale(1.025 1)" font-size="12" text-anchor="end" fill="#111" >0</text>
<line x1="67.89999999999999" y1="311.18" x2="70.6" y2="311.18" stroke="#111" stroke-width="1.4" />
<text transform="translate(65.0 314.98) scale(1.025 1)" font-size="12" text-anchor="end" fill="#111" >25</text>
<line x1="67.89999999999999" y1="285.35" x2="70.6" y2="285.35" stroke="#111" stroke-width="1.4" />
<text transform="translate(65.0 289.05) scale(1.025 1)" font-size="12" text-anchor="end" fill="#111" >50</text>
<line x1="67.89999999999999" y1="259.52" x2="70.6" y2="259.52" stroke="#111" stroke-width="1.4" />
<text transform="translate(65.0 263.62) scale(1.025 1)" font-size="12" text-anchor="end" fill="#111" >75</text>
<line x1="67.89999999999999" y1="233.7" x2="70.6" y2="233.7" stroke="#111" stroke-width="1.4" />
<text transform="translate(65.0 237.9) scale(1.025 1)" font-size="12" text-anchor="end" fill="#111" >100</text>
<text transform="translate(37.2 283.7) rotate(-90)" font-size="12" font-weight="bold" stroke="#111" stroke-width="0.22" text-anchor="middle" fill="#111">% positive cells</text>
<line x1="252.3" y1="233.1" x2="252.3" y2="337.8" stroke="#1a1a1a" stroke-width="1.25" />
<line x1="252.3" y1="233.7" x2="255.10000000000002" y2="233.7" stroke="#1a1a1a" stroke-width="1.2" />
<line x1="252.3" y1="285.35" x2="255.10000000000002" y2="285.35" stroke="#1a1a1a" stroke-width="1.2" />
<line x1="252.3" y1="337.0" x2="255.10000000000002" y2="337.0" stroke="#1a1a1a" stroke-width="1.2" />
<line x1="70.6" y1="314.1" x2="252.3" y2="314.1" stroke="#111" stroke-width="1.1" stroke-dasharray="1.4 1.25"/>
<rect x="74.39999999999999" y="333.8" width="37.9" height="3.2" fill="#fff" stroke="#111" stroke-width="1.3"/>
<line x1="139.0" y1="328.0" x2="139.0" y2="329.8" stroke="#111" stroke-width="1.1" />
<line x1="129.35" y1="328.0" x2="148.65" y2="328.0" stroke="#111" stroke-width="1.25" />
<rect x="120.0" y="329.8" width="38.0" height="7.2" fill="#050505"/>
<line x1="229.75" y1="322.3" x2="229.75" y2="323.9" stroke="#111" stroke-width="1.1" />
<line x1="220.1" y1="322.3" x2="239.4" y2="322.3" stroke="#111" stroke-width="1.25" />
<rect x="210.6" y="323.9" width="38.3" height="13.1" fill="#050505"/>
<text x="183.5" y="337.16" font-size="16" text-anchor="middle" fill="#000" stroke="#000" stroke-width="0.25">*</text>
<line x1="69.89999999999999" y1="337.0" x2="255.3" y2="337.0" stroke="#111" stroke-width="1.9" />
<line x1="93.3" y1="337.0" x2="93.3" y2="340.8" stroke="#111" stroke-width="1.2" />
<line x1="138.8" y1="337.0" x2="138.8" y2="340.8" stroke="#111" stroke-width="1.2" />
<line x1="184.2" y1="337.0" x2="184.2" y2="340.8" stroke="#111" stroke-width="1.2" />
<line x1="229.7" y1="337.0" x2="229.7" y2="340.8" stroke="#111" stroke-width="1.2" />
<text x="366.9" y="227.4" font-size="12.1" font-weight="bold" stroke="#111" stroke-width="0.22" text-anchor="middle" fill="#111" >DC-SIGN</text>
<line x1="285.9" y1="232.0" x2="285.9" y2="337.8" stroke="#222" stroke-width="1.5" />
<line x1="283.29999999999995" y1="337.0" x2="285.9" y2="337.0" stroke="#222" stroke-width="1.4" />
<line x1="283.29999999999995" y1="310.9" x2="285.9" y2="310.9" stroke="#222" stroke-width="1.4" />
<line x1="283.29999999999995" y1="284.8" x2="285.9" y2="284.8" stroke="#222" stroke-width="1.4" />
<line x1="283.29999999999995" y1="258.7" x2="285.9" y2="258.7" stroke="#222" stroke-width="1.4" />
<line x1="283.29999999999995" y1="232.6" x2="285.9" y2="232.6" stroke="#222" stroke-width="1.4" />
<line x1="468.4" y1="232.0" x2="468.4" y2="337.8" stroke="#1a1a1a" stroke-width="1.25" />
<line x1="468.4" y1="233.2" x2="471.0" y2="233.2" stroke="#1a1a1a" stroke-width="1.2" />
<line x1="468.4" y1="285.2" x2="471.0" y2="285.2" stroke="#1a1a1a" stroke-width="1.2" />
<line x1="468.4" y1="337.2" x2="471.0" y2="337.2" stroke="#1a1a1a" stroke-width="1.2" />
<text transform="translate(475.0 237.4) scale(1.05 1)" font-size="12" text-anchor="start" fill="#111" >10</text>
<text transform="translate(475.0 291.5) scale(1.05 1)" font-size="12" text-anchor="start" fill="#111" >5</text>
<text transform="translate(474.6 339.3) scale(1.05 1)" font-size="12" text-anchor="start" fill="#111" >0</text>
<text transform="translate(516.3 282.2) rotate(-90)" font-size="12" font-weight="bold" stroke="#111" stroke-width="0.22" text-anchor="middle" fill="#111">MFI</text>
<line x1="308.75" y1="286.3" x2="308.75" y2="295.6" stroke="#111" stroke-width="1.1" />
<line x1="299.1" y1="286.3" x2="318.4" y2="286.3" stroke="#111" stroke-width="1.25" />
<rect x="290.1" y="296.20000000000005" width="37.3" height="40.8" fill="#fff" stroke="#111" stroke-width="1.3"/>
<line x1="354.25" y1="305.0" x2="354.25" y2="313.0" stroke="#111" stroke-width="1.1" />
<line x1="344.6" y1="305.0" x2="363.9" y2="305.0" stroke="#111" stroke-width="1.25" />
<rect x="335.5" y="313.0" width="37.5" height="24.0" fill="#050505"/>
<line x1="399.6" y1="329.5" x2="399.6" y2="332.4" stroke="#111" stroke-width="1.1" />
<line x1="389.95" y1="329.5" x2="409.25" y2="329.5" stroke="#111" stroke-width="1.25" />
<rect x="381.8" y="333.0" width="35.6" height="4.0" fill="#fff" stroke="#111" stroke-width="1.3"/>
<line x1="445.25" y1="330.0" x2="445.25" y2="331.3" stroke="#111" stroke-width="1.1" />
<line x1="435.6" y1="330.0" x2="454.9" y2="330.0" stroke="#111" stroke-width="1.25" />
<rect x="426.3" y="331.3" width="37.9" height="5.7" fill="#050505"/>
<line x1="285.9" y1="314.2" x2="468.4" y2="314.2" stroke="#111" stroke-width="1.1" stroke-dasharray="1.4 1.25"/>
<text x="399.4" y="326.46" font-size="16" text-anchor="middle" fill="#000" stroke="#000" stroke-width="0.25">*</text>
<line x1="285.2" y1="337.0" x2="470.8" y2="337.0" stroke="#111" stroke-width="1.9" />
<line x1="308.7" y1="337.0" x2="308.7" y2="340.8" stroke="#111" stroke-width="1.2" />
<line x1="353.8" y1="337.0" x2="353.8" y2="340.8" stroke="#111" stroke-width="1.2" />
<line x1="400.0" y1="337.0" x2="400.0" y2="340.8" stroke="#111" stroke-width="1.2" />
<line x1="445.0" y1="337.0" x2="445.0" y2="340.8" stroke="#111" stroke-width="1.2" />
<rect x="410.6" y="241.8" width="18.2" height="9.2" fill="#fff" stroke="#111" stroke-width="1.2"/>
<rect x="410.0" y="257.0" width="19.3" height="10.0" fill="#050505"/>
<text x="436.0" y="250.3" font-size="12" text-anchor="start" fill="#111" >=%</text>
<text x="436.0" y="266.0" font-size="12" text-anchor="start" fill="#111" >=MFI</text>
<text x="156.9" y="365.8" font-size="12.1" font-weight="bold" stroke="#111" stroke-width="0.22" text-anchor="middle" fill="#111" >Langerin</text>
<line x1="67.5" y1="379.9" x2="67.5" y2="482.8" stroke="#111" stroke-width="1.45" />
<line x1="64.8" y1="482.0" x2="67.5" y2="482.0" stroke="#111" stroke-width="1.4" />
<text transform="translate(64.2 487.8) scale(1.025 1)" font-size="12" text-anchor="end" fill="#111" >0</text>
<line x1="64.8" y1="456.62" x2="67.5" y2="456.62" stroke="#111" stroke-width="1.4" />
<text transform="translate(64.2 460.52) scale(1.025 1)" font-size="12" text-anchor="end" fill="#111" >25</text>
<line x1="64.8" y1="431.25" x2="67.5" y2="431.25" stroke="#111" stroke-width="1.4" />
<text transform="translate(64.2 434.85) scale(1.025 1)" font-size="12" text-anchor="end" fill="#111" >50</text>
<line x1="64.8" y1="405.88" x2="67.5" y2="405.88" stroke="#111" stroke-width="1.4" />
<text transform="translate(64.2 409.68) scale(1.025 1)" font-size="12" text-anchor="end" fill="#111" >75</text>
<line x1="64.8" y1="380.5" x2="67.5" y2="380.5" stroke="#111" stroke-width="1.4" />
<text transform="translate(64.2 383.9) scale(1.025 1)" font-size="12" text-anchor="end" fill="#111" >100</text>
<text transform="translate(36.9 428.8) rotate(-90)" font-size="12.3" font-weight="bold" stroke="#111" stroke-width="0.22" text-anchor="middle" fill="#111">% positive cells</text>
<line x1="252.4" y1="379.9" x2="252.4" y2="482.8" stroke="#1a1a1a" stroke-width="1.25" />
<line x1="252.4" y1="482.0" x2="255.0" y2="482.0" stroke="#1a1a1a" stroke-width="1.2" />
<line x1="252.4" y1="461.7" x2="255.0" y2="461.7" stroke="#1a1a1a" stroke-width="1.2" />
<line x1="252.4" y1="441.4" x2="255.0" y2="441.4" stroke="#1a1a1a" stroke-width="1.2" />
<line x1="252.4" y1="421.1" x2="255.0" y2="421.1" stroke="#1a1a1a" stroke-width="1.2" />
<line x1="252.4" y1="400.8" x2="255.0" y2="400.8" stroke="#1a1a1a" stroke-width="1.2" />
<line x1="252.4" y1="380.5" x2="255.0" y2="380.5" stroke="#1a1a1a" stroke-width="1.2" />
<line x1="91.5" y1="430.5" x2="91.5" y2="446.7" stroke="#111" stroke-width="1.1" />
<line x1="81.85" y1="430.5" x2="101.15" y2="430.5" stroke="#111" stroke-width="1.25" />
<rect x="73.1" y="447.3" width="36.8" height="34.7" fill="#fff" stroke="#111" stroke-width="1.3"/>
<line x1="127.7" y1="480.6" x2="147.0" y2="480.6" stroke="#111" stroke-width="1.2" />
<line x1="183.4" y1="408.2" x2="183.4" y2="415.4" stroke="#111" stroke-width="1.1" />
<line x1="173.75" y1="408.2" x2="193.05" y2="408.2" stroke="#111" stroke-width="1.25" />
<rect x="164.4" y="416.0" width="38.0" height="66.0" fill="#fff" stroke="#111" stroke-width="1.3"/>
<line x1="229.15" y1="426.8" x2="229.15" y2="446.2" stroke="#111" stroke-width="1.1" />
<line x1="219.5" y1="426.8" x2="238.8" y2="426.8" stroke="#111" stroke-width="1.25" />
<rect x="210.0" y="446.2" width="38.3" height="35.8" fill="#050505"/>
<line x1="66.8" y1="482.0" x2="255.2" y2="482.0" stroke="#111" stroke-width="1.9" />
<line x1="91.7" y1="482.0" x2="91.7" y2="485.8" stroke="#111" stroke-width="1.2" />
<line x1="137.5" y1="482.0" x2="137.5" y2="485.8" stroke="#111" stroke-width="1.2" />
<line x1="183.0" y1="482.0" x2="183.0" y2="485.8" stroke="#111" stroke-width="1.2" />
<line x1="229.0" y1="482.0" x2="229.0" y2="485.8" stroke="#111" stroke-width="1.2" />
<line x1="67.5" y1="480.7" x2="252.4" y2="480.7" stroke="#111" stroke-width="1.1" stroke-dasharray="1.4 1.25"/>
<text x="377.8" y="363.8" font-size="12.1" font-weight="bold" stroke="#111" stroke-width="0.22" text-anchor="middle" fill="#111" >Langerin</text>
<line x1="285.0" y1="379.9" x2="285.0" y2="482.8" stroke="#222" stroke-width="1.5" />
<line x1="282.4" y1="482.0" x2="285.0" y2="482.0" stroke="#222" stroke-width="1.4" />
<line x1="282.4" y1="456.62" x2="285.0" y2="456.62" stroke="#222" stroke-width="1.4" />
<line x1="282.4" y1="431.25" x2="285.0" y2="431.25" stroke="#222" stroke-width="1.4" />
<line x1="282.4" y1="405.88" x2="285.0" y2="405.88" stroke="#222" stroke-width="1.4" />
<line x1="282.4" y1="380.5" x2="285.0" y2="380.5" stroke="#222" stroke-width="1.4" />
<line x1="467.4" y1="379.9" x2="467.4" y2="482.8" stroke="#1a1a1a" stroke-width="1.25" />
<line x1="467.4" y1="380.4" x2="469.4" y2="380.4" stroke="#1a1a1a" stroke-width="1.2" />
<line x1="467.4" y1="400.2" x2="469.4" y2="400.2" stroke="#1a1a1a" stroke-width="1.2" />
<line x1="467.4" y1="420.6" x2="469.4" y2="420.6" stroke="#1a1a1a" stroke-width="1.2" />
<line x1="467.4" y1="441.4" x2="469.4" y2="441.4" stroke="#1a1a1a" stroke-width="1.2" />
<line x1="467.4" y1="461.4" x2="469.4" y2="461.4" stroke="#1a1a1a" stroke-width="1.2" />
<line x1="467.4" y1="481.8" x2="469.4" y2="481.8" stroke="#1a1a1a" stroke-width="1.2" />
<text transform="translate(478.6 485.7) scale(1.05 1)" font-size="12" text-anchor="start" fill="#111" >0</text>
<text transform="translate(475.0 465.6) scale(1.05 1)" font-size="12" text-anchor="start" fill="#111" >200</text>
<text transform="translate(475.0 446.3) scale(1.05 1)" font-size="12" text-anchor="start" fill="#111" >400</text>
<text transform="translate(475.0 427.0) scale(1.05 1)" font-size="12" text-anchor="start" fill="#111" >600</text>
<text transform="translate(475.0 406.6) scale(1.05 1)" font-size="12" text-anchor="start" fill="#111" >800</text>
<text transform="translate(471.8 386.1) scale(1.05 1)" font-size="12" text-anchor="start" fill="#111" >1000</text>
<text transform="translate(516.3 428.2) rotate(-90)" font-size="12" font-weight="bold" stroke="#111" stroke-width="0.22" text-anchor="middle" fill="#111">MFI</text>
<line x1="307.9" y1="446.3" x2="307.9" y2="453.2" stroke="#111" stroke-width="1.1" />
<line x1="298.25" y1="446.3" x2="317.55" y2="446.3" stroke="#111" stroke-width="1.25" />
<rect x="289.40000000000003" y="453.8" width="37.0" height="28.2" fill="#fff" stroke="#111" stroke-width="1.3"/>
<line x1="398.75" y1="381.5" x2="398.75" y2="382.9" stroke="#111" stroke-width="1.1" />
<line x1="389.1" y1="381.5" x2="408.4" y2="381.5" stroke="#111" stroke-width="1.25" />
<rect x="380.1" y="383.5" width="37.3" height="98.5" fill="#fff" stroke="#111" stroke-width="1.3"/>
<line x1="444.65" y1="416.8" x2="444.65" y2="438.2" stroke="#111" stroke-width="1.1" />
<line x1="435.0" y1="416.8" x2="454.3" y2="416.8" stroke="#111" stroke-width="1.25" />
<rect x="426.3" y="438.2" width="36.7" height="43.8" fill="#050505"/>
<text x="398.6" y="381.46" font-size="16" text-anchor="middle" fill="#000" stroke="#000" stroke-width="0.25">*</text>
<line x1="284.3" y1="482.0" x2="469.6" y2="482.0" stroke="#111" stroke-width="1.9" />
<line x1="307.5" y1="482.0" x2="307.5" y2="485.8" stroke="#111" stroke-width="1.2" />
<line x1="353.0" y1="482.0" x2="353.0" y2="485.8" stroke="#111" stroke-width="1.2" />
<line x1="398.8" y1="482.0" x2="398.8" y2="485.8" stroke="#111" stroke-width="1.2" />
<line x1="444.3" y1="482.0" x2="444.3" y2="485.8" stroke="#111" stroke-width="1.2" />
<line x1="285.0" y1="480.7" x2="467.4" y2="480.7" stroke="#111" stroke-width="1.1" stroke-dasharray="1.4 1.25"/>
<text x="163.5" y="521.3" font-size="12.1" font-weight="bold" stroke="#111" stroke-width="0.22" text-anchor="middle" fill="#111" >E-cadherin</text>
<line x1="66.3" y1="531.9" x2="66.3" y2="631.5999999999999" stroke="#111" stroke-width="1.45" />
<line x1="63.599999999999994" y1="630.8" x2="66.3" y2="630.8" stroke="#111" stroke-width="1.4" />
<text transform="translate(62.2 641.0) scale(1.025 1)" font-size="12" text-anchor="end" fill="#111" >0</text>
<line x1="63.599999999999994" y1="606.22" x2="66.3" y2="606.22" stroke="#111" stroke-width="1.4" />
<text transform="translate(62.2 609.82) scale(1.025 1)" font-size="12" text-anchor="end" fill="#111" >25</text>
<line x1="63.599999999999994" y1="581.65" x2="66.3" y2="581.65" stroke="#111" stroke-width="1.4" />
<text transform="translate(62.2 585.75) scale(1.025 1)" font-size="12" text-anchor="end" fill="#111" >50</text>
<line x1="63.599999999999994" y1="557.08" x2="66.3" y2="557.08" stroke="#111" stroke-width="1.4" />
<text transform="translate(62.2 561.88) scale(1.025 1)" font-size="12" text-anchor="end" fill="#111" >75</text>
<line x1="63.599999999999994" y1="532.5" x2="66.3" y2="532.5" stroke="#111" stroke-width="1.4" />
<text transform="translate(62.2 536.8) scale(1.025 1)" font-size="12" text-anchor="end" fill="#111" >100</text>
<text transform="translate(36.8 581.6) rotate(-90)" font-size="12.3" font-weight="bold" stroke="#111" stroke-width="0.22" text-anchor="middle" fill="#111">% positive cells</text>
<line x1="250.8" y1="531.9" x2="250.8" y2="577.9" stroke="#1a1a1a" stroke-width="1.3" />
<line x1="250.8" y1="532.5" x2="252.8" y2="532.5" stroke="#1a1a1a" stroke-width="1.2" />
<line x1="249.20000000000002" y1="577.3" x2="252.8" y2="577.3" stroke="#1a1a1a" stroke-width="1.2" />
<line x1="250.8" y1="585.6" x2="250.8" y2="631.5999999999999" stroke="#1a1a1a" stroke-width="1.3" />
<line x1="249.20000000000002" y1="586.2" x2="252.8" y2="586.2" stroke="#1a1a1a" stroke-width="1.2" />
<line x1="250.8" y1="608.5" x2="252.8" y2="608.5" stroke="#1a1a1a" stroke-width="1.2" />
<line x1="66.3" y1="614.4" x2="250.8" y2="614.4" stroke="#111" stroke-width="1.1" stroke-dasharray="1.4 1.25"/>
<line x1="89.4" y1="628.2" x2="89.4" y2="629.3" stroke="#111" stroke-width="1.1" />
<line x1="79.75" y1="628.2" x2="99.05" y2="628.2" stroke="#111" stroke-width="1.25" />
<rect x="70.6" y="629.9" width="37.6" height="0.9" fill="#fff" stroke="#111" stroke-width="1.3"/>
<rect x="116.8" y="616.2" width="37.5" height="14.6" fill="#050505"/>
<line x1="181.65" y1="613.8" x2="181.65" y2="620.0" stroke="#111" stroke-width="1.1" />
<line x1="172.0" y1="613.8" x2="191.3" y2="613.8" stroke="#111" stroke-width="1.25" />
<rect x="162.6" y="620.6" width="38.1" height="10.2" fill="#fff" stroke="#111" stroke-width="1.3"/>
<rect x="208.1" y="586.2" width="38.7" height="44.6" fill="#050505"/>
<line x1="227.45" y1="556.6" x2="227.45" y2="572.6" stroke="#111" stroke-width="1.1" />
<line x1="217.8" y1="556.6" x2="237.1" y2="556.6" stroke="#111" stroke-width="1.25" />
<rect x="208.1" y="572.6" width="38.7" height="4.8" fill="#050505"/>
<line x1="65.6" y1="630.8" x2="252.8" y2="630.8" stroke="#111" stroke-width="1.9" />
<line x1="89.5" y1="630.8" x2="89.5" y2="634.5999999999999" stroke="#111" stroke-width="1.2" />
<line x1="135.5" y1="630.8" x2="135.5" y2="634.5999999999999" stroke="#111" stroke-width="1.2" />
<line x1="181.3" y1="630.8" x2="181.3" y2="634.5999999999999" stroke="#111" stroke-width="1.2" />
<line x1="227.5" y1="630.8" x2="227.5" y2="634.5999999999999" stroke="#111" stroke-width="1.2" />
<text x="64.8" y="654.3" font-size="12.25" font-weight="bold" stroke="#111" stroke-width="0.22" text-anchor="start" fill="#111" >CD1a<tspan font-size="7.5" dy="-3.2">int</tspan><tspan dy="3.2" font-size="1"> </tspan>CD11c<tspan font-size="7.5" dy="-3.2">hi</tspan><tspan dy="3.2" font-size="1"> </tspan></text>
<text x="162.7" y="654.4" font-size="12.3" font-weight="bold" stroke="#111" stroke-width="0.22" text-anchor="start" fill="#111" >CD1a<tspan font-size="7.5" dy="-3.2">hi</tspan><tspan dy="3.2" font-size="1"> </tspan>CD11c<tspan font-size="7.5" dy="-3.2">int</tspan><tspan dy="3.2" font-size="1"> </tspan></text>
<text x="375.2" y="518.8" font-size="12.1" font-weight="bold" stroke="#111" stroke-width="0.22" text-anchor="middle" fill="#111" >E-cadherin</text>
<line x1="283.0" y1="532.4" x2="283.0" y2="631.5999999999999" stroke="#222" stroke-width="1.5" />
<line x1="280.4" y1="630.8" x2="283.0" y2="630.8" stroke="#222" stroke-width="1.4" />
<line x1="280.4" y1="606.35" x2="283.0" y2="606.35" stroke="#222" stroke-width="1.4" />
<line x1="280.4" y1="581.9" x2="283.0" y2="581.9" stroke="#222" stroke-width="1.4" />
<line x1="280.4" y1="557.45" x2="283.0" y2="557.45" stroke="#222" stroke-width="1.4" />
<line x1="280.4" y1="533.0" x2="283.0" y2="533.0" stroke="#222" stroke-width="1.4" />
<line x1="464.3" y1="532.4" x2="464.3" y2="578.5" stroke="#1a1a1a" stroke-width="1.3" />
<line x1="464.3" y1="533.0" x2="466.5" y2="533.0" stroke="#1a1a1a" stroke-width="1.2" />
<line x1="462.7" y1="577.9" x2="466.5" y2="577.9" stroke="#1a1a1a" stroke-width="1.2" />
<line x1="464.3" y1="586.2" x2="464.3" y2="631.5999999999999" stroke="#1a1a1a" stroke-width="1.3" />
<line x1="462.7" y1="586.8" x2="466.5" y2="586.8" stroke="#1a1a1a" stroke-width="1.2" />
<line x1="464.3" y1="608.8" x2="466.5" y2="608.8" stroke="#1a1a1a" stroke-width="1.2" />
<text transform="translate(470.4 537.4) scale(1.05 1)" font-size="12" text-anchor="start" fill="#111" >25</text>
<text transform="translate(470.4 578.9) scale(1.05 1)" font-size="12" text-anchor="start" fill="#111" >12,5</text>
<text transform="translate(473.0 594.0) scale(1.05 1)" font-size="12" text-anchor="start" fill="#111" >5</text>
<text transform="translate(472.4 637.3) scale(1.05 1)" font-size="12" text-anchor="start" fill="#111" >0</text>
<text transform="translate(516.5 582.8) rotate(-90)" font-size="12" font-weight="bold" stroke="#111" stroke-width="0.22" text-anchor="middle" fill="#111">MFI</text>
<line x1="306.0" y1="620.7" x2="306.0" y2="622.9" stroke="#111" stroke-width="1.1" />
<line x1="296.35" y1="620.7" x2="315.65" y2="620.7" stroke="#111" stroke-width="1.25" />
<rect x="287.6" y="623.5" width="36.8" height="7.3" fill="#fff" stroke="#111" stroke-width="1.3"/>
<line x1="351.25" y1="621.2" x2="351.25" y2="623.2" stroke="#111" stroke-width="1.1" />
<line x1="341.6" y1="621.2" x2="360.9" y2="621.2" stroke="#111" stroke-width="1.25" />
<rect x="332.5" y="623.2" width="37.5" height="7.6" fill="#050505"/>
<line x1="396.65" y1="538.7" x2="396.65" y2="547.4" stroke="#111" stroke-width="1.1" />
<line x1="387.0" y1="538.7" x2="406.3" y2="538.7" stroke="#111" stroke-width="1.25" />
<rect x="378.1" y="548.0" width="37.1" height="82.8" fill="#fff" stroke="#111" stroke-width="1.3"/>
<line x1="441.65" y1="598.2" x2="441.65" y2="603.8" stroke="#111" stroke-width="1.1" />
<line x1="432.0" y1="598.2" x2="451.3" y2="598.2" stroke="#111" stroke-width="1.25" />
<rect x="423.3" y="603.8" width="36.7" height="27.0" fill="#050505"/>
<line x1="283.0" y1="614.4" x2="464.3" y2="614.4" stroke="#111" stroke-width="1.1" stroke-dasharray="1.4 1.25"/>
<text x="396.1" y="538.96" font-size="16" text-anchor="middle" fill="#000" stroke="#000" stroke-width="0.25">*</text>
<text x="441.2" y="601.66" font-size="16" text-anchor="middle" fill="#000" stroke="#000" stroke-width="0.25">*</text>
<line x1="282.3" y1="630.8" x2="466.4" y2="630.8" stroke="#111" stroke-width="1.9" />
<line x1="305.8" y1="630.8" x2="305.8" y2="634.5999999999999" stroke="#111" stroke-width="1.2" />
<line x1="350.8" y1="630.8" x2="350.8" y2="634.5999999999999" stroke="#111" stroke-width="1.2" />
<line x1="396.3" y1="630.8" x2="396.3" y2="634.5999999999999" stroke="#111" stroke-width="1.2" />
<line x1="441.3" y1="630.8" x2="441.3" y2="634.5999999999999" stroke="#111" stroke-width="1.2" />
<text x="282.7" y="654.4" font-size="12.25" font-weight="bold" stroke="#111" stroke-width="0.22" text-anchor="start" fill="#111" >CD1a<tspan font-size="7.5" dy="-3.2">int</tspan><tspan dy="3.2" font-size="1"> </tspan>CD11c<tspan font-size="7.5" dy="-3.2">hi</tspan><tspan dy="3.2" font-size="1"> </tspan></text>
<text x="378.3" y="654.4" font-size="12.4" font-weight="bold" stroke="#111" stroke-width="0.22" text-anchor="start" fill="#111" >CD1a<tspan font-size="7.5" dy="-3.2">hi</tspan><tspan dy="3.2" font-size="1"> </tspan>CD11c<tspan font-size="7.5" dy="-3.2">int</tspan><tspan dy="3.2" font-size="1"> </tspan></text>
</svg>
</body>
</html>
